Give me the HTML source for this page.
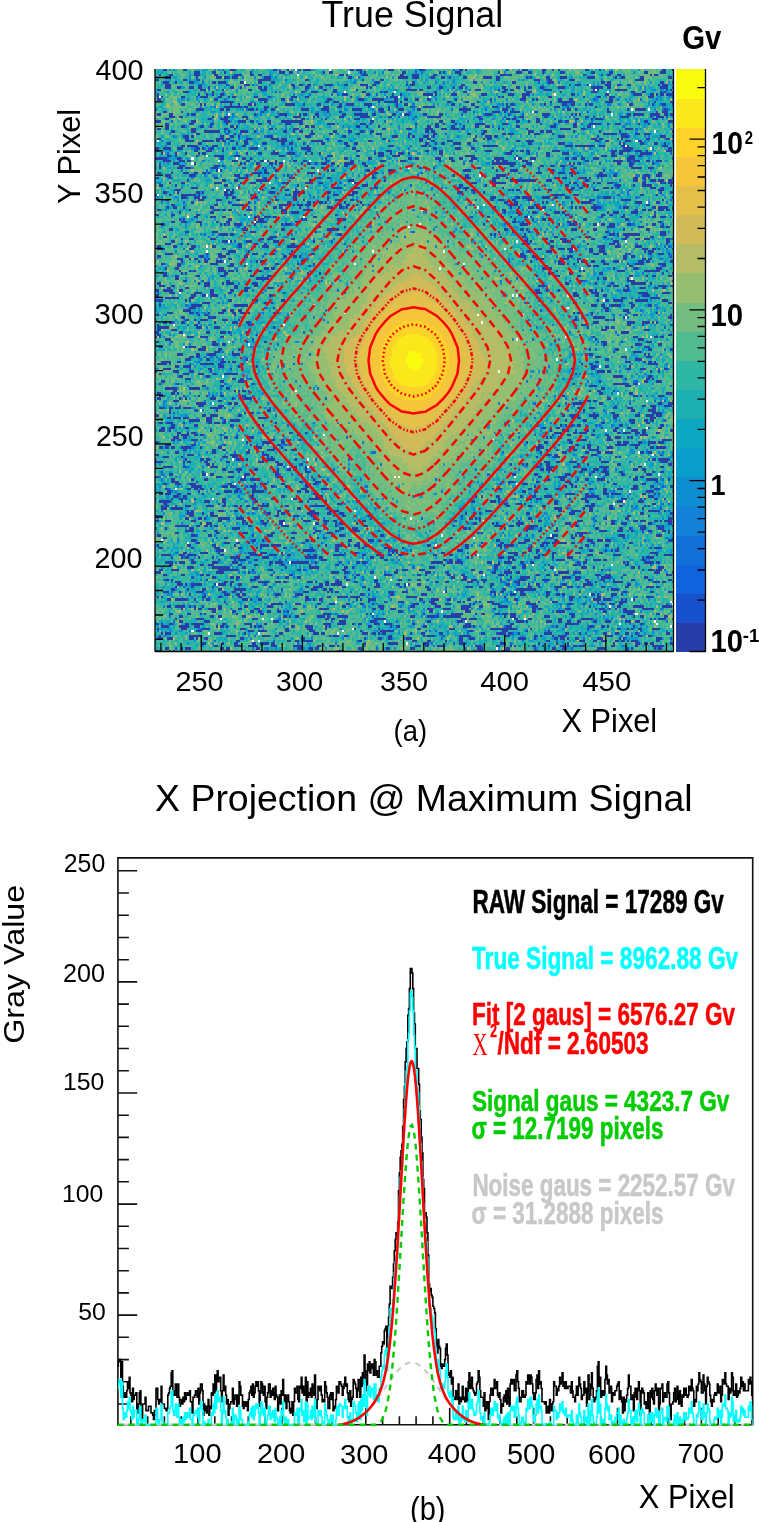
<!DOCTYPE html>
<html><head><meta charset="utf-8"><style>
html,body{margin:0;padding:0;background:#fff}
body{width:759px;height:1522px;position:relative;overflow:hidden;font-family:"Liberation Sans", sans-serif}
#hm{position:absolute;image-rendering:pixelated;left:155.0px;top:69.0px;width:518.5px;height:582.5px}
#fb{position:absolute;left:155.0px;top:69.0px}
svg.main{position:absolute;left:0;top:0}
</style></head><body>
<svg id="fb" width="518.5" height="582.5" viewBox="0 0 256 238" preserveAspectRatio="none" shape-rendering="crispEdges"><rect x="0" y="0" width="9" height="9" fill="#2e90a7"/><rect x="8" y="0" width="9" height="9" fill="#3ca69e"/><rect x="16" y="0" width="9" height="9" fill="#2990ac"/><rect x="24" y="0" width="9" height="9" fill="#3ba0a0"/><rect x="32" y="0" width="9" height="9" fill="#3291a6"/><rect x="40" y="0" width="9" height="9" fill="#4aa199"/><rect x="48" y="0" width="9" height="9" fill="#3796a3"/><rect x="56" y="0" width="9" height="9" fill="#2f9ea9"/><rect x="64" y="0" width="9" height="9" fill="#40a6a4"/><rect x="72" y="0" width="9" height="9" fill="#399ea2"/><rect x="80" y="0" width="9" height="9" fill="#3fa59f"/><rect x="88" y="0" width="9" height="9" fill="#41ab9f"/><rect x="96" y="0" width="9" height="9" fill="#3996a3"/><rect x="104" y="0" width="9" height="9" fill="#3ea29e"/><rect x="112" y="0" width="9" height="9" fill="#44ad9b"/><rect x="120" y="0" width="9" height="9" fill="#3597a3"/><rect x="128" y="0" width="9" height="9" fill="#299bad"/><rect x="136" y="0" width="9" height="9" fill="#309ea6"/><rect x="144" y="0" width="9" height="9" fill="#2b9aab"/><rect x="152" y="0" width="9" height="9" fill="#49aa97"/><rect x="160" y="0" width="9" height="9" fill="#4aaf97"/><rect x="168" y="0" width="9" height="9" fill="#3f9c9d"/><rect x="176" y="0" width="9" height="9" fill="#45a09a"/><rect x="184" y="0" width="9" height="9" fill="#379ca2"/><rect x="192" y="0" width="9" height="9" fill="#3b9da1"/><rect x="200" y="0" width="9" height="9" fill="#389da1"/><rect x="208" y="0" width="9" height="9" fill="#36a0a5"/><rect x="216" y="0" width="9" height="9" fill="#3494a5"/><rect x="224" y="0" width="9" height="9" fill="#409b9e"/><rect x="232" y="0" width="9" height="9" fill="#49ab97"/><rect x="240" y="0" width="9" height="9" fill="#4ea995"/><rect x="248" y="0" width="9" height="9" fill="#328ea4"/><rect x="0" y="8" width="9" height="10" fill="#3fa9a1"/><rect x="8" y="8" width="9" height="10" fill="#4ead95"/><rect x="16" y="8" width="9" height="10" fill="#399fa2"/><rect x="24" y="8" width="9" height="10" fill="#339ea7"/><rect x="32" y="8" width="9" height="10" fill="#2f88a7"/><rect x="40" y="8" width="9" height="10" fill="#3e9e9f"/><rect x="48" y="8" width="9" height="10" fill="#2c94aa"/><rect x="56" y="8" width="9" height="10" fill="#39a9a1"/><rect x="64" y="8" width="9" height="10" fill="#3ba3a1"/><rect x="72" y="8" width="9" height="10" fill="#2d9ba8"/><rect x="80" y="8" width="9" height="10" fill="#3098a7"/><rect x="88" y="8" width="9" height="10" fill="#3499a8"/><rect x="96" y="8" width="9" height="10" fill="#399ba1"/><rect x="104" y="8" width="9" height="10" fill="#3699a6"/><rect x="112" y="8" width="9" height="10" fill="#2c8bad"/><rect x="120" y="8" width="9" height="10" fill="#2e99ab"/><rect x="128" y="8" width="9" height="10" fill="#469b9b"/><rect x="136" y="8" width="9" height="10" fill="#35a8a4"/><rect x="144" y="8" width="9" height="10" fill="#3ca0a1"/><rect x="152" y="8" width="9" height="10" fill="#4d9a96"/><rect x="160" y="8" width="9" height="10" fill="#34a3a7"/><rect x="168" y="8" width="9" height="10" fill="#3291a7"/><rect x="176" y="8" width="9" height="10" fill="#3e9d9d"/><rect x="184" y="8" width="9" height="10" fill="#3faa9f"/><rect x="192" y="8" width="9" height="10" fill="#3c9fa2"/><rect x="200" y="8" width="9" height="10" fill="#2f8fa7"/><rect x="208" y="8" width="9" height="10" fill="#35a9a4"/><rect x="216" y="8" width="9" height="10" fill="#329dac"/><rect x="224" y="8" width="9" height="10" fill="#3e9f9f"/><rect x="232" y="8" width="9" height="10" fill="#429da0"/><rect x="240" y="8" width="9" height="10" fill="#309bab"/><rect x="248" y="8" width="9" height="10" fill="#2488b3"/><rect x="0" y="17" width="9" height="10" fill="#459898"/><rect x="8" y="17" width="9" height="10" fill="#47a598"/><rect x="16" y="17" width="9" height="10" fill="#359ea2"/><rect x="24" y="17" width="9" height="10" fill="#349aa5"/><rect x="32" y="17" width="9" height="10" fill="#2f92ac"/><rect x="40" y="17" width="9" height="10" fill="#339ba4"/><rect x="48" y="17" width="9" height="10" fill="#33a1a9"/><rect x="56" y="17" width="9" height="10" fill="#309da7"/><rect x="64" y="17" width="9" height="10" fill="#3489a5"/><rect x="72" y="17" width="9" height="10" fill="#3e9c9e"/><rect x="80" y="17" width="9" height="10" fill="#2ea2aa"/><rect x="88" y="17" width="9" height="10" fill="#37a2a4"/><rect x="96" y="17" width="9" height="10" fill="#258ead"/><rect x="104" y="17" width="9" height="10" fill="#349da7"/><rect x="112" y="17" width="9" height="10" fill="#3ba6a1"/><rect x="120" y="17" width="9" height="10" fill="#32a4ab"/><rect x="128" y="17" width="9" height="10" fill="#369ea2"/><rect x="136" y="17" width="9" height="10" fill="#43959a"/><rect x="144" y="17" width="9" height="10" fill="#30a0a7"/><rect x="152" y="17" width="9" height="10" fill="#30a2a7"/><rect x="160" y="17" width="9" height="10" fill="#3397a6"/><rect x="168" y="17" width="9" height="10" fill="#2a99ac"/><rect x="176" y="17" width="9" height="10" fill="#3398a6"/><rect x="184" y="17" width="9" height="10" fill="#45a09b"/><rect x="192" y="17" width="9" height="10" fill="#329ca5"/><rect x="200" y="17" width="9" height="10" fill="#3896a2"/><rect x="208" y="17" width="9" height="10" fill="#359ba6"/><rect x="216" y="17" width="9" height="10" fill="#339ea8"/><rect x="224" y="17" width="9" height="10" fill="#33a6a8"/><rect x="232" y="17" width="9" height="10" fill="#2c98ab"/><rect x="240" y="17" width="9" height="10" fill="#349ca7"/><rect x="248" y="17" width="9" height="10" fill="#3797a3"/><rect x="0" y="26" width="9" height="9" fill="#309bab"/><rect x="8" y="26" width="9" height="9" fill="#35a1a4"/><rect x="16" y="26" width="9" height="9" fill="#388da0"/><rect x="24" y="26" width="9" height="9" fill="#3492a3"/><rect x="32" y="26" width="9" height="9" fill="#2f8fa9"/><rect x="40" y="26" width="9" height="9" fill="#2e96ab"/><rect x="48" y="26" width="9" height="9" fill="#31a3ab"/><rect x="56" y="26" width="9" height="9" fill="#2c95a9"/><rect x="64" y="26" width="9" height="9" fill="#2e9fab"/><rect x="72" y="26" width="9" height="9" fill="#3a94a0"/><rect x="80" y="26" width="9" height="9" fill="#3ba5a0"/><rect x="88" y="26" width="9" height="9" fill="#34a3a5"/><rect x="96" y="26" width="9" height="9" fill="#36a3a4"/><rect x="104" y="26" width="9" height="9" fill="#3ea99f"/><rect x="112" y="26" width="9" height="9" fill="#339da4"/><rect x="120" y="26" width="9" height="9" fill="#34aaa6"/><rect x="128" y="26" width="9" height="9" fill="#3192a6"/><rect x="136" y="26" width="9" height="9" fill="#2c99a9"/><rect x="144" y="26" width="9" height="9" fill="#34a0a3"/><rect x="152" y="26" width="9" height="9" fill="#44a29b"/><rect x="160" y="26" width="9" height="9" fill="#3a939f"/><rect x="168" y="26" width="9" height="9" fill="#3fa79c"/><rect x="176" y="26" width="9" height="9" fill="#32a2a6"/><rect x="184" y="26" width="9" height="9" fill="#3da19e"/><rect x="192" y="26" width="9" height="9" fill="#38a7a1"/><rect x="200" y="26" width="9" height="9" fill="#35a1a4"/><rect x="208" y="26" width="9" height="9" fill="#3da29f"/><rect x="216" y="26" width="9" height="9" fill="#3494a4"/><rect x="224" y="26" width="9" height="9" fill="#338ba4"/><rect x="232" y="26" width="9" height="9" fill="#2b88b0"/><rect x="240" y="26" width="9" height="9" fill="#2e9dad"/><rect x="248" y="26" width="9" height="9" fill="#2e92a9"/><rect x="0" y="34" width="9" height="9" fill="#2b91ac"/><rect x="8" y="34" width="9" height="9" fill="#288dac"/><rect x="16" y="34" width="9" height="9" fill="#4fa99b"/><rect x="24" y="34" width="9" height="9" fill="#3ea0a8"/><rect x="32" y="34" width="9" height="9" fill="#339fa6"/><rect x="40" y="34" width="9" height="9" fill="#389ba6"/><rect x="48" y="34" width="9" height="9" fill="#34a0a9"/><rect x="56" y="34" width="9" height="9" fill="#3c97a2"/><rect x="64" y="34" width="9" height="9" fill="#37a3a5"/><rect x="72" y="34" width="9" height="9" fill="#3aa3a2"/><rect x="80" y="34" width="9" height="9" fill="#3997a9"/><rect x="88" y="34" width="9" height="9" fill="#46a29a"/><rect x="96" y="34" width="9" height="9" fill="#3ba39f"/><rect x="104" y="34" width="9" height="9" fill="#339da4"/><rect x="112" y="34" width="9" height="9" fill="#359ba4"/><rect x="120" y="34" width="9" height="9" fill="#43a19f"/><rect x="128" y="34" width="9" height="9" fill="#49af98"/><rect x="136" y="34" width="9" height="9" fill="#3da79f"/><rect x="144" y="34" width="9" height="9" fill="#50ac93"/><rect x="152" y="34" width="9" height="9" fill="#41989c"/><rect x="160" y="34" width="9" height="9" fill="#39a9a0"/><rect x="168" y="34" width="9" height="9" fill="#3487a3"/><rect x="176" y="34" width="9" height="9" fill="#3897a4"/><rect x="184" y="34" width="9" height="9" fill="#43a39f"/><rect x="192" y="34" width="9" height="9" fill="#38a4a2"/><rect x="200" y="34" width="9" height="9" fill="#2992ae"/><rect x="208" y="34" width="9" height="9" fill="#2ca4ab"/><rect x="216" y="34" width="9" height="9" fill="#3ea69e"/><rect x="224" y="34" width="9" height="9" fill="#3b9a9f"/><rect x="232" y="34" width="9" height="9" fill="#2c83a9"/><rect x="240" y="34" width="9" height="9" fill="#2b98ab"/><rect x="248" y="34" width="9" height="9" fill="#3eae9e"/><rect x="0" y="42" width="9" height="10" fill="#349ba5"/><rect x="8" y="42" width="9" height="10" fill="#37a1a3"/><rect x="16" y="42" width="9" height="10" fill="#379ca1"/><rect x="24" y="42" width="9" height="10" fill="#3ca6a4"/><rect x="32" y="42" width="9" height="10" fill="#429f9e"/><rect x="40" y="42" width="9" height="10" fill="#3d9fa2"/><rect x="48" y="42" width="9" height="10" fill="#3694a6"/><rect x="56" y="42" width="9" height="10" fill="#31a3ab"/><rect x="64" y="42" width="9" height="10" fill="#3e9c9e"/><rect x="72" y="42" width="9" height="10" fill="#39a1a3"/><rect x="80" y="42" width="9" height="10" fill="#259db0"/><rect x="88" y="42" width="9" height="10" fill="#2ba4ad"/><rect x="96" y="42" width="9" height="10" fill="#3a9ea3"/><rect x="104" y="42" width="9" height="10" fill="#39a3a2"/><rect x="112" y="42" width="9" height="10" fill="#49b299"/><rect x="120" y="42" width="9" height="10" fill="#52b692"/><rect x="128" y="42" width="9" height="10" fill="#4fb495"/><rect x="136" y="42" width="9" height="10" fill="#47b39a"/><rect x="144" y="42" width="9" height="10" fill="#44a99a"/><rect x="152" y="42" width="9" height="10" fill="#3798a1"/><rect x="160" y="42" width="9" height="10" fill="#41a49f"/><rect x="168" y="42" width="9" height="10" fill="#3b9a9f"/><rect x="176" y="42" width="9" height="10" fill="#3ba19f"/><rect x="184" y="42" width="9" height="10" fill="#45a799"/><rect x="192" y="42" width="9" height="10" fill="#3aa3a1"/><rect x="200" y="42" width="9" height="10" fill="#2b96aa"/><rect x="208" y="42" width="9" height="10" fill="#309ba7"/><rect x="216" y="42" width="9" height="10" fill="#3395a4"/><rect x="224" y="42" width="9" height="10" fill="#309daa"/><rect x="232" y="42" width="9" height="10" fill="#47aa9a"/><rect x="240" y="42" width="9" height="10" fill="#3791a1"/><rect x="248" y="42" width="9" height="10" fill="#398aa1"/><rect x="0" y="51" width="9" height="10" fill="#37a0a7"/><rect x="8" y="51" width="9" height="10" fill="#2e98a9"/><rect x="16" y="51" width="9" height="10" fill="#429b9b"/><rect x="24" y="51" width="9" height="10" fill="#3da19d"/><rect x="32" y="51" width="9" height="10" fill="#389aa1"/><rect x="40" y="51" width="9" height="10" fill="#3e9b9f"/><rect x="48" y="51" width="9" height="10" fill="#3ba8a2"/><rect x="56" y="51" width="9" height="10" fill="#399ea1"/><rect x="64" y="51" width="9" height="10" fill="#2e8aa8"/><rect x="72" y="51" width="9" height="10" fill="#3598a4"/><rect x="80" y="51" width="9" height="10" fill="#43a79b"/><rect x="88" y="51" width="9" height="10" fill="#369aa3"/><rect x="96" y="51" width="9" height="10" fill="#40a69f"/><rect x="104" y="51" width="9" height="10" fill="#3eb09f"/><rect x="112" y="51" width="9" height="10" fill="#5bb98d"/><rect x="120" y="51" width="9" height="10" fill="#69ba86"/><rect x="128" y="51" width="9" height="10" fill="#67b98b"/><rect x="136" y="51" width="9" height="10" fill="#4db795"/><rect x="144" y="51" width="9" height="10" fill="#42b59b"/><rect x="152" y="51" width="9" height="10" fill="#4bb29b"/><rect x="160" y="51" width="9" height="10" fill="#38aaa4"/><rect x="168" y="51" width="9" height="10" fill="#2f9ba8"/><rect x="176" y="51" width="9" height="10" fill="#2992ad"/><rect x="184" y="51" width="9" height="10" fill="#3496a7"/><rect x="192" y="51" width="9" height="10" fill="#3598a6"/><rect x="200" y="51" width="9" height="10" fill="#319ba8"/><rect x="208" y="51" width="9" height="10" fill="#43a59b"/><rect x="216" y="51" width="9" height="10" fill="#2a94ae"/><rect x="224" y="51" width="9" height="10" fill="#279baf"/><rect x="232" y="51" width="9" height="10" fill="#3099a9"/><rect x="240" y="51" width="9" height="10" fill="#3da0a1"/><rect x="248" y="51" width="9" height="10" fill="#3198a7"/><rect x="0" y="60" width="9" height="9" fill="#43b19a"/><rect x="8" y="60" width="9" height="9" fill="#33a0a5"/><rect x="16" y="60" width="9" height="9" fill="#3ea7a1"/><rect x="24" y="60" width="9" height="9" fill="#37a4a3"/><rect x="32" y="60" width="9" height="9" fill="#479799"/><rect x="40" y="60" width="9" height="9" fill="#2da1ad"/><rect x="48" y="60" width="9" height="9" fill="#3c94a2"/><rect x="56" y="60" width="9" height="9" fill="#3aa6a1"/><rect x="64" y="60" width="9" height="9" fill="#31a4a7"/><rect x="72" y="60" width="9" height="9" fill="#4cad99"/><rect x="80" y="60" width="9" height="9" fill="#42a89c"/><rect x="88" y="60" width="9" height="9" fill="#37a2a2"/><rect x="96" y="60" width="9" height="9" fill="#42b69b"/><rect x="104" y="60" width="9" height="9" fill="#59b590"/><rect x="112" y="60" width="9" height="9" fill="#66ba87"/><rect x="120" y="60" width="9" height="9" fill="#75bb84"/><rect x="128" y="60" width="9" height="9" fill="#77bc82"/><rect x="136" y="60" width="9" height="9" fill="#58b88f"/><rect x="144" y="60" width="9" height="9" fill="#4cb695"/><rect x="152" y="60" width="9" height="9" fill="#43b49e"/><rect x="160" y="60" width="9" height="9" fill="#42ae9c"/><rect x="168" y="60" width="9" height="9" fill="#34a6a7"/><rect x="176" y="60" width="9" height="9" fill="#208fb3"/><rect x="184" y="60" width="9" height="9" fill="#39a6a7"/><rect x="192" y="60" width="9" height="9" fill="#33a7a7"/><rect x="200" y="60" width="9" height="9" fill="#369aa3"/><rect x="208" y="60" width="9" height="9" fill="#42af9d"/><rect x="216" y="60" width="9" height="9" fill="#40a2a0"/><rect x="224" y="60" width="9" height="9" fill="#2f96a8"/><rect x="232" y="60" width="9" height="9" fill="#3595a5"/><rect x="240" y="60" width="9" height="9" fill="#4ba996"/><rect x="248" y="60" width="9" height="9" fill="#3894a1"/><rect x="0" y="68" width="9" height="9" fill="#469e97"/><rect x="8" y="68" width="9" height="9" fill="#41a69d"/><rect x="16" y="68" width="9" height="9" fill="#3da89e"/><rect x="24" y="68" width="9" height="9" fill="#47a9a0"/><rect x="32" y="68" width="9" height="9" fill="#369ba6"/><rect x="40" y="68" width="9" height="9" fill="#38a1a3"/><rect x="48" y="68" width="9" height="9" fill="#3099a7"/><rect x="56" y="68" width="9" height="9" fill="#339da5"/><rect x="64" y="68" width="9" height="9" fill="#359ca3"/><rect x="72" y="68" width="9" height="9" fill="#37a3a4"/><rect x="80" y="68" width="9" height="9" fill="#41b29e"/><rect x="88" y="68" width="9" height="9" fill="#40b29e"/><rect x="96" y="68" width="9" height="9" fill="#57b88f"/><rect x="104" y="68" width="9" height="9" fill="#75bd82"/><rect x="112" y="68" width="9" height="9" fill="#7fba7c"/><rect x="120" y="68" width="9" height="9" fill="#95bc72"/><rect x="128" y="68" width="9" height="9" fill="#9ebc6e"/><rect x="136" y="68" width="9" height="9" fill="#87bd7a"/><rect x="144" y="68" width="9" height="9" fill="#60b98a"/><rect x="152" y="68" width="9" height="9" fill="#5fb88c"/><rect x="160" y="68" width="9" height="9" fill="#50b594"/><rect x="168" y="68" width="9" height="9" fill="#50b697"/><rect x="176" y="68" width="9" height="9" fill="#369fa7"/><rect x="184" y="68" width="9" height="9" fill="#3ca6a0"/><rect x="192" y="68" width="9" height="9" fill="#399d9f"/><rect x="200" y="68" width="9" height="9" fill="#3695a5"/><rect x="208" y="68" width="9" height="9" fill="#3b9fa1"/><rect x="216" y="68" width="9" height="9" fill="#3692a3"/><rect x="224" y="68" width="9" height="9" fill="#419e9e"/><rect x="232" y="68" width="9" height="9" fill="#49a39b"/><rect x="240" y="68" width="9" height="9" fill="#3394a5"/><rect x="248" y="68" width="9" height="9" fill="#2b94ad"/><rect x="0" y="76" width="9" height="10" fill="#3da3a0"/><rect x="8" y="76" width="9" height="10" fill="#479b99"/><rect x="16" y="76" width="9" height="10" fill="#43a29b"/><rect x="24" y="76" width="9" height="10" fill="#419e9d"/><rect x="32" y="76" width="9" height="10" fill="#418e9e"/><rect x="40" y="76" width="9" height="10" fill="#3ca7a4"/><rect x="48" y="76" width="9" height="10" fill="#34a1a4"/><rect x="56" y="76" width="9" height="10" fill="#3fa89e"/><rect x="64" y="76" width="9" height="10" fill="#37a7a4"/><rect x="72" y="76" width="9" height="10" fill="#36a5a6"/><rect x="80" y="76" width="9" height="10" fill="#40b59b"/><rect x="88" y="76" width="9" height="10" fill="#57b88f"/><rect x="96" y="76" width="9" height="10" fill="#70bd85"/><rect x="104" y="76" width="9" height="10" fill="#88b979"/><rect x="112" y="76" width="9" height="10" fill="#a0bd6c"/><rect x="120" y="76" width="9" height="10" fill="#aebd67"/><rect x="128" y="76" width="9" height="10" fill="#b3bc65"/><rect x="136" y="76" width="9" height="10" fill="#9ebe70"/><rect x="144" y="76" width="9" height="10" fill="#7bba7e"/><rect x="152" y="76" width="9" height="10" fill="#75bb83"/><rect x="160" y="76" width="9" height="10" fill="#68ba87"/><rect x="168" y="76" width="9" height="10" fill="#4fb694"/><rect x="176" y="76" width="9" height="10" fill="#44af9a"/><rect x="184" y="76" width="9" height="10" fill="#37a3a2"/><rect x="192" y="76" width="9" height="10" fill="#3e9b9e"/><rect x="200" y="76" width="9" height="10" fill="#389ea1"/><rect x="208" y="76" width="9" height="10" fill="#42a09e"/><rect x="216" y="76" width="9" height="10" fill="#2c9ea9"/><rect x="224" y="76" width="9" height="10" fill="#3ba4a0"/><rect x="232" y="76" width="9" height="10" fill="#2e95a9"/><rect x="240" y="76" width="9" height="10" fill="#3493a3"/><rect x="248" y="76" width="9" height="10" fill="#2893ad"/><rect x="0" y="85" width="9" height="10" fill="#3e949e"/><rect x="8" y="85" width="9" height="10" fill="#449c9d"/><rect x="16" y="85" width="9" height="10" fill="#43a19b"/><rect x="24" y="85" width="9" height="10" fill="#399ba3"/><rect x="32" y="85" width="9" height="10" fill="#3c9e9f"/><rect x="40" y="85" width="9" height="10" fill="#38a9a0"/><rect x="48" y="85" width="9" height="10" fill="#379ca3"/><rect x="56" y="85" width="9" height="10" fill="#44ac9b"/><rect x="64" y="85" width="9" height="10" fill="#44b59a"/><rect x="72" y="85" width="9" height="10" fill="#44b49a"/><rect x="80" y="85" width="9" height="10" fill="#56b790"/><rect x="88" y="85" width="9" height="10" fill="#6bb889"/><rect x="96" y="85" width="9" height="10" fill="#88bc77"/><rect x="104" y="85" width="9" height="10" fill="#adbd67"/><rect x="112" y="85" width="9" height="10" fill="#bebc60"/><rect x="120" y="85" width="9" height="10" fill="#d1bc57"/><rect x="128" y="85" width="9" height="10" fill="#d1bc57"/><rect x="136" y="85" width="9" height="10" fill="#bdbc61"/><rect x="144" y="85" width="9" height="10" fill="#a3bd6b"/><rect x="152" y="85" width="9" height="10" fill="#8abd76"/><rect x="160" y="85" width="9" height="10" fill="#79bb7f"/><rect x="168" y="85" width="9" height="10" fill="#6ab887"/><rect x="176" y="85" width="9" height="10" fill="#6dbb8a"/><rect x="184" y="85" width="9" height="10" fill="#38a2a2"/><rect x="192" y="85" width="9" height="10" fill="#46af9a"/><rect x="200" y="85" width="9" height="10" fill="#3faaa0"/><rect x="208" y="85" width="9" height="10" fill="#3ea8a0"/><rect x="216" y="85" width="9" height="10" fill="#2d99a9"/><rect x="224" y="85" width="9" height="10" fill="#34a3a6"/><rect x="232" y="85" width="9" height="10" fill="#2f92ab"/><rect x="240" y="85" width="9" height="10" fill="#2d92a9"/><rect x="248" y="85" width="9" height="10" fill="#459f9a"/><rect x="0" y="94" width="9" height="9" fill="#2c9eab"/><rect x="8" y="94" width="9" height="9" fill="#43ab9a"/><rect x="16" y="94" width="9" height="9" fill="#288fae"/><rect x="24" y="94" width="9" height="9" fill="#3b9ea0"/><rect x="32" y="94" width="9" height="9" fill="#439f9b"/><rect x="40" y="94" width="9" height="9" fill="#459d9b"/><rect x="48" y="94" width="9" height="9" fill="#34a7a5"/><rect x="56" y="94" width="9" height="9" fill="#34a4a5"/><rect x="64" y="94" width="9" height="9" fill="#4ab697"/><rect x="72" y="94" width="9" height="9" fill="#56b993"/><rect x="80" y="94" width="9" height="9" fill="#67b987"/><rect x="88" y="94" width="9" height="9" fill="#92be75"/><rect x="96" y="94" width="9" height="9" fill="#a0bd6c"/><rect x="104" y="94" width="9" height="9" fill="#c5bc5d"/><rect x="112" y="94" width="9" height="9" fill="#e1bf4b"/><rect x="120" y="94" width="9" height="9" fill="#edc341"/><rect x="128" y="94" width="9" height="9" fill="#ebc242"/><rect x="136" y="94" width="9" height="9" fill="#ddbe4e"/><rect x="144" y="94" width="9" height="9" fill="#c1bc5f"/><rect x="152" y="94" width="9" height="9" fill="#aabe6b"/><rect x="160" y="94" width="9" height="9" fill="#94bc72"/><rect x="168" y="94" width="9" height="9" fill="#7abd7d"/><rect x="176" y="94" width="9" height="9" fill="#67ba8a"/><rect x="184" y="94" width="9" height="9" fill="#45b39a"/><rect x="192" y="94" width="9" height="9" fill="#43b69a"/><rect x="200" y="94" width="9" height="9" fill="#44af9d"/><rect x="208" y="94" width="9" height="9" fill="#44a79c"/><rect x="216" y="94" width="9" height="9" fill="#3792a5"/><rect x="224" y="94" width="9" height="9" fill="#3799a4"/><rect x="232" y="94" width="9" height="9" fill="#3998a4"/><rect x="240" y="94" width="9" height="9" fill="#27a1af"/><rect x="248" y="94" width="9" height="9" fill="#36a3a3"/><rect x="0" y="102" width="9" height="9" fill="#3991a1"/><rect x="8" y="102" width="9" height="9" fill="#44a3a3"/><rect x="16" y="102" width="9" height="9" fill="#3997a1"/><rect x="24" y="102" width="9" height="9" fill="#38a1a1"/><rect x="32" y="102" width="9" height="9" fill="#399da2"/><rect x="40" y="102" width="9" height="9" fill="#2ea2aa"/><rect x="48" y="102" width="9" height="9" fill="#30b0a8"/><rect x="56" y="102" width="9" height="9" fill="#38b2a5"/><rect x="64" y="102" width="9" height="9" fill="#50b992"/><rect x="72" y="102" width="9" height="9" fill="#5db88d"/><rect x="80" y="102" width="9" height="9" fill="#82bb7a"/><rect x="88" y="102" width="9" height="9" fill="#a0bd6c"/><rect x="96" y="102" width="9" height="9" fill="#bdbc60"/><rect x="104" y="102" width="9" height="9" fill="#e2c04a"/><rect x="112" y="102" width="9" height="9" fill="#f6c935"/><rect x="120" y="102" width="9" height="9" fill="#fbd42a"/><rect x="128" y="102" width="9" height="9" fill="#fbd22b"/><rect x="136" y="102" width="9" height="9" fill="#f6c936"/><rect x="144" y="102" width="9" height="9" fill="#e0bf4c"/><rect x="152" y="102" width="9" height="9" fill="#c1bc5f"/><rect x="160" y="102" width="9" height="9" fill="#b0be69"/><rect x="168" y="102" width="9" height="9" fill="#93bd72"/><rect x="176" y="102" width="9" height="9" fill="#6abb85"/><rect x="184" y="102" width="9" height="9" fill="#4cb695"/><rect x="192" y="102" width="9" height="9" fill="#51b892"/><rect x="200" y="102" width="9" height="9" fill="#4ab19b"/><rect x="208" y="102" width="9" height="9" fill="#45ab9a"/><rect x="216" y="102" width="9" height="9" fill="#45a398"/><rect x="224" y="102" width="9" height="9" fill="#54ac93"/><rect x="232" y="102" width="9" height="9" fill="#44a499"/><rect x="240" y="102" width="9" height="9" fill="#3b9da4"/><rect x="248" y="102" width="9" height="9" fill="#35a6a4"/><rect x="0" y="110" width="9" height="10" fill="#40a99d"/><rect x="8" y="110" width="9" height="10" fill="#51af94"/><rect x="16" y="110" width="9" height="10" fill="#3d9b9e"/><rect x="24" y="110" width="9" height="10" fill="#3792a4"/><rect x="32" y="110" width="9" height="10" fill="#41a8a3"/><rect x="40" y="110" width="9" height="10" fill="#32a7aa"/><rect x="48" y="110" width="9" height="10" fill="#35afa4"/><rect x="56" y="110" width="9" height="10" fill="#58b790"/><rect x="64" y="110" width="9" height="10" fill="#70ba83"/><rect x="72" y="110" width="9" height="10" fill="#7cba7d"/><rect x="80" y="110" width="9" height="10" fill="#a2bd6c"/><rect x="88" y="110" width="9" height="10" fill="#bcbc61"/><rect x="96" y="110" width="9" height="10" fill="#d7bc53"/><rect x="104" y="110" width="9" height="10" fill="#f0c53d"/><rect x="112" y="110" width="9" height="10" fill="#fcd826"/><rect x="120" y="110" width="9" height="10" fill="#faeb19"/><rect x="128" y="110" width="9" height="10" fill="#faea1a"/><rect x="136" y="110" width="9" height="10" fill="#fcd727"/><rect x="144" y="110" width="9" height="10" fill="#efc43e"/><rect x="152" y="110" width="9" height="10" fill="#d5bc54"/><rect x="160" y="110" width="9" height="10" fill="#b7bc63"/><rect x="168" y="110" width="9" height="10" fill="#abbd68"/><rect x="176" y="110" width="9" height="10" fill="#87bd7a"/><rect x="184" y="110" width="9" height="10" fill="#6dbb84"/><rect x="192" y="110" width="9" height="10" fill="#4cb699"/><rect x="200" y="110" width="9" height="10" fill="#4cb596"/><rect x="208" y="110" width="9" height="10" fill="#47ad9b"/><rect x="216" y="110" width="9" height="10" fill="#3fa09e"/><rect x="224" y="110" width="9" height="10" fill="#4bac97"/><rect x="232" y="110" width="9" height="10" fill="#379ca5"/><rect x="240" y="110" width="9" height="10" fill="#319ba5"/><rect x="248" y="110" width="9" height="10" fill="#3cada0"/><rect x="0" y="119" width="9" height="10" fill="#449799"/><rect x="8" y="119" width="9" height="10" fill="#439e9b"/><rect x="16" y="119" width="9" height="10" fill="#349ca5"/><rect x="24" y="119" width="9" height="10" fill="#2f9aa8"/><rect x="32" y="119" width="9" height="10" fill="#3492a7"/><rect x="40" y="119" width="9" height="10" fill="#329fa8"/><rect x="48" y="119" width="9" height="10" fill="#3cb29f"/><rect x="56" y="119" width="9" height="10" fill="#5fb68d"/><rect x="64" y="119" width="9" height="10" fill="#6eba84"/><rect x="72" y="119" width="9" height="10" fill="#7dbc7c"/><rect x="80" y="119" width="9" height="10" fill="#99bd6f"/><rect x="88" y="119" width="9" height="10" fill="#b8bc63"/><rect x="96" y="119" width="9" height="10" fill="#d5bc54"/><rect x="104" y="119" width="9" height="10" fill="#f1c53c"/><rect x="112" y="119" width="9" height="10" fill="#fcd925"/><rect x="120" y="119" width="9" height="10" fill="#faeb19"/><rect x="128" y="119" width="9" height="10" fill="#faeb19"/><rect x="136" y="119" width="9" height="10" fill="#fcd727"/><rect x="144" y="119" width="9" height="10" fill="#f0c43d"/><rect x="152" y="119" width="9" height="10" fill="#d6bc53"/><rect x="160" y="119" width="9" height="10" fill="#bcbc61"/><rect x="168" y="119" width="9" height="10" fill="#adbe6a"/><rect x="176" y="119" width="9" height="10" fill="#8cbc76"/><rect x="184" y="119" width="9" height="10" fill="#66b889"/><rect x="192" y="119" width="9" height="10" fill="#56b890"/><rect x="200" y="119" width="9" height="10" fill="#33aca7"/><rect x="208" y="119" width="9" height="10" fill="#34a7a6"/><rect x="216" y="119" width="9" height="10" fill="#329ca9"/><rect x="224" y="119" width="9" height="10" fill="#40ab9d"/><rect x="232" y="119" width="9" height="10" fill="#36a2a5"/><rect x="240" y="119" width="9" height="10" fill="#328fa6"/><rect x="248" y="119" width="9" height="10" fill="#3ca9a1"/><rect x="0" y="128" width="9" height="9" fill="#399ea1"/><rect x="8" y="128" width="9" height="9" fill="#46989a"/><rect x="16" y="128" width="9" height="9" fill="#4aa897"/><rect x="24" y="128" width="9" height="9" fill="#33a3a5"/><rect x="32" y="128" width="9" height="9" fill="#319da8"/><rect x="40" y="128" width="9" height="9" fill="#399da4"/><rect x="48" y="128" width="9" height="9" fill="#35aea5"/><rect x="56" y="128" width="9" height="9" fill="#51b892"/><rect x="64" y="128" width="9" height="9" fill="#6aba89"/><rect x="72" y="128" width="9" height="9" fill="#66ba87"/><rect x="80" y="128" width="9" height="9" fill="#81ba7b"/><rect x="88" y="128" width="9" height="9" fill="#a7bd69"/><rect x="96" y="128" width="9" height="9" fill="#c0bc5f"/><rect x="104" y="128" width="9" height="9" fill="#e1bf4a"/><rect x="112" y="128" width="9" height="9" fill="#f7ca34"/><rect x="120" y="128" width="9" height="9" fill="#fbd42a"/><rect x="128" y="128" width="9" height="9" fill="#fbd42a"/><rect x="136" y="128" width="9" height="9" fill="#f6c936"/><rect x="144" y="128" width="9" height="9" fill="#e1bf4b"/><rect x="152" y="128" width="9" height="9" fill="#c1bc5f"/><rect x="160" y="128" width="9" height="9" fill="#aabd68"/><rect x="168" y="128" width="9" height="9" fill="#97bd70"/><rect x="176" y="128" width="9" height="9" fill="#7abc7d"/><rect x="184" y="128" width="9" height="9" fill="#66b988"/><rect x="192" y="128" width="9" height="9" fill="#53b792"/><rect x="200" y="128" width="9" height="9" fill="#44b19b"/><rect x="208" y="128" width="9" height="9" fill="#49ab99"/><rect x="216" y="128" width="9" height="9" fill="#389fa2"/><rect x="224" y="128" width="9" height="9" fill="#38a4a5"/><rect x="232" y="128" width="9" height="9" fill="#409fa0"/><rect x="240" y="128" width="9" height="9" fill="#38b2a6"/><rect x="248" y="128" width="9" height="9" fill="#3ba5a2"/><rect x="0" y="136" width="9" height="9" fill="#3a9fa3"/><rect x="8" y="136" width="9" height="9" fill="#3098a8"/><rect x="16" y="136" width="9" height="9" fill="#4094a0"/><rect x="24" y="136" width="9" height="9" fill="#3f939f"/><rect x="32" y="136" width="9" height="9" fill="#439c9d"/><rect x="40" y="136" width="9" height="9" fill="#3ba69f"/><rect x="48" y="136" width="9" height="9" fill="#3fa89d"/><rect x="56" y="136" width="9" height="9" fill="#46b19a"/><rect x="64" y="136" width="9" height="9" fill="#62ba89"/><rect x="72" y="136" width="9" height="9" fill="#60ba8a"/><rect x="80" y="136" width="9" height="9" fill="#7ebd7b"/><rect x="88" y="136" width="9" height="9" fill="#96bd70"/><rect x="96" y="136" width="9" height="9" fill="#a9bd69"/><rect x="104" y="136" width="9" height="9" fill="#c3bc5e"/><rect x="112" y="136" width="9" height="9" fill="#e1bf4a"/><rect x="120" y="136" width="9" height="9" fill="#ecc342"/><rect x="128" y="136" width="9" height="9" fill="#ebc242"/><rect x="136" y="136" width="9" height="9" fill="#dfbf4c"/><rect x="144" y="136" width="9" height="9" fill="#c2bc5e"/><rect x="152" y="136" width="9" height="9" fill="#adbd67"/><rect x="160" y="136" width="9" height="9" fill="#92bd72"/><rect x="168" y="136" width="9" height="9" fill="#72ba82"/><rect x="176" y="136" width="9" height="9" fill="#54b990"/><rect x="184" y="136" width="9" height="9" fill="#52b697"/><rect x="192" y="136" width="9" height="9" fill="#46b399"/><rect x="200" y="136" width="9" height="9" fill="#3c9ea1"/><rect x="208" y="136" width="9" height="9" fill="#2e97a6"/><rect x="216" y="136" width="9" height="9" fill="#34a0a5"/><rect x="224" y="136" width="9" height="9" fill="#319ea7"/><rect x="232" y="136" width="9" height="9" fill="#359fa3"/><rect x="240" y="136" width="9" height="9" fill="#3584a2"/><rect x="248" y="136" width="9" height="9" fill="#3496a7"/><rect x="0" y="144" width="9" height="10" fill="#3a9ea0"/><rect x="8" y="144" width="9" height="10" fill="#308ca8"/><rect x="16" y="144" width="9" height="10" fill="#3399a5"/><rect x="24" y="144" width="9" height="10" fill="#4dac96"/><rect x="32" y="144" width="9" height="10" fill="#46a89b"/><rect x="40" y="144" width="9" height="10" fill="#3aaca3"/><rect x="48" y="144" width="9" height="10" fill="#3ba7a1"/><rect x="56" y="144" width="9" height="10" fill="#41a89d"/><rect x="64" y="144" width="9" height="10" fill="#3fab9e"/><rect x="72" y="144" width="9" height="10" fill="#38afa3"/><rect x="80" y="144" width="9" height="10" fill="#62bb8b"/><rect x="88" y="144" width="9" height="10" fill="#75b981"/><rect x="96" y="144" width="9" height="10" fill="#89bc77"/><rect x="104" y="144" width="9" height="10" fill="#9ebd6d"/><rect x="112" y="144" width="9" height="10" fill="#bebc60"/><rect x="120" y="144" width="9" height="10" fill="#d4bc56"/><rect x="128" y="144" width="9" height="10" fill="#d2bb57"/><rect x="136" y="144" width="9" height="10" fill="#bfbc60"/><rect x="144" y="144" width="9" height="10" fill="#a5bd6a"/><rect x="152" y="144" width="9" height="10" fill="#8bbc76"/><rect x="160" y="144" width="9" height="10" fill="#79bb82"/><rect x="168" y="144" width="9" height="10" fill="#58b690"/><rect x="176" y="144" width="9" height="10" fill="#54b591"/><rect x="184" y="144" width="9" height="10" fill="#36aca5"/><rect x="192" y="144" width="9" height="10" fill="#3a9da1"/><rect x="200" y="144" width="9" height="10" fill="#3593a4"/><rect x="208" y="144" width="9" height="10" fill="#2f9ba7"/><rect x="216" y="144" width="9" height="10" fill="#2ea0ac"/><rect x="224" y="144" width="9" height="10" fill="#3595a6"/><rect x="232" y="144" width="9" height="10" fill="#3392a5"/><rect x="240" y="144" width="9" height="10" fill="#3d9ba2"/><rect x="248" y="144" width="9" height="10" fill="#4a9e96"/><rect x="0" y="153" width="9" height="10" fill="#3699a2"/><rect x="8" y="153" width="9" height="10" fill="#339da5"/><rect x="16" y="153" width="9" height="10" fill="#2b9bab"/><rect x="24" y="153" width="9" height="10" fill="#3da19e"/><rect x="32" y="153" width="9" height="10" fill="#3c9aa4"/><rect x="40" y="153" width="9" height="10" fill="#2fa0a7"/><rect x="48" y="153" width="9" height="10" fill="#40999e"/><rect x="56" y="153" width="9" height="10" fill="#3697a2"/><rect x="64" y="153" width="9" height="10" fill="#3aa8a1"/><rect x="72" y="153" width="9" height="10" fill="#49b49b"/><rect x="80" y="153" width="9" height="10" fill="#5cb98d"/><rect x="88" y="153" width="9" height="10" fill="#6bba85"/><rect x="96" y="153" width="9" height="10" fill="#5ebb8a"/><rect x="104" y="153" width="9" height="10" fill="#77b980"/><rect x="112" y="153" width="9" height="10" fill="#a1bd6c"/><rect x="120" y="153" width="9" height="10" fill="#b5bc64"/><rect x="128" y="153" width="9" height="10" fill="#b7bc63"/><rect x="136" y="153" width="9" height="10" fill="#9ebd6d"/><rect x="144" y="153" width="9" height="10" fill="#85bc79"/><rect x="152" y="153" width="9" height="10" fill="#75bc7f"/><rect x="160" y="153" width="9" height="10" fill="#68ba86"/><rect x="168" y="153" width="9" height="10" fill="#48b299"/><rect x="176" y="153" width="9" height="10" fill="#44b09b"/><rect x="184" y="153" width="9" height="10" fill="#3ba1a0"/><rect x="192" y="153" width="9" height="10" fill="#3395a5"/><rect x="200" y="153" width="9" height="10" fill="#399ea2"/><rect x="208" y="153" width="9" height="10" fill="#3298a6"/><rect x="216" y="153" width="9" height="10" fill="#3398a4"/><rect x="224" y="153" width="9" height="10" fill="#409f9d"/><rect x="232" y="153" width="9" height="10" fill="#38a5a6"/><rect x="240" y="153" width="9" height="10" fill="#35a2ab"/><rect x="248" y="153" width="9" height="10" fill="#3691a5"/><rect x="0" y="162" width="9" height="9" fill="#2d99ac"/><rect x="8" y="162" width="9" height="9" fill="#3a9ba1"/><rect x="16" y="162" width="9" height="9" fill="#32a3a6"/><rect x="24" y="162" width="9" height="9" fill="#40a39e"/><rect x="32" y="162" width="9" height="9" fill="#3a9fa4"/><rect x="40" y="162" width="9" height="9" fill="#2f9bab"/><rect x="48" y="162" width="9" height="9" fill="#2f9fa7"/><rect x="56" y="162" width="9" height="9" fill="#3c9fa0"/><rect x="64" y="162" width="9" height="9" fill="#38a3a6"/><rect x="72" y="162" width="9" height="9" fill="#3894a8"/><rect x="80" y="162" width="9" height="9" fill="#42ad9d"/><rect x="88" y="162" width="9" height="9" fill="#51b693"/><rect x="96" y="162" width="9" height="9" fill="#48b797"/><rect x="104" y="162" width="9" height="9" fill="#6fbc82"/><rect x="112" y="162" width="9" height="9" fill="#8bbe78"/><rect x="120" y="162" width="9" height="9" fill="#98be73"/><rect x="128" y="162" width="9" height="9" fill="#95bd71"/><rect x="136" y="162" width="9" height="9" fill="#78bb7f"/><rect x="144" y="162" width="9" height="9" fill="#67ba87"/><rect x="152" y="162" width="9" height="9" fill="#4cb597"/><rect x="160" y="162" width="9" height="9" fill="#4cb696"/><rect x="168" y="162" width="9" height="9" fill="#38a8a4"/><rect x="176" y="162" width="9" height="9" fill="#45aaa1"/><rect x="184" y="162" width="9" height="9" fill="#379ea3"/><rect x="192" y="162" width="9" height="9" fill="#359da4"/><rect x="200" y="162" width="9" height="9" fill="#3095a6"/><rect x="208" y="162" width="9" height="9" fill="#2c99ac"/><rect x="216" y="162" width="9" height="9" fill="#2f87ac"/><rect x="224" y="162" width="9" height="9" fill="#38a8a1"/><rect x="232" y="162" width="9" height="9" fill="#3aa59f"/><rect x="240" y="162" width="9" height="9" fill="#2c92a8"/><rect x="248" y="162" width="9" height="9" fill="#33a4aa"/><rect x="0" y="170" width="9" height="9" fill="#2d8faa"/><rect x="8" y="170" width="9" height="9" fill="#2e97ad"/><rect x="16" y="170" width="9" height="9" fill="#2c93a9"/><rect x="24" y="170" width="9" height="9" fill="#32a7a8"/><rect x="32" y="170" width="9" height="9" fill="#3596a2"/><rect x="40" y="170" width="9" height="9" fill="#299eb0"/><rect x="48" y="170" width="9" height="9" fill="#2e8ca9"/><rect x="56" y="170" width="9" height="9" fill="#40aa9d"/><rect x="64" y="170" width="9" height="9" fill="#45aa9c"/><rect x="72" y="170" width="9" height="9" fill="#3696a2"/><rect x="80" y="170" width="9" height="9" fill="#39a0a1"/><rect x="88" y="170" width="9" height="9" fill="#41ac9d"/><rect x="96" y="170" width="9" height="9" fill="#3cb2a3"/><rect x="104" y="170" width="9" height="9" fill="#54b692"/><rect x="112" y="170" width="9" height="9" fill="#66b988"/><rect x="120" y="170" width="9" height="9" fill="#7ebb7c"/><rect x="128" y="170" width="9" height="9" fill="#71bb82"/><rect x="136" y="170" width="9" height="9" fill="#67b988"/><rect x="144" y="170" width="9" height="9" fill="#56b98f"/><rect x="152" y="170" width="9" height="9" fill="#38ada1"/><rect x="160" y="170" width="9" height="9" fill="#48ab99"/><rect x="168" y="170" width="9" height="9" fill="#3da2a0"/><rect x="176" y="170" width="9" height="9" fill="#34a0a6"/><rect x="184" y="170" width="9" height="9" fill="#2896ad"/><rect x="192" y="170" width="9" height="9" fill="#2e9ba8"/><rect x="200" y="170" width="9" height="9" fill="#3ba0a1"/><rect x="208" y="170" width="9" height="9" fill="#3897a2"/><rect x="216" y="170" width="9" height="9" fill="#3098a7"/><rect x="224" y="170" width="9" height="9" fill="#3696ad"/><rect x="232" y="170" width="9" height="9" fill="#36a1a7"/><rect x="240" y="170" width="9" height="9" fill="#2e8ca8"/><rect x="248" y="170" width="9" height="9" fill="#35a2a7"/><rect x="0" y="178" width="9" height="10" fill="#3d9aa0"/><rect x="8" y="178" width="9" height="10" fill="#3499a4"/><rect x="16" y="178" width="9" height="10" fill="#3c959f"/><rect x="24" y="178" width="9" height="10" fill="#388ea1"/><rect x="32" y="178" width="9" height="10" fill="#3d9ea0"/><rect x="40" y="178" width="9" height="10" fill="#2f95a8"/><rect x="48" y="178" width="9" height="10" fill="#2f9aa8"/><rect x="56" y="178" width="9" height="10" fill="#429e9d"/><rect x="64" y="178" width="9" height="10" fill="#42a19c"/><rect x="72" y="178" width="9" height="10" fill="#3a92a3"/><rect x="80" y="178" width="9" height="10" fill="#3298a5"/><rect x="88" y="178" width="9" height="10" fill="#2f9ba7"/><rect x="96" y="178" width="9" height="10" fill="#32aba9"/><rect x="104" y="178" width="9" height="10" fill="#32aca5"/><rect x="112" y="178" width="9" height="10" fill="#4db895"/><rect x="120" y="178" width="9" height="10" fill="#68bc89"/><rect x="128" y="178" width="9" height="10" fill="#62b98a"/><rect x="136" y="178" width="9" height="10" fill="#61ba8a"/><rect x="144" y="178" width="9" height="10" fill="#2fa9a9"/><rect x="152" y="178" width="9" height="10" fill="#2da0ab"/><rect x="160" y="178" width="9" height="10" fill="#40a89f"/><rect x="168" y="178" width="9" height="10" fill="#3fa89e"/><rect x="176" y="178" width="9" height="10" fill="#3fa69e"/><rect x="184" y="178" width="9" height="10" fill="#369ea5"/><rect x="192" y="178" width="9" height="10" fill="#36a5a4"/><rect x="200" y="178" width="9" height="10" fill="#3e9e9e"/><rect x="208" y="178" width="9" height="10" fill="#3d9c9d"/><rect x="216" y="178" width="9" height="10" fill="#3faaa1"/><rect x="224" y="178" width="9" height="10" fill="#42a09c"/><rect x="232" y="178" width="9" height="10" fill="#339fa7"/><rect x="240" y="178" width="9" height="10" fill="#3494a3"/><rect x="248" y="178" width="9" height="10" fill="#218eb2"/><rect x="0" y="187" width="9" height="10" fill="#46a89c"/><rect x="8" y="187" width="9" height="10" fill="#3aaea1"/><rect x="16" y="187" width="9" height="10" fill="#379ca6"/><rect x="24" y="187" width="9" height="10" fill="#3a9fa0"/><rect x="32" y="187" width="9" height="10" fill="#3ca79f"/><rect x="40" y="187" width="9" height="10" fill="#2ba1ad"/><rect x="48" y="187" width="9" height="10" fill="#2e9ea9"/><rect x="56" y="187" width="9" height="10" fill="#3fa69c"/><rect x="64" y="187" width="9" height="10" fill="#3fab9d"/><rect x="72" y="187" width="9" height="10" fill="#3da4a0"/><rect x="80" y="187" width="9" height="10" fill="#30a0a8"/><rect x="88" y="187" width="9" height="10" fill="#399aa1"/><rect x="96" y="187" width="9" height="10" fill="#429a9b"/><rect x="104" y="187" width="9" height="10" fill="#33a5a7"/><rect x="112" y="187" width="9" height="10" fill="#3ba9a1"/><rect x="120" y="187" width="9" height="10" fill="#49b398"/><rect x="128" y="187" width="9" height="10" fill="#3eaf9e"/><rect x="136" y="187" width="9" height="10" fill="#4eb79a"/><rect x="144" y="187" width="9" height="10" fill="#45b498"/><rect x="152" y="187" width="9" height="10" fill="#4ea998"/><rect x="160" y="187" width="9" height="10" fill="#46b19a"/><rect x="168" y="187" width="9" height="10" fill="#329ba6"/><rect x="176" y="187" width="9" height="10" fill="#2ea0a8"/><rect x="184" y="187" width="9" height="10" fill="#319ba7"/><rect x="192" y="187" width="9" height="10" fill="#3593a6"/><rect x="200" y="187" width="9" height="10" fill="#49a996"/><rect x="208" y="187" width="9" height="10" fill="#399aa1"/><rect x="216" y="187" width="9" height="10" fill="#369da2"/><rect x="224" y="187" width="9" height="10" fill="#2c9ea9"/><rect x="232" y="187" width="9" height="10" fill="#2da4aa"/><rect x="240" y="187" width="9" height="10" fill="#38a2a3"/><rect x="248" y="187" width="9" height="10" fill="#2f97a8"/><rect x="0" y="196" width="9" height="9" fill="#2ba1a9"/><rect x="8" y="196" width="9" height="9" fill="#3b98a2"/><rect x="16" y="196" width="9" height="9" fill="#3194a6"/><rect x="24" y="196" width="9" height="9" fill="#3392a5"/><rect x="32" y="196" width="9" height="9" fill="#3798a5"/><rect x="40" y="196" width="9" height="9" fill="#258db0"/><rect x="48" y="196" width="9" height="9" fill="#2a91aa"/><rect x="56" y="196" width="9" height="9" fill="#2891ae"/><rect x="64" y="196" width="9" height="9" fill="#239cb5"/><rect x="72" y="196" width="9" height="9" fill="#257eaf"/><rect x="80" y="196" width="9" height="9" fill="#3aa8a1"/><rect x="88" y="196" width="9" height="9" fill="#2e99a9"/><rect x="96" y="196" width="9" height="9" fill="#2c9dab"/><rect x="104" y="196" width="9" height="9" fill="#33a5a5"/><rect x="112" y="196" width="9" height="9" fill="#3498a6"/><rect x="120" y="196" width="9" height="9" fill="#3daaa2"/><rect x="128" y="196" width="9" height="9" fill="#43b59a"/><rect x="136" y="196" width="9" height="9" fill="#3a999f"/><rect x="144" y="196" width="9" height="9" fill="#3494a4"/><rect x="152" y="196" width="9" height="9" fill="#48b29d"/><rect x="160" y="196" width="9" height="9" fill="#43ae9b"/><rect x="168" y="196" width="9" height="9" fill="#2f93a7"/><rect x="176" y="196" width="9" height="9" fill="#3292a3"/><rect x="184" y="196" width="9" height="9" fill="#319ca9"/><rect x="192" y="196" width="9" height="9" fill="#309ca6"/><rect x="200" y="196" width="9" height="9" fill="#45a49b"/><rect x="208" y="196" width="9" height="9" fill="#3594a5"/><rect x="216" y="196" width="9" height="9" fill="#3ca29f"/><rect x="224" y="196" width="9" height="9" fill="#39a7a2"/><rect x="232" y="196" width="9" height="9" fill="#34a6a5"/><rect x="240" y="196" width="9" height="9" fill="#2d8fa8"/><rect x="248" y="196" width="9" height="9" fill="#32a2a5"/><rect x="0" y="204" width="9" height="9" fill="#37a2a2"/><rect x="8" y="204" width="9" height="9" fill="#3597a2"/><rect x="16" y="204" width="9" height="9" fill="#2b9eac"/><rect x="24" y="204" width="9" height="9" fill="#359fa7"/><rect x="32" y="204" width="9" height="9" fill="#318da5"/><rect x="40" y="204" width="9" height="9" fill="#38a1a4"/><rect x="48" y="204" width="9" height="9" fill="#3c96a1"/><rect x="56" y="204" width="9" height="9" fill="#3ba1a1"/><rect x="64" y="204" width="9" height="9" fill="#36a0a4"/><rect x="72" y="204" width="9" height="9" fill="#37a3a3"/><rect x="80" y="204" width="9" height="9" fill="#3aa09f"/><rect x="88" y="204" width="9" height="9" fill="#398ea4"/><rect x="96" y="204" width="9" height="9" fill="#31a1a9"/><rect x="104" y="204" width="9" height="9" fill="#3aa1a2"/><rect x="112" y="204" width="9" height="9" fill="#40a6a0"/><rect x="120" y="204" width="9" height="9" fill="#44a19e"/><rect x="128" y="204" width="9" height="9" fill="#449999"/><rect x="136" y="204" width="9" height="9" fill="#41ac9d"/><rect x="144" y="204" width="9" height="9" fill="#3ca4a0"/><rect x="152" y="204" width="9" height="9" fill="#3391a5"/><rect x="160" y="204" width="9" height="9" fill="#349aa6"/><rect x="168" y="204" width="9" height="9" fill="#288fb0"/><rect x="176" y="204" width="9" height="9" fill="#2a95ab"/><rect x="184" y="204" width="9" height="9" fill="#369ea4"/><rect x="192" y="204" width="9" height="9" fill="#3c9da4"/><rect x="200" y="204" width="9" height="9" fill="#378ea4"/><rect x="208" y="204" width="9" height="9" fill="#3595a4"/><rect x="216" y="204" width="9" height="9" fill="#2a90ac"/><rect x="224" y="204" width="9" height="9" fill="#339fa5"/><rect x="232" y="204" width="9" height="9" fill="#3fa89e"/><rect x="240" y="204" width="9" height="9" fill="#3792a1"/><rect x="248" y="204" width="9" height="9" fill="#3f9c9d"/><rect x="0" y="212" width="9" height="10" fill="#30a2a7"/><rect x="8" y="212" width="9" height="10" fill="#3897a4"/><rect x="16" y="212" width="9" height="10" fill="#2e96a9"/><rect x="24" y="212" width="9" height="10" fill="#379ca4"/><rect x="32" y="212" width="9" height="10" fill="#379ba3"/><rect x="40" y="212" width="9" height="10" fill="#3090a6"/><rect x="48" y="212" width="9" height="10" fill="#2fa5a9"/><rect x="56" y="212" width="9" height="10" fill="#3c9da1"/><rect x="64" y="212" width="9" height="10" fill="#39a1a3"/><rect x="72" y="212" width="9" height="10" fill="#3a9da1"/><rect x="80" y="212" width="9" height="10" fill="#3894a1"/><rect x="88" y="212" width="9" height="10" fill="#41a29e"/><rect x="96" y="212" width="9" height="10" fill="#389fa3"/><rect x="104" y="212" width="9" height="10" fill="#2a9aac"/><rect x="112" y="212" width="9" height="10" fill="#41a19d"/><rect x="120" y="212" width="9" height="10" fill="#409c9e"/><rect x="128" y="212" width="9" height="10" fill="#3c9d9e"/><rect x="136" y="212" width="9" height="10" fill="#43999e"/><rect x="144" y="212" width="9" height="10" fill="#3fa39e"/><rect x="152" y="212" width="9" height="10" fill="#3c9ba0"/><rect x="160" y="212" width="9" height="10" fill="#3e9c9f"/><rect x="168" y="212" width="9" height="10" fill="#2a97ad"/><rect x="176" y="212" width="9" height="10" fill="#41999f"/><rect x="184" y="212" width="9" height="10" fill="#3596a3"/><rect x="192" y="212" width="9" height="10" fill="#309ea7"/><rect x="200" y="212" width="9" height="10" fill="#309ca8"/><rect x="208" y="212" width="9" height="10" fill="#2ea5ae"/><rect x="216" y="212" width="9" height="10" fill="#2e8cac"/><rect x="224" y="212" width="9" height="10" fill="#3288a8"/><rect x="232" y="212" width="9" height="10" fill="#41a69f"/><rect x="240" y="212" width="9" height="10" fill="#359ea3"/><rect x="248" y="212" width="9" height="10" fill="#46a7a0"/><rect x="0" y="221" width="9" height="10" fill="#339da8"/><rect x="8" y="221" width="9" height="10" fill="#3999a2"/><rect x="16" y="221" width="9" height="10" fill="#328ea7"/><rect x="24" y="221" width="9" height="10" fill="#45a299"/><rect x="32" y="221" width="9" height="10" fill="#40a7a0"/><rect x="40" y="221" width="9" height="10" fill="#48a097"/><rect x="48" y="221" width="9" height="10" fill="#3d96a2"/><rect x="56" y="221" width="9" height="10" fill="#3da6a2"/><rect x="64" y="221" width="9" height="10" fill="#3ba0a1"/><rect x="72" y="221" width="9" height="10" fill="#42a39a"/><rect x="80" y="221" width="9" height="10" fill="#3c949f"/><rect x="88" y="221" width="9" height="10" fill="#439f9e"/><rect x="96" y="221" width="9" height="10" fill="#40ad9f"/><rect x="104" y="221" width="9" height="10" fill="#2a93af"/><rect x="112" y="221" width="9" height="10" fill="#319aaa"/><rect x="120" y="221" width="9" height="10" fill="#3ba9a0"/><rect x="128" y="221" width="9" height="10" fill="#3ea0a0"/><rect x="136" y="221" width="9" height="10" fill="#2fa4ac"/><rect x="144" y="221" width="9" height="10" fill="#3a92a1"/><rect x="152" y="221" width="9" height="10" fill="#42939f"/><rect x="160" y="221" width="9" height="10" fill="#45ac9a"/><rect x="168" y="221" width="9" height="10" fill="#338aa4"/><rect x="176" y="221" width="9" height="10" fill="#3e9ba4"/><rect x="184" y="221" width="9" height="10" fill="#45af98"/><rect x="192" y="221" width="9" height="10" fill="#2e9ba8"/><rect x="200" y="221" width="9" height="10" fill="#2c93a9"/><rect x="208" y="221" width="9" height="10" fill="#2c9caa"/><rect x="216" y="221" width="9" height="10" fill="#2a9dad"/><rect x="224" y="221" width="9" height="10" fill="#37a7a7"/><rect x="232" y="221" width="9" height="10" fill="#328caa"/><rect x="240" y="221" width="9" height="10" fill="#3da8a4"/><rect x="248" y="221" width="9" height="10" fill="#44a59e"/><rect x="0" y="230" width="9" height="9" fill="#3294a5"/><rect x="8" y="230" width="9" height="9" fill="#3aaca0"/><rect x="16" y="230" width="9" height="9" fill="#329ca5"/><rect x="24" y="230" width="9" height="9" fill="#40a5a1"/><rect x="32" y="230" width="9" height="9" fill="#3397a3"/><rect x="40" y="230" width="9" height="9" fill="#3a9ba1"/><rect x="48" y="230" width="9" height="9" fill="#459ca8"/><rect x="56" y="230" width="9" height="9" fill="#35a1a3"/><rect x="64" y="230" width="9" height="9" fill="#3da29d"/><rect x="72" y="230" width="9" height="9" fill="#3393a7"/><rect x="80" y="230" width="9" height="9" fill="#47a598"/><rect x="88" y="230" width="9" height="9" fill="#4aa39a"/><rect x="96" y="230" width="9" height="9" fill="#43a49b"/><rect x="104" y="230" width="9" height="9" fill="#4ca997"/><rect x="112" y="230" width="9" height="9" fill="#319aa5"/><rect x="120" y="230" width="9" height="9" fill="#4aaa9a"/><rect x="128" y="230" width="9" height="9" fill="#3b979f"/><rect x="136" y="230" width="9" height="9" fill="#349ea5"/><rect x="144" y="230" width="9" height="9" fill="#3fa49f"/><rect x="152" y="230" width="9" height="9" fill="#3197a7"/><rect x="160" y="230" width="9" height="9" fill="#30a1a6"/><rect x="168" y="230" width="9" height="9" fill="#3488a7"/><rect x="176" y="230" width="9" height="9" fill="#37a4a5"/><rect x="184" y="230" width="9" height="9" fill="#2e9ca9"/><rect x="192" y="230" width="9" height="9" fill="#2690ad"/><rect x="200" y="230" width="9" height="9" fill="#2b90ab"/><rect x="208" y="230" width="9" height="9" fill="#2f9eaa"/><rect x="216" y="230" width="9" height="9" fill="#3a95a0"/><rect x="224" y="230" width="9" height="9" fill="#3498a5"/><rect x="232" y="230" width="9" height="9" fill="#2a8eaa"/><rect x="240" y="230" width="9" height="9" fill="#339ba5"/><rect x="248" y="230" width="9" height="9" fill="#349ba4"/></svg><canvas id="hm" width="256" height="238"></canvas>
<svg class="main" width="759" height="1522" viewBox="0 0 759 1522" font-family="Liberation Sans, sans-serif">
<rect x="676.0" y="622.38" width="29.5" height="29.62" fill="#273da8" shape-rendering="crispEdges"/>
<rect x="676.0" y="593.25" width="29.5" height="29.62" fill="#1751cb" shape-rendering="crispEdges"/>
<rect x="676.0" y="564.12" width="29.5" height="29.62" fill="#1063dc" shape-rendering="crispEdges"/>
<rect x="676.0" y="535.00" width="29.5" height="29.62" fill="#1271d9" shape-rendering="crispEdges"/>
<rect x="676.0" y="505.88" width="29.5" height="29.62" fill="#1480d6" shape-rendering="crispEdges"/>
<rect x="676.0" y="476.75" width="29.5" height="29.62" fill="#0e8ed1" shape-rendering="crispEdges"/>
<rect x="676.0" y="447.62" width="29.5" height="29.62" fill="#099dcc" shape-rendering="crispEdges"/>
<rect x="676.0" y="418.50" width="29.5" height="29.62" fill="#0da7c3" shape-rendering="crispEdges"/>
<rect x="676.0" y="389.38" width="29.5" height="29.62" fill="#1eafb3" shape-rendering="crispEdges"/>
<rect x="676.0" y="360.25" width="29.5" height="29.62" fill="#2eb7a4" shape-rendering="crispEdges"/>
<rect x="676.0" y="331.12" width="29.5" height="29.62" fill="#52ba91" shape-rendering="crispEdges"/>
<rect x="676.0" y="302.00" width="29.5" height="29.62" fill="#74bd80" shape-rendering="crispEdges"/>
<rect x="676.0" y="272.88" width="29.5" height="29.62" fill="#96be71" shape-rendering="crispEdges"/>
<rect x="676.0" y="243.75" width="29.5" height="29.62" fill="#b4bd65" shape-rendering="crispEdges"/>
<rect x="676.0" y="214.62" width="29.5" height="29.62" fill="#d1bb59" shape-rendering="crispEdges"/>
<rect x="676.0" y="185.50" width="29.5" height="29.62" fill="#e3c04a" shape-rendering="crispEdges"/>
<rect x="676.0" y="156.38" width="29.5" height="29.62" fill="#f5c63a" shape-rendering="crispEdges"/>
<rect x="676.0" y="127.25" width="29.5" height="29.62" fill="#fdd32a" shape-rendering="crispEdges"/>
<rect x="676.0" y="98.12" width="29.5" height="29.62" fill="#fbe81c" shape-rendering="crispEdges"/>
<rect x="676.0" y="69.00" width="29.5" height="29.62" fill="#f9fb0e" shape-rendering="crispEdges"/>
<g fill="none" stroke="#ff0000" stroke-width="2.5" stroke-linejoin="round"><path d="M435.0 386.6 436.8 384.5 442.7 373.5 444.9 360.5 442.8 347.5 436.8 336.3 435.2 334.4 425.1 326.8 413.5 324.3 401.9 327.1 392.4 334.4 390.2 337.2 384.8 347.5 382.7 360.5 384.8 373.5 390.2 383.6 392.6 386.6 401.9 393.7 413.5 396.5 425.1 394.0 435.0 386.6" stroke-dasharray="1.7 2.6"/><path d="M419.3 412.6 425.1 411.8 436.8 405.0 442.4 399.6 448.4 392.5 452.0 386.6 457.5 373.5 459.1 360.5 457.6 347.5 452.1 334.4 448.4 328.2 442.6 321.4 436.8 315.8 425.1 309.0 420.6 308.4 413.5 307.3 407.1 308.4 401.9 309.2 390.2 316.3 385.2 321.4 378.6 329.3 375.5 334.4 370.1 347.5 368.5 360.5 370.1 373.5 375.6 386.6 378.6 391.5 385.4 399.6 390.2 404.5 401.9 411.6 408.3 412.6 413.5 413.5 419.3 412.6" /><path d="M429.5 425.7 436.8 421.1 444.1 412.6 448.4 408.4 455.7 399.6 460.0 392.8 464.8 386.6 470.5 373.5 471.7 365.7 472.6 360.5 471.7 355.1 470.6 347.5 464.9 334.4 460.0 328.0 455.8 321.4 448.4 312.5 444.3 308.4 436.8 299.8 429.8 295.3 425.1 291.4 413.5 288.5 401.9 291.7 397.7 295.3 390.2 300.3 383.3 308.4 378.6 313.1 371.7 321.4 367.0 328.9 362.8 334.4 356.9 347.5 355.3 358.8 355.0 360.5 355.3 362.1 357.0 373.5 362.9 386.6 367.0 391.9 371.9 399.6 378.6 407.7 383.5 412.6 390.2 420.5 398.0 425.7 401.9 429.0 413.5 432.3 425.1 429.4 429.5 425.7" stroke-dasharray="1.5 2 1.5 2 4 2"/><path d="M422.2 451.7 425.1 450.8 436.8 440.3 438.1 438.7 448.4 426.5 449.1 425.7 459.6 412.6 460.0 412.1 470.2 399.6 471.7 397.6 480.2 386.6 483.3 380.6 487.5 373.5 490.2 360.5 487.6 347.5 483.3 340.2 480.3 334.4 471.7 323.2 470.4 321.4 460.0 308.7 459.8 308.4 449.3 295.3 448.4 294.3 438.3 282.3 436.8 280.5 425.1 270.0 422.8 269.3 413.5 266.2 405.1 269.3 401.9 270.4 390.2 281.2 389.3 282.3 378.6 295.1 378.4 295.3 367.8 308.4 367.0 309.4 357.2 321.4 355.3 324.0 347.3 334.4 343.7 341.2 340.0 347.5 337.4 360.5 340.1 373.5 343.7 379.6 347.4 386.6 355.3 396.8 357.3 399.6 367.0 411.4 367.9 412.6 378.6 425.7 378.6 425.7 389.5 438.7 390.2 439.6 401.9 450.4 405.7 451.7 413.5 454.6 422.2 451.7" stroke-dasharray="8 4 2 4"/><path d="M434.3 464.8 436.8 462.6 446.4 451.7 448.4 449.4 457.4 438.7 460.0 435.5 468.3 425.7 471.7 421.6 479.2 412.6 483.3 407.6 490.0 399.6 494.9 393.3 500.1 386.6 506.6 376.1 508.1 373.5 511.0 360.5 508.2 347.5 506.6 344.7 500.3 334.4 494.9 327.5 490.1 321.4 483.3 313.2 479.3 308.4 471.7 299.2 468.5 295.3 460.0 285.3 457.6 282.3 448.4 271.4 446.6 269.3 436.8 258.2 434.6 256.2 425.1 248.1 413.5 244.2 401.9 248.5 393.1 256.2 390.2 258.9 381.0 269.3 378.6 272.1 370.0 282.3 367.0 286.0 359.2 295.3 355.3 299.9 348.3 308.4 343.7 313.9 337.5 321.4 332.1 328.3 327.3 334.4 320.4 345.7 319.4 347.5 316.6 360.5 319.5 373.5 320.4 375.2 327.4 386.6 332.1 392.5 337.6 399.6 343.7 406.9 348.5 412.6 355.3 420.9 359.3 425.7 367.0 434.8 370.2 438.7 378.6 448.7 381.2 451.7 390.2 461.9 393.3 464.8 401.9 472.3 413.5 476.6 425.1 472.7 434.3 464.8" stroke-dasharray="8 5"/><path d="M427.6 490.8 436.8 483.1 441.7 477.8 448.4 470.3 453.2 464.8 460.0 456.7 464.3 451.7 471.7 443.0 475.3 438.7 483.3 429.2 486.3 425.7 494.9 415.5 497.4 412.6 506.6 401.6 508.3 399.6 518.2 386.9 518.5 386.6 526.3 373.5 529.3 360.5 526.4 347.5 518.6 334.4 518.2 333.9 508.5 321.4 506.6 319.1 497.5 308.4 494.9 305.3 486.5 295.3 483.3 291.6 475.5 282.3 471.7 277.8 464.4 269.3 460.0 264.1 453.3 256.2 448.4 250.5 441.8 243.2 436.8 237.7 427.8 230.2 425.1 228.0 413.5 224.3 401.9 228.4 399.7 230.2 390.2 238.4 385.8 243.2 378.6 251.2 374.3 256.2 367.0 264.8 363.2 269.3 355.3 278.6 352.1 282.3 343.7 292.3 341.1 295.3 332.1 306.0 330.1 308.4 320.4 319.9 319.2 321.4 309.0 334.4 308.8 334.7 301.2 347.5 298.3 360.5 301.3 373.5 308.8 386.0 309.1 386.6 319.3 399.6 320.4 400.9 330.2 412.6 332.1 414.8 341.3 425.7 343.7 428.5 352.3 438.7 355.3 442.2 363.4 451.7 367.0 456.0 374.4 464.8 378.6 469.6 385.9 477.8 390.2 482.4 399.9 490.8 401.9 492.4 413.5 496.5 425.1 492.8 427.6 490.8" stroke-dasharray="11 4 2 4"/><path d="M435.5 503.9 436.8 502.8 448.4 490.9 448.5 490.8 459.9 477.8 460.0 477.7 471.1 464.8 471.7 464.1 482.3 451.7 483.3 450.6 493.5 438.7 494.9 437.0 504.7 425.7 506.6 423.5 515.8 412.6 518.2 409.8 526.7 399.6 529.8 395.6 536.5 386.6 541.5 378.0 543.8 373.5 546.4 360.5 543.9 347.5 541.5 342.9 536.6 334.4 529.8 325.2 526.9 321.4 518.2 311.0 516.0 308.4 506.6 297.3 504.9 295.3 494.9 283.8 493.7 282.3 483.3 270.2 482.5 269.3 471.7 256.6 471.3 256.2 460.1 243.2 460.0 243.1 448.6 230.2 448.4 229.9 436.8 218.0 435.7 217.1 425.1 209.6 413.5 206.2 401.9 209.9 392.0 217.1 390.2 218.6 379.0 230.2 378.6 230.6 367.5 243.2 367.0 243.9 356.3 256.2 355.3 257.4 345.2 269.3 343.7 271.0 334.0 282.3 332.1 284.5 322.8 295.3 320.4 298.1 311.6 308.4 308.8 311.7 300.8 321.4 297.2 326.0 291.0 334.4 285.5 343.9 283.7 347.5 281.2 360.5 283.8 373.5 285.5 376.9 291.1 386.6 297.2 394.7 300.9 399.6 308.8 409.1 311.8 412.6 320.4 422.7 323.0 425.7 332.1 436.3 334.2 438.7 343.7 449.8 345.3 451.7 355.3 463.4 356.5 464.8 367.0 476.9 367.7 477.8 378.6 490.2 379.2 490.8 390.2 502.2 392.3 503.9 401.9 510.9 413.5 514.6 425.1 511.2 435.5 503.9" stroke-dasharray="8 5"/><path d="M438.6 516.9 448.4 507.4 451.7 503.9 460.0 494.7 463.5 490.8 471.7 481.4 474.9 477.8 483.3 468.1 486.2 464.8 494.9 454.8 497.6 451.7 506.6 441.4 509.0 438.7 518.2 428.1 520.3 425.7 529.8 414.7 531.6 412.6 541.5 400.8 542.4 399.6 552.0 386.6 553.1 384.5 558.8 373.5 561.2 360.5 558.8 347.5 553.1 336.3 552.1 334.4 542.6 321.4 541.5 320.0 531.8 308.4 529.8 306.1 520.5 295.3 518.2 292.7 509.1 282.3 506.6 279.4 497.8 269.3 494.9 266.0 486.4 256.2 483.3 252.7 475.0 243.2 471.7 239.3 463.6 230.2 460.0 226.1 451.9 217.1 448.4 213.3 438.8 204.1 436.8 202.2 425.1 194.2 413.5 191.5 401.9 194.5 390.2 202.7 388.7 204.1 378.6 214.0 375.7 217.1 367.0 226.8 364.0 230.2 355.3 240.1 352.6 243.2 343.7 253.4 341.2 256.2 332.1 266.7 329.8 269.3 320.4 280.1 318.5 282.3 308.8 293.4 307.1 295.3 297.2 306.8 295.8 308.4 285.5 320.8 285.0 321.4 275.5 334.4 273.9 337.4 268.8 347.5 266.4 360.5 268.8 373.5 273.9 383.4 275.6 386.6 285.2 399.6 285.5 400.0 296.0 412.6 297.2 414.0 307.3 425.7 308.8 427.4 318.7 438.7 320.4 440.7 330.0 451.7 332.1 454.1 341.4 464.8 343.7 467.4 352.8 477.8 355.3 480.7 364.2 490.8 367.0 494.0 375.9 503.9 378.6 506.8 389.0 516.9 390.2 518.1 401.9 526.3 413.5 529.3 425.1 526.6 436.8 518.6 438.6 516.9" stroke-dasharray="8 3 2 3 2 3"/><path d="M418.1 543.0 425.1 541.3 436.8 534.2 441.8 529.9 448.4 523.7 455.0 516.9 460.0 511.5 466.9 503.9 471.7 498.5 478.4 490.8 483.3 485.3 489.9 477.8 494.9 472.1 501.4 464.8 506.6 458.9 512.9 451.7 518.2 445.6 524.3 438.7 529.8 432.4 535.8 425.7 541.5 419.1 547.0 412.6 553.1 405.2 557.6 399.6 564.7 389.3 566.6 386.6 572.6 373.5 574.9 360.5 572.7 347.5 566.7 334.4 564.7 331.5 557.7 321.4 553.1 315.6 547.2 308.4 541.5 301.8 535.9 295.3 529.8 288.4 524.5 282.3 518.2 275.2 513.0 269.3 506.6 262.0 501.6 256.2 494.9 248.7 490.1 243.2 483.3 235.5 478.6 230.2 471.7 222.3 467.1 217.1 460.0 209.3 455.2 204.1 448.4 197.1 442.0 191.1 436.8 186.6 425.1 179.5 419.0 178.0 413.5 177.0 408.5 178.0 401.9 179.8 390.2 187.1 385.6 191.1 378.6 197.6 372.4 204.1 367.0 210.0 360.5 217.1 355.3 223.0 348.9 230.2 343.7 236.1 337.5 243.2 332.1 249.4 326.0 256.2 320.4 262.6 314.5 269.3 308.8 275.8 303.1 282.3 297.2 289.1 291.6 295.3 285.5 302.4 280.4 308.4 273.9 316.3 269.8 321.4 262.3 332.4 260.9 334.4 254.9 347.5 252.7 360.5 255.0 373.5 261.1 386.6 262.3 388.4 270.0 399.6 273.9 404.5 280.6 412.6 285.5 418.4 291.8 425.7 297.2 431.8 303.2 438.7 308.8 445.0 314.7 451.7 320.4 458.2 326.2 464.8 332.1 471.4 337.6 477.8 343.7 484.7 349.1 490.8 355.3 497.9 360.7 503.9 367.0 510.9 372.6 516.9 378.6 523.2 385.8 529.9 390.2 533.7 401.9 541.0 409.3 543.0 413.5 543.8 418.1 543.0" /><path d="M444.2 543.0 448.4 539.5 459.3 529.9 460.0 529.2 471.7 517.1 471.9 516.9 483.3 504.4 483.7 503.9 494.9 491.3 495.4 490.8 506.6 478.2 506.9 477.8 518.2 465.1 518.5 464.8 529.8 452.0 530.1 451.7 541.5 438.8 541.6 438.7 552.9 425.7 553.1 425.4 563.4 412.6 564.7 411.0 572.6 399.6 576.4 393.8 580.0 386.6 584.8 373.5 586.8 360.5 584.9 347.5 580.0 334.4 576.4 327.0 572.8 321.4 564.7 309.8 563.6 308.4 553.1 295.4 553.1 295.3 541.8 282.3 541.5 282.0 530.3 269.3 529.8 268.8 518.7 256.2 518.2 255.7 507.1 243.2 506.6 242.6 495.5 230.2 494.9 229.5 483.9 217.1 483.3 216.4 472.1 204.1 471.7 203.7 460.0 191.6 459.5 191.1 448.4 181.3 444.5 178.0 436.8 173.2 425.1 167.5 413.5 165.4 401.9 167.8 390.2 173.5 383.1 178.0 378.6 181.8 368.1 191.1 367.0 192.3 355.5 204.1 355.3 204.3 343.7 217.1 343.7 217.1 332.1 230.2 332.1 230.2 320.5 243.2 320.4 243.3 308.9 256.2 308.8 256.4 297.4 269.3 297.2 269.5 285.9 282.3 285.5 282.7 274.6 295.3 273.9 296.2 264.1 308.4 262.3 310.6 254.9 321.4 250.6 328.1 247.5 334.4 242.8 347.5 240.9 360.5 242.9 373.5 247.6 386.6 250.6 392.7 255.0 399.6 262.3 410.2 264.2 412.6 273.9 424.6 274.8 425.7 285.5 438.1 286.0 438.7 297.2 451.3 297.5 451.7 308.8 464.4 309.1 464.8 320.4 477.5 320.7 477.8 332.1 490.6 332.2 490.8 343.7 503.7 343.9 503.9 355.3 516.5 355.7 516.9 367.0 528.5 368.4 529.9 378.6 538.9 383.4 543.0 390.2 547.3 401.9 553.0 413.5 555.4 425.1 553.2 436.8 547.6 444.2 543.0" stroke-dasharray="8 4 2 4"/><path d="M383.6 165.0 378.6 167.7 367.0 176.3 364.9 178.0 355.3 186.4 350.5 191.1 343.7 197.9 337.8 204.1 332.1 210.4 325.9 217.1 320.4 223.2 314.2 230.2 308.8 236.2 302.5 243.2 297.2 249.2 290.9 256.2 285.5 262.3 279.4 269.3 273.9 275.6 268.3 282.3 262.3 289.7 258.0 295.3 250.6 305.8 248.9 308.4 241.4 321.4 239.0 326.8M588.0 325.4 586.2 321.4 578.7 308.4 576.4 304.8 569.6 295.3 564.7 289.0 559.3 282.3 553.1 274.9 548.2 269.3 541.5 261.6 536.7 256.2 529.8 248.5 525.1 243.2 518.2 235.5 513.4 230.2 506.6 222.5 501.7 217.1 494.9 209.7 489.8 204.1 483.3 197.3 477.2 191.1 471.7 185.8 462.8 178.0 460.0 175.8 448.4 167.4 444.0 165.0M239.0 394.0 241.5 399.6 249.1 412.6 250.6 415.0 258.1 425.7 262.3 431.1 268.5 438.7 273.9 445.2 279.6 451.7 285.5 458.5 291.1 464.8 297.2 471.6 302.7 477.8 308.8 484.6 314.4 490.8 320.4 497.6 326.1 503.9 332.1 510.4 338.0 516.9 343.7 522.9 350.7 529.9 355.3 534.4 365.1 543.0 367.0 544.5 378.6 553.1 383.9 556.0M443.7 556.0 448.4 553.4 460.0 545.0 462.5 543.0 471.7 535.0 477.0 529.9 483.3 523.5 489.6 516.9 494.9 511.1 501.5 503.9 506.6 498.3 513.2 490.8 518.2 485.3 524.9 477.8 529.8 472.3 536.5 464.8 541.5 459.2 548.0 451.7 553.1 445.9 559.1 438.7 564.7 431.8 569.5 425.7 576.4 415.9 578.6 412.6 586.1 399.6 588.0 395.4" /><path d="M356.3 165.0 355.3 165.7 343.7 175.6 341.0 178.0 332.1 186.7 327.7 191.1 320.4 198.7 315.4 204.1 308.8 211.4 303.6 217.1 297.2 224.4 292.0 230.2 285.5 237.4 280.4 243.2 273.9 250.5 269.0 256.2 262.3 264.2 258.2 269.3 250.6 279.0 248.2 282.3 239.4 295.3 239.0 296.0M588.0 295.1 579.4 282.3 576.4 278.2 569.4 269.3 564.7 263.5 558.6 256.2 553.1 249.9 547.2 243.2 541.5 236.7 535.6 230.2 529.8 223.7 524.0 217.1 518.2 210.8 512.1 204.1 506.6 198.1 499.9 191.1 494.9 186.1 486.6 178.0 483.3 175.0 471.7 165.2 471.4 165.0M239.0 424.8 239.6 425.7 248.4 438.7 250.6 441.8 258.4 451.7 262.3 456.6 269.2 464.8 273.9 470.3 280.5 477.8 285.5 483.4 292.1 490.8 297.2 496.4 303.8 503.9 308.8 509.4 315.6 516.9 320.4 522.1 327.9 529.9 332.1 534.1 341.2 543.0 343.7 545.2 355.3 555.1 356.5 556.0M471.1 556.0 471.7 555.6 483.3 545.8 486.4 543.0 494.9 534.7 499.7 529.9 506.6 522.7 512.0 516.9 518.2 510.0 523.8 503.9 529.8 497.1 535.4 490.8 541.5 484.1 547.1 477.8 553.1 470.9 558.4 464.8 564.7 457.3 569.2 451.7 576.4 442.6 579.2 438.7 588.0 425.7" stroke-dasharray="8 5"/><path d="M329.5 165.0 320.4 173.4 315.6 178.0 308.8 185.0 302.9 191.1 297.2 197.3 291.0 204.1 285.5 210.2 279.3 217.1 273.9 223.2 267.8 230.2 262.3 236.5 256.7 243.2 250.6 250.6 246.3 256.2 239.0 266.1M588.0 265.3 581.2 256.2 576.4 249.9 570.9 243.2 564.7 235.8 559.8 230.2 553.1 222.5 548.3 217.1 541.5 209.5 536.6 204.1 529.8 196.7 524.7 191.1 518.2 184.4 512.0 178.0 506.6 172.8 498.1 165.0M239.0 454.7 246.5 464.8 250.6 470.2 256.9 477.8 262.3 484.3 268.0 490.8 273.9 497.6 279.5 503.9 285.5 510.6 291.2 516.9 297.2 523.5 303.1 529.9 308.8 535.8 315.8 543.0 320.4 547.4 329.7 556.0M497.9 556.0 506.6 548.0 511.8 543.0 518.2 536.4 524.5 529.9 529.8 524.1 536.4 516.9 541.5 511.3 548.1 503.9 553.1 498.3 559.6 490.8 564.7 485.0 570.7 477.8 576.4 470.9 581.1 464.8 588.0 455.5" stroke-dasharray="8 4 2 4"/><path d="M305.4 165.0 297.2 173.1 292.4 178.0 285.5 185.3 280.2 191.1 273.9 198.1 268.5 204.1 262.3 211.2 257.1 217.1 250.6 224.7 246.1 230.2 239.0 239.2M588.0 238.4 581.4 230.2 576.4 224.0 570.5 217.1 564.7 210.5 559.1 204.1 553.1 197.4 547.4 191.1 541.5 184.7 535.2 178.0 529.8 172.5 522.2 165.0M239.0 481.6 246.3 490.8 250.6 496.1 257.2 503.9 262.3 509.6 268.7 516.9 273.9 522.7 280.4 529.9 285.5 535.5 292.6 543.0 297.2 547.7 305.6 556.0M522.0 556.0 529.8 548.3 535.0 543.0 541.5 536.1 547.2 529.9 553.1 523.4 558.9 516.9 564.7 510.3 570.4 503.9 576.4 496.8 581.3 490.8 588.0 482.4" stroke-dasharray="1.7 2.6"/><path d="M282.6 165.0 273.9 174.1 270.3 178.0 262.3 186.9 258.5 191.1 250.6 200.0 247.1 204.1 239.0 213.7M588.0 213.0 580.5 204.1 576.4 199.3 569.1 191.1 564.7 186.2 557.3 178.0 553.1 173.5 545.0 165.0M239.0 507.1 247.3 516.9 250.6 520.8 258.7 529.9 262.3 533.9 270.5 543.0 273.9 546.7 282.8 556.0M544.8 556.0 553.1 547.3 557.1 543.0 564.7 534.6 568.9 529.9 576.4 521.5 580.3 516.9 588.0 507.8" stroke-dasharray="8 5"/><path d="M260.2 165.0 250.6 175.5 248.4 178.0 239.0 188.7M588.0 188.0 579.2 178.0 576.4 174.9 567.4 165.0M239.0 532.1 248.6 543.0 250.6 545.3 260.4 556.0M567.2 556.0 576.4 545.9 579.0 543.0 588.0 532.8" stroke-dasharray="8 4 2 4"/><path d="M239.9 165.0 239.0 166.0M588.0 165.3 587.7 165.0M239.0 554.7 240.1 556.0M587.5 556.0 588.0 555.5" stroke-dasharray="8 5"/></g>
<path d="M155.0 69.0V651.5M155.0 651.5H673.5M673.5 69.0V651.5M155.0 639.4h8.0M155.0 615.0h8.0M155.0 590.5h8.0M155.0 566.1h16.0M155.0 541.7h8.0M155.0 517.2h8.0M155.0 492.8h8.0M155.0 468.4h8.0M155.0 443.9h16.0M155.0 419.5h8.0M155.0 395.1h8.0M155.0 370.7h8.0M155.0 346.2h8.0M155.0 321.8h16.0M155.0 297.4h8.0M155.0 272.9h8.0M155.0 248.5h8.0M155.0 224.1h8.0M155.0 199.7h16.0M155.0 175.2h8.0M155.0 150.8h8.0M155.0 126.4h8.0M155.0 101.9h8.0M155.0 77.5h16.0M160.9 651.5v-8.5M181.1 651.5v-8.5M201.3 651.5v-16.5M221.5 651.5v-8.5M241.8 651.5v-8.5M262.0 651.5v-8.5M282.2 651.5v-8.5M302.4 651.5v-16.5M322.6 651.5v-8.5M342.9 651.5v-8.5M363.1 651.5v-8.5M383.3 651.5v-8.5M403.6 651.5v-16.5M423.8 651.5v-8.5M444.0 651.5v-8.5M464.2 651.5v-8.5M484.4 651.5v-8.5M504.7 651.5v-16.5M524.9 651.5v-8.5M545.1 651.5v-8.5M565.4 651.5v-8.5M585.6 651.5v-8.5M605.8 651.5v-16.5M626.0 651.5v-8.5M646.2 651.5v-8.5M666.5 651.5v-8.5M705.5 69.0V651.5M705.5 651.5h-16.0M705.5 600.1h-8.0M705.5 570.0h-8.0M705.5 548.7h-8.0M705.5 532.1h-8.0M705.5 518.6h-8.0M705.5 507.2h-8.0M705.5 497.3h-8.0M705.5 488.5h-8.0M705.5 480.7h-16.0M705.5 429.3h-8.0M705.5 399.2h-8.0M705.5 377.9h-8.0M705.5 361.3h-8.0M705.5 347.8h-8.0M705.5 336.4h-8.0M705.5 326.5h-8.0M705.5 317.7h-8.0M705.5 309.9h-16.0M705.5 258.5h-8.0M705.5 228.4h-8.0M705.5 207.1h-8.0M705.5 190.5h-8.0M705.5 177.0h-8.0M705.5 165.6h-8.0M705.5 155.7h-8.0M705.5 146.9h-8.0M705.5 139.1h-16.0M705.5 87.7h-8.0" stroke="#000" stroke-width="1.3" fill="none"/>
<text x="321.6" y="26.9" font-size="36.63" fill="#000" textLength="181.6" lengthAdjust="spacingAndGlyphs">True Signal</text>
<text x="682.2" y="49.2" font-size="33.87" font-weight="bold" fill="#000" textLength="39.2" lengthAdjust="spacingAndGlyphs">Gv</text>
<text x="95.6" y="80.4" font-size="28.80" fill="#000" textLength="48.0" lengthAdjust="spacingAndGlyphs">400</text>
<text x="94.6" y="202.6" font-size="28.80" fill="#000" textLength="49.0" lengthAdjust="spacingAndGlyphs">350</text>
<text x="94.6" y="324.2" font-size="28.80" fill="#000" textLength="49.0" lengthAdjust="spacingAndGlyphs">300</text>
<text x="96.0" y="446.2" font-size="28.80" fill="#000" textLength="47.6" lengthAdjust="spacingAndGlyphs">250</text>
<text x="94.6" y="568.4" font-size="29.53" fill="#000" textLength="47.8" lengthAdjust="spacingAndGlyphs">200</text>
<text x="175.4" y="690.9" font-size="27.80" fill="#000" textLength="48.2" lengthAdjust="spacingAndGlyphs">250</text>
<text x="276.0" y="690.9" font-size="27.80" fill="#000" textLength="47.2" lengthAdjust="spacingAndGlyphs">300</text>
<text x="380.0" y="690.9" font-size="27.80" fill="#000" textLength="48.2" lengthAdjust="spacingAndGlyphs">350</text>
<text x="480.2" y="690.9" font-size="27.80" fill="#000" textLength="48.8" lengthAdjust="spacingAndGlyphs">400</text>
<text x="582.2" y="690.7" font-size="28.06" fill="#000" textLength="49.2" lengthAdjust="spacingAndGlyphs">450</text>
<text transform="translate(80.1,156.4) rotate(-90)" text-anchor="middle" font-size="30.67" fill="#000" textLength="95.2" lengthAdjust="spacingAndGlyphs">Y Pixel</text>
<text x="561.6" y="731.7" font-size="32.68" fill="#000" textLength="95.6" lengthAdjust="spacingAndGlyphs">X Pixel</text>
<text x="393.6" y="740.5" font-size="29.95" fill="#000" textLength="33.5" lengthAdjust="spacingAndGlyphs">(a)</text>
<text x="711.6" y="153.7" font-size="30.55" font-weight="bold" fill="#000" textLength="31.5" lengthAdjust="spacingAndGlyphs">10</text>
<text x="744.8" y="143.8" font-size="18.23" font-weight="bold" fill="#000" textLength="8.3" lengthAdjust="spacingAndGlyphs">2</text>
<text x="710.4" y="325.7" font-size="30.55" font-weight="bold" fill="#000" textLength="32.7" lengthAdjust="spacingAndGlyphs">10</text>
<text x="710.4" y="495.0" font-size="29.80" font-weight="bold" fill="#000" textLength="15.0" lengthAdjust="spacingAndGlyphs">1</text>
<text x="710.4" y="652.3" font-size="30.55" font-weight="bold" fill="#000" textLength="32.5" lengthAdjust="spacingAndGlyphs">10</text>
<text x="155.0" y="811.3" font-size="36.50" fill="#000" textLength="537.7" lengthAdjust="spacingAndGlyphs">X Projection @ Maximum Signal</text>
<text x="63.8" y="871.8" font-size="25.97" fill="#000" textLength="41.4" lengthAdjust="spacingAndGlyphs">250</text>
<text x="63.0" y="982.0" font-size="25.29" fill="#000" textLength="42.0" lengthAdjust="spacingAndGlyphs">200</text>
<text x="63.0" y="1089.5" font-size="24.40" fill="#000" textLength="41.4" lengthAdjust="spacingAndGlyphs">150</text>
<text x="62.0" y="1202.1" font-size="24.40" fill="#000" textLength="41.2" lengthAdjust="spacingAndGlyphs">100</text>
<text x="78.2" y="1319.6" font-size="23.39" fill="#000" textLength="27.6" lengthAdjust="spacingAndGlyphs">50</text>
<text x="173.0" y="1462.9" font-size="28.06" fill="#000" textLength="48.6" lengthAdjust="spacingAndGlyphs">100</text>
<text x="257.0" y="1462.9" font-size="28.06" fill="#000" textLength="48.2" lengthAdjust="spacingAndGlyphs">200</text>
<text x="340.0" y="1463.7" font-size="28.29" fill="#000" textLength="48.4" lengthAdjust="spacingAndGlyphs">300</text>
<text x="427.8" y="1463.2" font-size="28.52" fill="#000" textLength="48.8" lengthAdjust="spacingAndGlyphs">400</text>
<text x="507.0" y="1464.2" font-size="29.53" fill="#000" textLength="48.2" lengthAdjust="spacingAndGlyphs">500</text>
<text x="588.0" y="1463.7" font-size="28.29" fill="#000" textLength="47.8" lengthAdjust="spacingAndGlyphs">600</text>
<text x="677.4" y="1463.3" font-size="28.06" fill="#000" textLength="46.8" lengthAdjust="spacingAndGlyphs">700</text>
<text transform="translate(24.0,964.3) rotate(-90)" text-anchor="middle" font-size="29.68" fill="#000" textLength="158.9" lengthAdjust="spacingAndGlyphs">Gray Value</text>
<text x="638.8" y="1507.7" font-size="32.68" fill="#000" textLength="95.8" lengthAdjust="spacingAndGlyphs">X Pixel</text>
<text x="410.0" y="1519.8" font-size="34.02" fill="#000" textLength="35.4" lengthAdjust="spacingAndGlyphs">(b)</text>
<text x="472.4" y="913.0" font-size="33.63" font-weight="bold" stroke="#000" stroke-width="0.55" fill="#000" textLength="251.5" lengthAdjust="spacingAndGlyphs">RAW Signal = 17289 Gv</text>
<text x="472.0" y="969.4" font-size="30.45" font-weight="bold" stroke="#00ffff" stroke-width="0.55" fill="#00ffff" textLength="266.2" lengthAdjust="spacingAndGlyphs">True Signal = 8962.88 Gv</text>
<text x="472.0" y="1025.1" font-size="31.54" font-weight="bold" stroke="#ff0000" stroke-width="0.55" fill="#ff0000" textLength="262.9" lengthAdjust="spacingAndGlyphs">Fit [2 gaus] = 6576.27 Gv</text>
<text x="472.4" y="1054.5" font-size="31.45" font-family="Liberation Serif" fill="#ff0000" textLength="15.1" lengthAdjust="spacingAndGlyphs">X</text>
<text x="490.2" y="1037.4" font-size="18.23" font-weight="bold" stroke="#ff0000" stroke-width="0.55" fill="#ff0000" textLength="6.6" lengthAdjust="spacingAndGlyphs">2</text>
<text x="497.6" y="1053.6" font-size="30.77" font-weight="bold" stroke="#ff0000" stroke-width="0.55" fill="#ff0000" textLength="150.9" lengthAdjust="spacingAndGlyphs">/Ndf = 2.60503</text>
<text x="472.0" y="1110.6" font-size="30.28" font-weight="bold" stroke="#00cc00" stroke-width="0.55" fill="#00cc00" textLength="257.3" lengthAdjust="spacingAndGlyphs">Signal gaus = 4323.7 Gv</text>
<text x="471.4" y="1138.6" font-size="31.64" font-weight="bold" stroke="#00cc00" stroke-width="0.55" fill="#00cc00" textLength="192.1" lengthAdjust="spacingAndGlyphs">σ = 12.7199 pixels</text>
<text x="472.4" y="1195.9" font-size="31.32" font-weight="bold" stroke="#c8c8c8" stroke-width="0.55" fill="#c8c8c8" textLength="262.5" lengthAdjust="spacingAndGlyphs">Noise gaus = 2252.57 Gv</text>
<text x="471.4" y="1224.1" font-size="30.79" font-weight="bold" stroke="#c8c8c8" stroke-width="0.55" fill="#c8c8c8" textLength="192.1" lengthAdjust="spacingAndGlyphs">σ = 31.2888 pixels</text>
<text x="742.8" y="642.2" font-size="18.5" font-weight="bold">-1</text>
<path d="M117.9 857.9H752.7V1424.7H117.9ZM117.9 1404.0h11.0M117.9 1381.8h11.0M117.9 1359.6h11.0M117.9 1337.3h11.0M117.9 1315.1h19.3M117.9 1292.9h11.0M117.9 1270.7h11.0M117.9 1248.5h11.0M117.9 1226.3h11.0M117.9 1204.1h19.3M117.9 1181.8h11.0M117.9 1159.6h11.0M117.9 1137.4h11.0M117.9 1115.2h11.0M117.9 1093.0h19.3M117.9 1070.8h11.0M117.9 1048.5h11.0M117.9 1026.3h11.0M117.9 1004.1h11.0M117.9 981.9h19.3M117.9 959.7h11.0M117.9 937.5h11.0M117.9 915.3h11.0M117.9 893.0h11.0M117.9 870.8h19.3M130.9 1424.7v-8.5M147.7 1424.7v-8.5M164.4 1424.7v-8.5M181.2 1424.7v-8.5M198.0 1424.7v-17.0M214.8 1424.7v-8.5M231.6 1424.7v-8.5M248.3 1424.7v-8.5M265.1 1424.7v-8.5M281.9 1424.7v-17.0M298.7 1424.7v-8.5M315.5 1424.7v-8.5M332.2 1424.7v-8.5M349.0 1424.7v-8.5M365.8 1424.7v-17.0M382.6 1424.7v-8.5M399.4 1424.7v-8.5M416.1 1424.7v-8.5M432.9 1424.7v-8.5M449.7 1424.7v-17.0M466.5 1424.7v-8.5M483.3 1424.7v-8.5M500.0 1424.7v-8.5M516.8 1424.7v-8.5M533.6 1424.7v-17.0M550.4 1424.7v-8.5M567.2 1424.7v-8.5M583.9 1424.7v-8.5M600.7 1424.7v-8.5M617.5 1424.7v-17.0M634.3 1424.7v-8.5M651.1 1424.7v-8.5M667.8 1424.7v-8.5M684.6 1424.7v-8.5M701.4 1424.7v-17.0M718.2 1424.7v-8.5M735.0 1424.7v-8.5M751.7 1424.7v-8.5" stroke="#111" stroke-width="1.6" fill="none"/>
<svg x="117.9" y="857.9" width="634.8" height="568.3" viewBox="117.9 857.9 634.8 568.3" overflow="hidden">
<path d="M117.5 1424.7 118.7 1424.7 120.0 1424.7 121.3 1424.7 122.6 1424.7 123.8 1424.7 125.1 1424.7 126.4 1424.7 127.7 1424.7 128.9 1424.7 130.2 1424.7 131.5 1424.7 132.7 1424.7 134.0 1424.7 135.3 1424.7 136.6 1424.7 137.8 1424.7 139.1 1424.7 140.4 1424.7 141.7 1424.7 142.9 1424.7 144.2 1424.7 145.5 1424.7 146.8 1424.7 148.0 1424.7 149.3 1424.7 150.6 1424.7 151.9 1424.7 153.1 1424.7 154.4 1424.7 155.7 1424.7 157.0 1424.7 158.2 1424.7 159.5 1424.7 160.8 1424.7 162.1 1424.7 163.3 1424.7 164.6 1424.7 165.9 1424.7 167.2 1424.7 168.4 1424.7 169.7 1424.7 171.0 1424.7 172.3 1424.7 173.5 1424.7 174.8 1424.7 176.1 1424.7 177.4 1424.7 178.6 1424.7 179.9 1424.7 181.2 1424.7 182.5 1424.7 183.7 1424.7 185.0 1424.7 186.3 1424.7 187.6 1424.7 188.8 1424.7 190.1 1424.7 191.4 1424.7 192.6 1424.7 193.9 1424.7 195.2 1424.7 196.5 1424.7 197.7 1424.7 199.0 1424.7 200.3 1424.7 201.6 1424.7 202.8 1424.7 204.1 1424.7 205.4 1424.7 206.7 1424.7 207.9 1424.7 209.2 1424.7 210.5 1424.7 211.8 1424.7 213.0 1424.7 214.3 1424.7 215.6 1424.7 216.9 1424.7 218.1 1424.7 219.4 1424.7 220.7 1424.7 222.0 1424.7 223.2 1424.7 224.5 1424.7 225.8 1424.7 227.1 1424.7 228.3 1424.7 229.6 1424.7 230.9 1424.7 232.2 1424.7 233.4 1424.7 234.7 1424.7 236.0 1424.7 237.3 1424.7 238.5 1424.7 239.8 1424.7 241.1 1424.7 242.4 1424.7 243.6 1424.7 244.9 1424.7 246.2 1424.7 247.5 1424.7 248.7 1424.7 250.0 1424.7 251.3 1424.7 252.6 1424.7 253.8 1424.7 255.1 1424.7 256.4 1424.7 257.6 1424.7 258.9 1424.7 260.2 1424.7 261.5 1424.7 262.7 1424.7 264.0 1424.7 265.3 1424.7 266.6 1424.7 267.8 1424.7 269.1 1424.7 270.4 1424.7 271.7 1424.7 272.9 1424.7 274.2 1424.7 275.5 1424.7 276.8 1424.7 278.0 1424.7 279.3 1424.7 280.6 1424.7 281.9 1424.7 283.1 1424.7 284.4 1424.7 285.7 1424.7 287.0 1424.7 288.2 1424.7 289.5 1424.7 290.8 1424.7 292.1 1424.7 293.3 1424.7 294.6 1424.7 295.9 1424.7 297.2 1424.7 298.4 1424.7 299.7 1424.7 301.0 1424.7 302.3 1424.7 303.5 1424.7 304.8 1424.7 306.1 1424.7 307.4 1424.7 308.6 1424.7 309.9 1424.7 311.2 1424.7 312.5 1424.7 313.7 1424.7 315.0 1424.7 316.3 1424.7 317.5 1424.7 318.8 1424.7 320.1 1424.7 321.4 1424.7 322.6 1424.7 323.9 1424.7 325.2 1424.7 326.5 1424.7 327.7 1424.7 329.0 1424.7 330.3 1424.7 331.6 1424.7 332.8 1424.7 334.1 1424.7 335.4 1424.7 336.7 1424.7 337.9 1424.7 339.2 1424.7 340.5 1424.6 341.8 1424.3 343.0 1424.1 344.3 1423.8 345.6 1423.5 346.9 1423.2 348.1 1422.8 349.4 1422.3 350.7 1421.9 352.0 1421.4 353.2 1420.8 354.5 1420.2 355.8 1419.6 357.1 1418.8 358.3 1418.1 359.6 1417.2 360.9 1416.3 362.2 1415.4 363.4 1414.4 364.7 1413.3 366.0 1412.1 367.3 1410.9 368.5 1409.6 369.8 1408.3 371.1 1406.8 372.4 1405.4 373.6 1403.8 374.9 1402.2 376.2 1400.6 377.4 1398.9 378.7 1397.1 380.0 1395.3 381.3 1393.5 382.5 1391.7 383.8 1389.8 385.1 1387.9 386.4 1386.0 387.6 1384.2 388.9 1382.3 390.2 1380.5 391.5 1378.7 392.7 1377.0 394.0 1375.3 395.3 1373.6 396.6 1372.1 397.8 1370.6 399.1 1369.3 400.4 1368.0 401.7 1366.9 402.9 1365.8 404.2 1364.9 405.5 1364.2 406.8 1363.5 408.0 1363.0 409.3 1362.7 410.6 1362.5 411.9 1362.4 413.1 1362.6 414.4 1362.8 415.7 1363.2 417.0 1363.8 418.2 1364.4 419.5 1365.3 420.8 1366.2 422.1 1367.3 423.3 1368.5 424.6 1369.8 425.9 1371.2 427.2 1372.7 428.4 1374.3 429.7 1375.9 431.0 1377.6 432.3 1379.4 433.5 1381.2 434.8 1383.0 436.1 1384.9 437.3 1386.8 438.6 1388.7 439.9 1390.5 441.2 1392.4 442.4 1394.2 443.7 1396.0 445.0 1397.8 446.3 1399.5 447.5 1401.2 448.8 1402.9 450.1 1404.4 451.4 1405.9 452.6 1407.4 453.9 1408.8 455.2 1410.1 456.5 1411.4 457.7 1412.6 459.0 1413.7 460.3 1414.8 461.6 1415.8 462.8 1416.7 464.1 1417.6 465.4 1418.4 466.7 1419.1 467.9 1419.8 469.2 1420.5 470.5 1421.0 471.8 1421.6 473.0 1422.1 474.3 1422.5 475.6 1422.9 476.9 1423.3 478.1 1423.6 479.4 1423.9 480.7 1424.2 482.0 1424.4 483.2 1424.7 484.5 1424.7 485.8 1424.7 487.1 1424.7 488.3 1424.7 489.6 1424.7 490.9 1424.7 492.2 1424.7 493.4 1424.7 494.7 1424.7 496.0 1424.7 497.2 1424.7 498.5 1424.7 499.8 1424.7 501.1 1424.7 502.3 1424.7 503.6 1424.7 504.9 1424.7 506.2 1424.7 507.4 1424.7 508.7 1424.7 510.0 1424.7 511.3 1424.7 512.5 1424.7 513.8 1424.7 515.1 1424.7 516.4 1424.7 517.6 1424.7 518.9 1424.7 520.2 1424.7 521.5 1424.7 522.7 1424.7 524.0 1424.7 525.3 1424.7 526.6 1424.7 527.8 1424.7 529.1 1424.7 530.4 1424.7 531.7 1424.7 532.9 1424.7 534.2 1424.7 535.5 1424.7 536.8 1424.7 538.0 1424.7 539.3 1424.7 540.6 1424.7 541.9 1424.7 543.1 1424.7 544.4 1424.7 545.7 1424.7 547.0 1424.7 548.2 1424.7 549.5 1424.7 550.8 1424.7 552.1 1424.7 553.3 1424.7 554.6 1424.7 555.9 1424.7 557.1 1424.7 558.4 1424.7 559.7 1424.7 561.0 1424.7 562.2 1424.7 563.5 1424.7 564.8 1424.7 566.1 1424.7 567.3 1424.7 568.6 1424.7 569.9 1424.7 571.2 1424.7 572.4 1424.7 573.7 1424.7 575.0 1424.7 576.3 1424.7 577.5 1424.7 578.8 1424.7 580.1 1424.7 581.4 1424.7 582.6 1424.7 583.9 1424.7 585.2 1424.7 586.5 1424.7 587.7 1424.7 589.0 1424.7 590.3 1424.7 591.6 1424.7 592.8 1424.7 594.1 1424.7 595.4 1424.7 596.7 1424.7 597.9 1424.7 599.2 1424.7 600.5 1424.7 601.8 1424.7 603.0 1424.7 604.3 1424.7 605.6 1424.7 606.9 1424.7 608.1 1424.7 609.4 1424.7 610.7 1424.7 612.0 1424.7 613.2 1424.7 614.5 1424.7 615.8 1424.7 617.0 1424.7 618.3 1424.7 619.6 1424.7 620.9 1424.7 622.1 1424.7 623.4 1424.7 624.7 1424.7 626.0 1424.7 627.2 1424.7 628.5 1424.7 629.8 1424.7 631.1 1424.7 632.3 1424.7 633.6 1424.7 634.9 1424.7 636.2 1424.7 637.4 1424.7 638.7 1424.7 640.0 1424.7 641.3 1424.7 642.5 1424.7 643.8 1424.7 645.1 1424.7 646.4 1424.7 647.6 1424.7 648.9 1424.7 650.2 1424.7 651.5 1424.7 652.7 1424.7 654.0 1424.7 655.3 1424.7 656.6 1424.7 657.8 1424.7 659.1 1424.7 660.4 1424.7 661.7 1424.7 662.9 1424.7 664.2 1424.7 665.5 1424.7 666.8 1424.7 668.0 1424.7 669.3 1424.7 670.6 1424.7 671.9 1424.7 673.1 1424.7 674.4 1424.7 675.7 1424.7 676.9 1424.7 678.2 1424.7 679.5 1424.7 680.8 1424.7 682.0 1424.7 683.3 1424.7 684.6 1424.7 685.9 1424.7 687.1 1424.7 688.4 1424.7 689.7 1424.7 691.0 1424.7 692.2 1424.7 693.5 1424.7 694.8 1424.7 696.1 1424.7 697.3 1424.7 698.6 1424.7 699.9 1424.7 701.2 1424.7 702.4 1424.7 703.7 1424.7 705.0 1424.7 706.3 1424.7 707.5 1424.7 708.8 1424.7 710.1 1424.7 711.4 1424.7 712.6 1424.7 713.9 1424.7 715.2 1424.7 716.5 1424.7 717.7 1424.7 719.0 1424.7 720.3 1424.7 721.6 1424.7 722.8 1424.7 724.1 1424.7 725.4 1424.7 726.7 1424.7 727.9 1424.7 729.2 1424.7 730.5 1424.7 731.8 1424.7 733.0 1424.7 734.3 1424.7 735.6 1424.7 736.8 1424.7 738.1 1424.7 739.4 1424.7 740.7 1424.7 741.9 1424.7 743.2 1424.7 744.5 1424.7 745.8 1424.7 747.0 1424.7 748.3 1424.7 749.6 1424.7 750.9 1424.7 752.1 1424.7 753.4 1424.7" stroke="#cccccc" stroke-width="2.2" fill="none" stroke-dasharray="6 5" stroke-dashoffset="5.5"/>
<path d="M117.5 1366.2 118.3 1366.2 118.3 1361.8 119.1 1361.8 119.1 1359.6 120.0 1359.6 120.0 1359.6 120.8 1359.6 120.8 1377.3 121.7 1377.3 121.7 1361.8 122.5 1361.8 122.5 1386.2 123.3 1386.2 123.3 1397.3 124.2 1397.3 124.2 1392.9 125.0 1392.9 125.0 1395.1 125.8 1395.1 125.8 1397.3 126.7 1397.3 126.7 1390.7 127.5 1390.7 127.5 1381.8 128.4 1381.8 128.4 1388.4 129.2 1388.4 129.2 1377.3 130.0 1377.3 130.0 1392.9 130.9 1392.9 130.9 1395.1 131.7 1395.1 131.7 1401.8 132.6 1401.8 132.6 1388.4 133.4 1388.4 133.4 1399.5 134.2 1399.5 134.2 1395.1 135.1 1395.1 135.1 1395.1 135.9 1395.1 135.9 1392.9 136.8 1392.9 136.8 1408.4 137.6 1408.4 137.6 1412.9 138.4 1412.9 138.4 1404.0 139.3 1404.0 139.3 1392.9 140.1 1392.9 140.1 1390.7 140.9 1390.7 140.9 1408.4 141.8 1408.4 141.8 1419.5 142.6 1419.5 142.6 1404.0 143.5 1404.0 143.5 1404.0 144.3 1404.0 144.3 1404.0 145.1 1404.0 145.1 1397.3 146.0 1397.3 146.0 1410.6 146.8 1410.6 146.8 1410.6 147.7 1410.6 147.7 1410.6 148.5 1410.6 148.5 1406.2 149.3 1406.2 149.3 1406.2 150.2 1406.2 150.2 1406.2 151.0 1406.2 151.0 1412.9 151.9 1412.9 151.9 1412.9 152.7 1412.9 152.7 1415.1 153.5 1415.1 153.5 1419.5 154.4 1419.5 154.4 1410.6 155.2 1410.6 155.2 1415.1 156.0 1415.1 156.0 1388.4 156.9 1388.4 156.9 1388.4 157.7 1388.4 157.7 1399.5 158.6 1399.5 158.6 1404.0 159.4 1404.0 159.4 1399.5 160.2 1399.5 160.2 1401.8 161.1 1401.8 161.1 1386.2 161.9 1386.2 161.9 1404.0 162.8 1404.0 162.8 1404.0 163.6 1404.0 163.6 1404.0 164.4 1404.0 164.4 1408.4 165.3 1408.4 165.3 1408.4 166.1 1408.4 166.1 1410.6 167.0 1410.6 167.0 1408.4 167.8 1408.4 167.8 1395.1 168.6 1395.1 168.6 1392.9 169.5 1392.9 169.5 1388.4 170.3 1388.4 170.3 1386.2 171.2 1386.2 171.2 1372.9 172.0 1372.9 172.0 1370.7 172.8 1370.7 172.8 1390.7 173.7 1390.7 173.7 1395.1 174.5 1395.1 174.5 1390.7 175.3 1390.7 175.3 1384.0 176.2 1384.0 176.2 1395.1 177.0 1395.1 177.0 1397.3 177.9 1397.3 177.9 1384.0 178.7 1384.0 178.7 1397.3 179.5 1397.3 179.5 1406.2 180.4 1406.2 180.4 1404.0 181.2 1404.0 181.2 1399.5 182.1 1399.5 182.1 1404.0 182.9 1404.0 182.9 1397.3 183.7 1397.3 183.7 1401.8 184.6 1401.8 184.6 1392.9 185.4 1392.9 185.4 1399.5 186.3 1399.5 186.3 1395.1 187.1 1395.1 187.1 1392.9 187.9 1392.9 187.9 1395.1 188.8 1395.1 188.8 1395.1 189.6 1395.1 189.6 1390.7 190.4 1390.7 190.4 1401.8 191.3 1401.8 191.3 1401.8 192.1 1401.8 192.1 1412.9 193.0 1412.9 193.0 1397.3 193.8 1397.3 193.8 1397.3 194.6 1397.3 194.6 1395.1 195.5 1395.1 195.5 1390.7 196.3 1390.7 196.3 1390.7 197.2 1390.7 197.2 1397.3 198.0 1397.3 198.0 1388.4 198.8 1388.4 198.8 1404.0 199.7 1404.0 199.7 1392.9 200.5 1392.9 200.5 1384.0 201.4 1384.0 201.4 1384.0 202.2 1384.0 202.2 1390.7 203.0 1390.7 203.0 1415.1 203.9 1415.1 203.9 1404.0 204.7 1404.0 204.7 1410.6 205.6 1410.6 205.6 1406.2 206.4 1406.2 206.4 1412.9 207.2 1412.9 207.2 1406.2 208.1 1406.2 208.1 1399.5 208.9 1399.5 208.9 1415.1 209.7 1415.1 209.7 1406.2 210.6 1406.2 210.6 1408.4 211.4 1408.4 211.4 1392.9 212.3 1392.9 212.3 1395.1 213.1 1395.1 213.1 1384.0 213.9 1384.0 213.9 1392.9 214.8 1392.9 214.8 1375.1 215.6 1375.1 215.6 1390.7 216.5 1390.7 216.5 1375.1 217.3 1375.1 217.3 1370.7 218.1 1370.7 218.1 1381.8 219.0 1381.8 219.0 1377.3 219.8 1377.3 219.8 1377.3 220.7 1377.3 220.7 1390.7 221.5 1390.7 221.5 1401.8 222.3 1401.8 222.3 1390.7 223.2 1390.7 223.2 1375.1 224.0 1375.1 224.0 1390.7 224.8 1390.7 224.8 1386.2 225.7 1386.2 225.7 1395.1 226.5 1395.1 226.5 1404.0 227.4 1404.0 227.4 1399.5 228.2 1399.5 228.2 1415.1 229.0 1415.1 229.0 1408.4 229.9 1408.4 229.9 1404.0 230.7 1404.0 230.7 1401.8 231.6 1401.8 231.6 1401.8 232.4 1401.8 232.4 1388.4 233.2 1388.4 233.2 1404.0 234.1 1404.0 234.1 1399.5 234.9 1399.5 234.9 1395.1 235.8 1395.1 235.8 1395.1 236.6 1395.1 236.6 1406.2 237.4 1406.2 237.4 1395.1 238.3 1395.1 238.3 1404.0 239.1 1404.0 239.1 1381.8 239.9 1381.8 239.9 1386.2 240.8 1386.2 240.8 1395.1 241.6 1395.1 241.6 1395.1 242.5 1395.1 242.5 1406.2 243.3 1406.2 243.3 1408.4 244.1 1408.4 244.1 1401.8 245.0 1401.8 245.0 1404.0 245.8 1404.0 245.8 1406.2 246.7 1406.2 246.7 1401.8 247.5 1401.8 247.5 1410.6 248.3 1410.6 248.3 1399.5 249.2 1399.5 249.2 1392.9 250.0 1392.9 250.0 1390.7 250.9 1390.7 250.9 1386.2 251.7 1386.2 251.7 1395.1 252.5 1395.1 252.5 1384.0 253.4 1384.0 253.4 1397.3 254.2 1397.3 254.2 1392.9 255.1 1392.9 255.1 1386.2 255.9 1386.2 255.9 1381.8 256.7 1381.8 256.7 1386.2 257.6 1386.2 257.6 1381.8 258.4 1381.8 258.4 1390.7 259.2 1390.7 259.2 1406.2 260.1 1406.2 260.1 1392.9 260.9 1392.9 260.9 1381.8 261.8 1381.8 261.8 1384.0 262.6 1384.0 262.6 1392.9 263.4 1392.9 263.4 1395.1 264.3 1395.1 264.3 1386.2 265.1 1386.2 265.1 1401.8 266.0 1401.8 266.0 1408.4 266.8 1408.4 266.8 1397.3 267.6 1397.3 267.6 1392.9 268.5 1392.9 268.5 1384.0 269.3 1384.0 269.3 1384.0 270.2 1384.0 270.2 1397.3 271.0 1397.3 271.0 1390.7 271.8 1390.7 271.8 1395.1 272.7 1395.1 272.7 1388.4 273.5 1388.4 273.5 1392.9 274.3 1392.9 274.3 1399.5 275.2 1399.5 275.2 1386.2 276.0 1386.2 276.0 1395.1 276.9 1395.1 276.9 1397.3 277.7 1397.3 277.7 1410.6 278.5 1410.6 278.5 1401.8 279.4 1401.8 279.4 1395.1 280.2 1395.1 280.2 1404.0 281.1 1404.0 281.1 1390.7 281.9 1390.7 281.9 1395.1 282.7 1395.1 282.7 1379.5 283.6 1379.5 283.6 1395.1 284.4 1395.1 284.4 1401.8 285.3 1401.8 285.3 1395.1 286.1 1395.1 286.1 1408.4 286.9 1408.4 286.9 1397.3 287.8 1397.3 287.8 1395.1 288.6 1395.1 288.6 1401.8 289.5 1401.8 289.5 1410.6 290.3 1410.6 290.3 1412.9 291.1 1412.9 291.1 1408.4 292.0 1408.4 292.0 1401.8 292.8 1401.8 292.8 1415.1 293.6 1415.1 293.6 1401.8 294.5 1401.8 294.5 1388.4 295.3 1388.4 295.3 1392.9 296.2 1392.9 296.2 1392.9 297.0 1392.9 297.0 1386.2 297.8 1386.2 297.8 1399.5 298.7 1399.5 298.7 1401.8 299.5 1401.8 299.5 1386.2 300.4 1386.2 300.4 1388.4 301.2 1388.4 301.2 1377.3 302.0 1377.3 302.0 1392.9 302.9 1392.9 302.9 1386.2 303.7 1386.2 303.7 1395.1 304.6 1395.1 304.6 1390.7 305.4 1390.7 305.4 1377.3 306.2 1377.3 306.2 1401.8 307.1 1401.8 307.1 1381.8 307.9 1381.8 307.9 1397.3 308.7 1397.3 308.7 1392.9 309.6 1392.9 309.6 1395.1 310.4 1395.1 310.4 1388.4 311.3 1388.4 311.3 1397.3 312.1 1397.3 312.1 1384.0 312.9 1384.0 312.9 1395.1 313.8 1395.1 313.8 1392.9 314.6 1392.9 314.6 1375.1 315.5 1375.1 315.5 1399.5 316.3 1399.5 316.3 1408.4 317.1 1408.4 317.1 1399.5 318.0 1399.5 318.0 1386.2 318.8 1386.2 318.8 1388.4 319.7 1388.4 319.7 1390.7 320.5 1390.7 320.5 1386.2 321.3 1386.2 321.3 1395.1 322.2 1395.1 322.2 1401.8 323.0 1401.8 323.0 1399.5 323.9 1399.5 323.9 1401.8 324.7 1401.8 324.7 1381.8 325.5 1381.8 325.5 1386.2 326.4 1386.2 326.4 1392.9 327.2 1392.9 327.2 1397.3 328.0 1397.3 328.0 1408.4 328.9 1408.4 328.9 1408.4 329.7 1408.4 329.7 1395.1 330.6 1395.1 330.6 1392.9 331.4 1392.9 331.4 1399.5 332.2 1399.5 332.2 1392.9 333.1 1392.9 333.1 1410.6 333.9 1410.6 333.9 1406.2 334.8 1406.2 334.8 1408.4 335.6 1408.4 335.6 1399.5 336.4 1399.5 336.4 1386.2 337.3 1386.2 337.3 1386.2 338.1 1386.2 338.1 1392.9 339.0 1392.9 339.0 1381.8 339.8 1381.8 339.8 1381.8 340.6 1381.8 340.6 1384.0 341.5 1384.0 341.5 1386.2 342.3 1386.2 342.3 1395.1 343.1 1395.1 343.1 1388.4 344.0 1388.4 344.0 1384.0 344.8 1384.0 344.8 1377.3 345.7 1377.3 345.7 1386.2 346.5 1386.2 346.5 1384.0 347.3 1384.0 347.3 1392.9 348.2 1392.9 348.2 1399.5 349.0 1399.5 349.0 1401.8 349.9 1401.8 349.9 1390.7 350.7 1390.7 350.7 1406.2 351.5 1406.2 351.5 1399.5 352.4 1399.5 352.4 1397.3 353.2 1397.3 353.2 1379.5 354.1 1379.5 354.1 1381.8 354.9 1381.8 354.9 1384.0 355.7 1384.0 355.7 1388.4 356.6 1388.4 356.6 1397.3 357.4 1397.3 357.4 1390.7 358.2 1390.7 358.2 1379.5 359.1 1379.5 359.1 1379.5 359.9 1379.5 359.9 1397.3 360.8 1397.3 360.8 1377.3 361.6 1377.3 361.6 1386.2 362.4 1386.2 362.4 1372.9 363.3 1372.9 363.3 1384.0 364.1 1384.0 364.1 1355.1 365.0 1355.1 365.0 1370.7 365.8 1370.7 365.8 1381.8 366.6 1381.8 366.6 1390.7 367.5 1390.7 367.5 1364.0 368.3 1364.0 368.3 1370.7 369.2 1370.7 369.2 1361.8 370.0 1361.8 370.0 1372.9 370.8 1372.9 370.8 1366.2 371.7 1366.2 371.7 1364.0 372.5 1364.0 372.5 1368.4 373.4 1368.4 373.4 1375.1 374.2 1375.1 374.2 1359.6 375.0 1359.6 375.0 1361.8 375.9 1361.8 375.9 1375.1 376.7 1375.1 376.7 1370.7 377.5 1370.7 377.5 1377.3 378.4 1377.3 378.4 1377.3 379.2 1377.3 379.2 1366.2 380.1 1366.2 380.1 1366.2 380.9 1366.2 380.9 1352.9 381.7 1352.9 381.7 1346.2 382.6 1346.2 382.6 1341.8 383.4 1341.8 383.4 1344.0 384.3 1344.0 384.3 1330.7 385.1 1330.7 385.1 1328.5 385.9 1328.5 385.9 1326.2 386.8 1326.2 386.8 1348.4 387.6 1348.4 387.6 1326.2 388.5 1326.2 388.5 1317.3 389.3 1317.3 389.3 1304.0 390.1 1304.0 390.1 1286.2 391.0 1286.2 391.0 1286.2 391.8 1286.2 391.8 1288.5 392.6 1288.5 392.6 1277.4 393.5 1277.4 393.5 1264.0 394.3 1264.0 394.3 1250.7 395.2 1250.7 395.2 1239.6 396.0 1239.6 396.0 1232.9 396.8 1232.9 396.8 1235.2 397.7 1235.2 397.7 1221.8 398.5 1221.8 398.5 1190.7 399.4 1190.7 399.4 1172.9 400.2 1172.9 400.2 1157.4 401.0 1157.4 401.0 1150.7 401.9 1150.7 401.9 1144.1 402.7 1144.1 402.7 1126.3 403.6 1126.3 403.6 1099.6 404.4 1099.6 404.4 1086.3 405.2 1086.3 405.2 1061.9 406.1 1061.9 406.1 1048.5 406.9 1048.5 406.9 1041.9 407.8 1041.9 407.8 1015.2 408.6 1015.2 408.6 1008.6 409.4 1008.6 409.4 988.6 410.3 988.6 410.3 968.6 411.1 968.6 411.1 968.6 411.9 968.6 411.9 973.0 412.8 973.0 412.8 988.6 413.6 988.6 413.6 1013.0 414.5 1013.0 414.5 1024.1 415.3 1024.1 415.3 1048.5 416.1 1048.5 416.1 1048.5 417.0 1048.5 417.0 1068.5 417.8 1068.5 417.8 1068.5 418.7 1068.5 418.7 1084.1 419.5 1084.1 419.5 1110.7 420.3 1110.7 420.3 1119.6 421.2 1119.6 421.2 1137.4 422.0 1137.4 422.0 1153.0 422.9 1153.0 422.9 1179.6 423.7 1179.6 423.7 1188.5 424.5 1188.5 424.5 1215.2 425.4 1215.2 425.4 1212.9 426.2 1212.9 426.2 1217.4 427.0 1217.4 427.0 1232.9 427.9 1232.9 427.9 1255.1 428.7 1255.1 428.7 1284.0 429.6 1284.0 429.6 1290.7 430.4 1290.7 430.4 1288.5 431.2 1288.5 431.2 1295.1 432.1 1295.1 432.1 1297.4 432.9 1297.4 432.9 1306.2 433.8 1306.2 433.8 1308.5 434.6 1308.5 434.6 1312.9 435.4 1312.9 435.4 1328.5 436.3 1328.5 436.3 1344.0 437.1 1344.0 437.1 1352.9 438.0 1352.9 438.0 1339.6 438.8 1339.6 438.8 1346.2 439.6 1346.2 439.6 1348.4 440.5 1348.4 440.5 1366.2 441.3 1366.2 441.3 1368.4 442.1 1368.4 442.1 1364.0 443.0 1364.0 443.0 1366.2 443.8 1366.2 443.8 1366.2 444.7 1366.2 444.7 1359.6 445.5 1359.6 445.5 1348.4 446.3 1348.4 446.3 1344.0 447.2 1344.0 447.2 1355.1 448.0 1355.1 448.0 1372.9 448.9 1372.9 448.9 1375.1 449.7 1375.1 449.7 1377.3 450.5 1377.3 450.5 1370.7 451.4 1370.7 451.4 1384.0 452.2 1384.0 452.2 1377.3 453.1 1377.3 453.1 1397.3 453.9 1397.3 453.9 1399.5 454.7 1399.5 454.7 1399.5 455.6 1399.5 455.6 1390.7 456.4 1390.7 456.4 1397.3 457.3 1397.3 457.3 1399.5 458.1 1399.5 458.1 1384.0 458.9 1384.0 458.9 1404.0 459.8 1404.0 459.8 1397.3 460.6 1397.3 460.6 1401.8 461.4 1401.8 461.4 1399.5 462.3 1399.5 462.3 1386.2 463.1 1386.2 463.1 1399.5 464.0 1399.5 464.0 1397.3 464.8 1397.3 464.8 1401.8 465.6 1401.8 465.6 1388.4 466.5 1388.4 466.5 1399.5 467.3 1399.5 467.3 1401.8 468.2 1401.8 468.2 1381.8 469.0 1381.8 469.0 1372.9 469.8 1372.9 469.8 1388.4 470.7 1388.4 470.7 1386.2 471.5 1386.2 471.5 1377.3 472.4 1377.3 472.4 1388.4 473.2 1388.4 473.2 1390.7 474.0 1390.7 474.0 1392.9 474.9 1392.9 474.9 1395.1 475.7 1395.1 475.7 1392.9 476.5 1392.9 476.5 1384.0 477.4 1384.0 477.4 1381.8 478.2 1381.8 478.2 1370.7 479.1 1370.7 479.1 1377.3 479.9 1377.3 479.9 1390.7 480.7 1390.7 480.7 1397.3 481.6 1397.3 481.6 1397.3 482.4 1397.3 482.4 1397.3 483.3 1397.3 483.3 1406.2 484.1 1406.2 484.1 1392.9 484.9 1392.9 484.9 1410.6 485.8 1410.6 485.8 1408.4 486.6 1408.4 486.6 1401.8 487.5 1401.8 487.5 1406.2 488.3 1406.2 488.3 1419.5 489.1 1419.5 489.1 1401.8 490.0 1401.8 490.0 1395.1 490.8 1395.1 490.8 1388.4 491.6 1388.4 491.6 1388.4 492.5 1388.4 492.5 1395.1 493.3 1395.1 493.3 1388.4 494.2 1388.4 494.2 1379.5 495.0 1379.5 495.0 1388.4 495.8 1388.4 495.8 1388.4 496.7 1388.4 496.7 1381.8 497.5 1381.8 497.5 1395.1 498.4 1395.1 498.4 1397.3 499.2 1397.3 499.2 1392.9 500.0 1392.9 500.0 1399.5 500.9 1399.5 500.9 1412.9 501.7 1412.9 501.7 1404.0 502.6 1404.0 502.6 1406.2 503.4 1406.2 503.4 1397.3 504.2 1397.3 504.2 1395.1 505.1 1395.1 505.1 1401.8 505.9 1401.8 505.9 1390.7 506.8 1390.7 506.8 1404.0 507.6 1404.0 507.6 1388.4 508.4 1388.4 508.4 1397.3 509.3 1397.3 509.3 1406.2 510.1 1406.2 510.1 1384.0 510.9 1384.0 510.9 1379.5 511.8 1379.5 511.8 1384.0 512.6 1384.0 512.6 1379.5 513.5 1379.5 513.5 1379.5 514.3 1379.5 514.3 1390.7 515.1 1390.7 515.1 1390.7 516.0 1390.7 516.0 1375.1 516.8 1375.1 516.8 1370.7 517.7 1370.7 517.7 1381.8 518.5 1381.8 518.5 1388.4 519.3 1388.4 519.3 1401.8 520.2 1401.8 520.2 1401.8 521.0 1401.8 521.0 1397.3 521.9 1397.3 521.9 1390.7 522.7 1390.7 522.7 1390.7 523.5 1390.7 523.5 1397.3 524.4 1397.3 524.4 1397.3 525.2 1397.3 525.2 1395.1 526.0 1395.1 526.0 1381.8 526.9 1381.8 526.9 1384.0 527.7 1384.0 527.7 1375.1 528.6 1375.1 528.6 1379.5 529.4 1379.5 529.4 1384.0 530.2 1384.0 530.2 1375.1 531.1 1375.1 531.1 1377.3 531.9 1377.3 531.9 1384.0 532.8 1384.0 532.8 1392.9 533.6 1392.9 533.6 1399.5 534.4 1399.5 534.4 1399.5 535.3 1399.5 535.3 1392.9 536.1 1392.9 536.1 1379.5 537.0 1379.5 537.0 1375.1 537.8 1375.1 537.8 1388.4 538.6 1388.4 538.6 1370.7 539.5 1370.7 539.5 1384.0 540.3 1384.0 540.3 1381.8 541.2 1381.8 541.2 1388.4 542.0 1388.4 542.0 1401.8 542.8 1401.8 542.8 1401.8 543.7 1401.8 543.7 1401.8 544.5 1401.8 544.5 1404.0 545.3 1404.0 545.3 1401.8 546.2 1401.8 546.2 1412.9 547.0 1412.9 547.0 1410.6 547.9 1410.6 547.9 1406.2 548.7 1406.2 548.7 1412.9 549.5 1412.9 549.5 1399.5 550.4 1399.5 550.4 1404.0 551.2 1404.0 551.2 1410.6 552.1 1410.6 552.1 1404.0 552.9 1404.0 552.9 1401.8 553.7 1401.8 553.7 1381.8 554.6 1381.8 554.6 1386.2 555.4 1386.2 555.4 1386.2 556.3 1386.2 556.3 1395.1 557.1 1395.1 557.1 1388.4 557.9 1388.4 557.9 1390.7 558.8 1390.7 558.8 1386.2 559.6 1386.2 559.6 1377.3 560.4 1377.3 560.4 1384.0 561.3 1384.0 561.3 1381.8 562.1 1381.8 562.1 1372.9 563.0 1372.9 563.0 1386.2 563.8 1386.2 563.8 1381.8 564.6 1381.8 564.6 1388.4 565.5 1388.4 565.5 1381.8 566.3 1381.8 566.3 1388.4 567.2 1388.4 567.2 1388.4 568.0 1388.4 568.0 1386.2 568.8 1386.2 568.8 1386.2 569.7 1386.2 569.7 1386.2 570.5 1386.2 570.5 1392.9 571.4 1392.9 571.4 1381.8 572.2 1381.8 572.2 1390.7 573.0 1390.7 573.0 1397.3 573.9 1397.3 573.9 1397.3 574.7 1397.3 574.7 1401.8 575.5 1401.8 575.5 1395.1 576.4 1395.1 576.4 1386.2 577.2 1386.2 577.2 1395.1 578.1 1395.1 578.1 1386.2 578.9 1386.2 578.9 1377.3 579.7 1377.3 579.7 1384.0 580.6 1384.0 580.6 1388.4 581.4 1388.4 581.4 1399.5 582.3 1399.5 582.3 1395.1 583.1 1395.1 583.1 1395.1 583.9 1395.1 583.9 1381.8 584.8 1381.8 584.8 1392.9 585.6 1392.9 585.6 1388.4 586.5 1388.4 586.5 1406.2 587.3 1406.2 587.3 1390.7 588.1 1390.7 588.1 1375.1 589.0 1375.1 589.0 1399.5 589.8 1399.5 589.8 1395.1 590.7 1395.1 590.7 1384.0 591.5 1384.0 591.5 1372.9 592.3 1372.9 592.3 1388.4 593.2 1388.4 593.2 1397.3 594.0 1397.3 594.0 1401.8 594.8 1401.8 594.8 1399.5 595.7 1399.5 595.7 1397.3 596.5 1397.3 596.5 1390.7 597.4 1390.7 597.4 1366.2 598.2 1366.2 598.2 1361.8 599.0 1361.8 599.0 1386.2 599.9 1386.2 599.9 1377.3 600.7 1377.3 600.7 1397.3 601.6 1397.3 601.6 1390.7 602.4 1390.7 602.4 1395.1 603.2 1395.1 603.2 1390.7 604.1 1390.7 604.1 1395.1 604.9 1395.1 604.9 1379.5 605.8 1379.5 605.8 1366.2 606.6 1366.2 606.6 1375.1 607.4 1375.1 607.4 1384.0 608.3 1384.0 608.3 1379.5 609.1 1379.5 609.1 1392.9 609.9 1392.9 609.9 1388.4 610.8 1388.4 610.8 1386.2 611.6 1386.2 611.6 1401.8 612.5 1401.8 612.5 1392.9 613.3 1392.9 613.3 1395.1 614.1 1395.1 614.1 1395.1 615.0 1395.1 615.0 1390.7 615.8 1390.7 615.8 1390.7 616.7 1390.7 616.7 1386.2 617.5 1386.2 617.5 1384.0 618.3 1384.0 618.3 1381.8 619.2 1381.8 619.2 1399.5 620.0 1399.5 620.0 1390.7 620.9 1390.7 620.9 1397.3 621.7 1397.3 621.7 1401.8 622.5 1401.8 622.5 1412.9 623.4 1412.9 623.4 1397.3 624.2 1397.3 624.2 1410.6 625.1 1410.6 625.1 1399.5 625.9 1399.5 625.9 1401.8 626.7 1401.8 626.7 1395.1 627.6 1395.1 627.6 1388.4 628.4 1388.4 628.4 1375.1 629.2 1375.1 629.2 1386.2 630.1 1386.2 630.1 1386.2 630.9 1386.2 630.9 1399.5 631.8 1399.5 631.8 1399.5 632.6 1399.5 632.6 1395.1 633.4 1395.1 633.4 1410.6 634.3 1410.6 634.3 1392.9 635.1 1392.9 635.1 1388.4 636.0 1388.4 636.0 1397.3 636.8 1397.3 636.8 1399.5 637.6 1399.5 637.6 1388.4 638.5 1388.4 638.5 1381.8 639.3 1381.8 639.3 1390.7 640.2 1390.7 640.2 1415.1 641.0 1415.1 641.0 1392.9 641.8 1392.9 641.8 1388.4 642.7 1388.4 642.7 1390.7 643.5 1390.7 643.5 1392.9 644.3 1392.9 644.3 1404.0 645.2 1404.0 645.2 1401.8 646.0 1401.8 646.0 1408.4 646.9 1408.4 646.9 1401.8 647.7 1401.8 647.7 1392.9 648.5 1392.9 648.5 1408.4 649.4 1408.4 649.4 1417.3 650.2 1417.3 650.2 1390.7 651.1 1390.7 651.1 1397.3 651.9 1397.3 651.9 1388.4 652.7 1388.4 652.7 1399.5 653.6 1399.5 653.6 1404.0 654.4 1404.0 654.4 1390.7 655.3 1390.7 655.3 1384.0 656.1 1384.0 656.1 1388.4 656.9 1388.4 656.9 1395.1 657.8 1395.1 657.8 1388.4 658.6 1388.4 658.6 1410.6 659.5 1410.6 659.5 1404.0 660.3 1404.0 660.3 1388.4 661.1 1388.4 661.1 1388.4 662.0 1388.4 662.0 1384.0 662.8 1384.0 662.8 1401.8 663.6 1401.8 663.6 1397.3 664.5 1397.3 664.5 1392.9 665.3 1392.9 665.3 1397.3 666.2 1397.3 666.2 1397.3 667.0 1397.3 667.0 1384.0 667.8 1384.0 667.8 1381.8 668.7 1381.8 668.7 1392.9 669.5 1392.9 669.5 1406.2 670.4 1406.2 670.4 1419.5 671.2 1419.5 671.2 1404.0 672.0 1404.0 672.0 1404.0 672.9 1404.0 672.9 1401.8 673.7 1401.8 673.7 1392.9 674.6 1392.9 674.6 1388.4 675.4 1388.4 675.4 1401.8 676.2 1401.8 676.2 1399.5 677.1 1399.5 677.1 1386.2 677.9 1386.2 677.9 1395.1 678.7 1395.1 678.7 1404.0 679.6 1404.0 679.6 1390.7 680.4 1390.7 680.4 1401.8 681.3 1401.8 681.3 1406.2 682.1 1406.2 682.1 1395.1 682.9 1395.1 682.9 1397.3 683.8 1397.3 683.8 1388.4 684.6 1388.4 684.6 1395.1 685.5 1395.1 685.5 1388.4 686.3 1388.4 686.3 1395.1 687.1 1395.1 687.1 1397.3 688.0 1397.3 688.0 1395.1 688.8 1395.1 688.8 1386.2 689.7 1386.2 689.7 1390.7 690.5 1390.7 690.5 1390.7 691.3 1390.7 691.3 1379.5 692.2 1379.5 692.2 1388.4 693.0 1388.4 693.0 1390.7 693.8 1390.7 693.8 1406.2 694.7 1406.2 694.7 1399.5 695.5 1399.5 695.5 1401.8 696.4 1401.8 696.4 1386.2 697.2 1386.2 697.2 1390.7 698.0 1390.7 698.0 1384.0 698.9 1384.0 698.9 1372.9 699.7 1372.9 699.7 1379.5 700.6 1379.5 700.6 1381.8 701.4 1381.8 701.4 1392.9 702.2 1392.9 702.2 1392.9 703.1 1392.9 703.1 1375.1 703.9 1375.1 703.9 1384.0 704.8 1384.0 704.8 1390.7 705.6 1390.7 705.6 1404.0 706.4 1404.0 706.4 1386.2 707.3 1386.2 707.3 1377.3 708.1 1377.3 708.1 1381.8 709.0 1381.8 709.0 1384.0 709.8 1384.0 709.8 1395.1 710.6 1395.1 710.6 1401.8 711.5 1401.8 711.5 1406.2 712.3 1406.2 712.3 1399.5 713.1 1399.5 713.1 1401.8 714.0 1401.8 714.0 1395.1 714.8 1395.1 714.8 1392.9 715.7 1392.9 715.7 1395.1 716.5 1395.1 716.5 1392.9 717.3 1392.9 717.3 1384.0 718.2 1384.0 718.2 1392.9 719.0 1392.9 719.0 1392.9 719.9 1392.9 719.9 1386.2 720.7 1386.2 720.7 1401.8 721.5 1401.8 721.5 1395.1 722.4 1395.1 722.4 1379.5 723.2 1379.5 723.2 1379.5 724.1 1379.5 724.1 1384.0 724.9 1384.0 724.9 1372.9 725.7 1372.9 725.7 1384.0 726.6 1384.0 726.6 1386.2 727.4 1386.2 727.4 1386.2 728.2 1386.2 728.2 1399.5 729.1 1399.5 729.1 1388.4 729.9 1388.4 729.9 1392.9 730.8 1392.9 730.8 1390.7 731.6 1390.7 731.6 1372.9 732.4 1372.9 732.4 1377.3 733.3 1377.3 733.3 1395.1 734.1 1395.1 734.1 1395.1 735.0 1395.1 735.0 1390.7 735.8 1390.7 735.8 1384.0 736.6 1384.0 736.6 1397.3 737.5 1397.3 737.5 1395.1 738.3 1395.1 738.3 1390.7 739.2 1390.7 739.2 1392.9 740.0 1392.9 740.0 1388.4 740.8 1388.4 740.8 1377.3 741.7 1377.3 741.7 1386.2 742.5 1386.2 742.5 1381.8 743.4 1381.8 743.4 1390.7 744.2 1390.7 744.2 1384.0 745.0 1384.0 745.0 1390.7 745.9 1390.7 745.9 1390.7 746.7 1390.7 746.7 1390.7 747.5 1390.7 747.5 1390.7 748.4 1390.7 748.4 1379.5 749.2 1379.5 749.2 1384.0 750.1 1384.0 750.1 1377.3 750.9 1377.3 750.9 1381.8 751.7 1381.8 751.7 1395.1 752.6 1395.1 752.6 1399.5 753.4 1399.5" stroke="#000" stroke-width="1.6" fill="none"/>
<path d="M117.5 1388.4 118.3 1388.4 118.3 1384.0 119.1 1384.0 119.1 1379.5 120.0 1379.5 120.0 1379.5 120.8 1379.5 120.8 1397.3 121.7 1397.3 121.7 1381.8 122.5 1381.8 122.5 1408.4 123.3 1408.4 123.3 1419.5 124.2 1419.5 124.2 1412.9 125.0 1412.9 125.0 1415.1 125.8 1415.1 125.8 1417.3 126.7 1417.3 126.7 1410.6 127.5 1410.6 127.5 1401.8 128.4 1401.8 128.4 1408.4 129.2 1408.4 129.2 1397.3 130.0 1397.3 130.0 1410.6 130.9 1410.6 130.9 1412.9 131.7 1412.9 131.7 1419.5 132.6 1419.5 132.6 1406.2 133.4 1406.2 133.4 1417.3 134.2 1417.3 134.2 1410.6 135.1 1410.6 135.1 1410.6 135.9 1410.6 135.9 1410.6 136.8 1410.6 136.8 1424.0 137.6 1424.0 137.6 1424.7 138.4 1424.7 138.4 1419.5 139.3 1419.5 139.3 1408.4 140.1 1408.4 140.1 1406.2 140.9 1406.2 140.9 1424.0 141.8 1424.0 141.8 1424.7 142.6 1424.7 142.6 1419.5 143.5 1419.5 143.5 1421.8 144.3 1421.8 144.3 1421.8 145.1 1421.8 145.1 1415.1 146.0 1415.1 146.0 1424.7 146.8 1424.7 146.8 1424.7 147.7 1424.7 147.7 1424.7 148.5 1424.7 148.5 1424.7 149.3 1424.7 149.3 1424.7 150.2 1424.7 150.2 1424.7 151.0 1424.7 151.0 1424.7 151.9 1424.7 151.9 1424.7 152.7 1424.7 152.7 1424.7 153.5 1424.7 153.5 1424.7 154.4 1424.7 154.4 1424.7 155.2 1424.7 155.2 1424.7 156.0 1424.7 156.0 1408.4 156.9 1408.4 156.9 1408.4 157.7 1408.4 157.7 1421.8 158.6 1421.8 158.6 1424.0 159.4 1424.0 159.4 1419.5 160.2 1419.5 160.2 1419.5 161.1 1419.5 161.1 1404.0 161.9 1404.0 161.9 1421.8 162.8 1421.8 162.8 1421.8 163.6 1421.8 163.6 1424.0 164.4 1424.0 164.4 1424.7 165.3 1424.7 165.3 1424.7 166.1 1424.7 166.1 1424.7 167.0 1424.7 167.0 1424.7 167.8 1424.7 167.8 1412.9 168.6 1412.9 168.6 1412.9 169.5 1412.9 169.5 1408.4 170.3 1408.4 170.3 1406.2 171.2 1406.2 171.2 1392.9 172.0 1392.9 172.0 1390.7 172.8 1390.7 172.8 1410.6 173.7 1410.6 173.7 1415.1 174.5 1415.1 174.5 1410.6 175.3 1410.6 175.3 1404.0 176.2 1404.0 176.2 1415.1 177.0 1415.1 177.0 1417.3 177.9 1417.3 177.9 1404.0 178.7 1404.0 178.7 1417.3 179.5 1417.3 179.5 1424.0 180.4 1424.0 180.4 1424.0 181.2 1424.0 181.2 1419.5 182.1 1419.5 182.1 1424.0 182.9 1424.0 182.9 1417.3 183.7 1417.3 183.7 1421.8 184.6 1421.8 184.6 1412.9 185.4 1412.9 185.4 1419.5 186.3 1419.5 186.3 1415.1 187.1 1415.1 187.1 1412.9 187.9 1412.9 187.9 1417.3 188.8 1417.3 188.8 1415.1 189.6 1415.1 189.6 1408.4 190.4 1408.4 190.4 1419.5 191.3 1419.5 191.3 1419.5 192.1 1419.5 192.1 1424.7 193.0 1424.7 193.0 1415.1 193.8 1415.1 193.8 1415.1 194.6 1415.1 194.6 1412.9 195.5 1412.9 195.5 1410.6 196.3 1410.6 196.3 1410.6 197.2 1410.6 197.2 1417.3 198.0 1417.3 198.0 1408.4 198.8 1408.4 198.8 1421.8 199.7 1421.8 199.7 1408.4 200.5 1408.4 200.5 1401.8 201.4 1401.8 201.4 1401.8 202.2 1401.8 202.2 1410.6 203.0 1410.6 203.0 1424.7 203.9 1424.7 203.9 1421.8 204.7 1421.8 204.7 1424.7 205.6 1424.7 205.6 1424.0 206.4 1424.0 206.4 1424.7 207.2 1424.7 207.2 1424.0 208.1 1424.0 208.1 1419.5 208.9 1419.5 208.9 1424.7 209.7 1424.7 209.7 1424.7 210.6 1424.7 210.6 1424.7 211.4 1424.7 211.4 1412.9 212.3 1412.9 212.3 1415.1 213.1 1415.1 213.1 1404.0 213.9 1404.0 213.9 1412.9 214.8 1412.9 214.8 1395.1 215.6 1395.1 215.6 1408.4 216.5 1408.4 216.5 1395.1 217.3 1395.1 217.3 1390.7 218.1 1390.7 218.1 1401.8 219.0 1401.8 219.0 1397.3 219.8 1397.3 219.8 1397.3 220.7 1397.3 220.7 1410.6 221.5 1410.6 221.5 1424.0 222.3 1424.0 222.3 1412.9 223.2 1412.9 223.2 1397.3 224.0 1397.3 224.0 1412.9 224.8 1412.9 224.8 1410.6 225.7 1410.6 225.7 1417.3 226.5 1417.3 226.5 1424.7 227.4 1424.7 227.4 1419.5 228.2 1419.5 228.2 1424.7 229.0 1424.7 229.0 1424.7 229.9 1424.7 229.9 1424.7 230.7 1424.7 230.7 1424.0 231.6 1424.0 231.6 1421.8 232.4 1421.8 232.4 1408.4 233.2 1408.4 233.2 1424.0 234.1 1424.0 234.1 1419.5 234.9 1419.5 234.9 1415.1 235.8 1415.1 235.8 1417.3 236.6 1417.3 236.6 1424.7 237.4 1424.7 237.4 1419.5 238.3 1419.5 238.3 1424.7 239.1 1424.7 239.1 1406.2 239.9 1406.2 239.9 1410.6 240.8 1410.6 240.8 1419.5 241.6 1419.5 241.6 1419.5 242.5 1419.5 242.5 1424.7 243.3 1424.7 243.3 1424.7 244.1 1424.7 244.1 1424.7 245.0 1424.7 245.0 1424.7 245.8 1424.7 245.8 1424.7 246.7 1424.7 246.7 1424.0 247.5 1424.0 247.5 1424.7 248.3 1424.7 248.3 1421.8 249.2 1421.8 249.2 1415.1 250.0 1415.1 250.0 1412.9 250.9 1412.9 250.9 1408.4 251.7 1408.4 251.7 1417.3 252.5 1417.3 252.5 1406.2 253.4 1406.2 253.4 1419.5 254.2 1419.5 254.2 1415.1 255.1 1415.1 255.1 1406.2 255.9 1406.2 255.9 1404.0 256.7 1404.0 256.7 1408.4 257.6 1408.4 257.6 1404.0 258.4 1404.0 258.4 1412.9 259.2 1412.9 259.2 1424.7 260.1 1424.7 260.1 1415.1 260.9 1415.1 260.9 1401.8 261.8 1401.8 261.8 1404.0 262.6 1404.0 262.6 1412.9 263.4 1412.9 263.4 1415.1 264.3 1415.1 264.3 1408.4 265.1 1408.4 265.1 1424.0 266.0 1424.0 266.0 1424.7 266.8 1424.7 266.8 1419.5 267.6 1419.5 267.6 1415.1 268.5 1415.1 268.5 1406.2 269.3 1406.2 269.3 1406.2 270.2 1406.2 270.2 1419.5 271.0 1419.5 271.0 1412.9 271.8 1412.9 271.8 1417.3 272.7 1417.3 272.7 1410.6 273.5 1410.6 273.5 1415.1 274.3 1415.1 274.3 1421.8 275.2 1421.8 275.2 1408.4 276.0 1408.4 276.0 1417.3 276.9 1417.3 276.9 1419.5 277.7 1419.5 277.7 1424.7 278.5 1424.7 278.5 1424.0 279.4 1424.0 279.4 1417.3 280.2 1417.3 280.2 1424.7 281.1 1424.7 281.1 1410.6 281.9 1410.6 281.9 1415.1 282.7 1415.1 282.7 1401.8 283.6 1401.8 283.6 1419.5 284.4 1419.5 284.4 1424.0 285.3 1424.0 285.3 1417.3 286.1 1417.3 286.1 1424.7 286.9 1424.7 286.9 1419.5 287.8 1419.5 287.8 1419.5 288.6 1419.5 288.6 1424.7 289.5 1424.7 289.5 1424.7 290.3 1424.7 290.3 1424.7 291.1 1424.7 291.1 1424.7 292.0 1424.7 292.0 1424.7 292.8 1424.7 292.8 1424.7 293.6 1424.7 293.6 1424.0 294.5 1424.0 294.5 1412.9 295.3 1412.9 295.3 1415.1 296.2 1415.1 296.2 1415.1 297.0 1415.1 297.0 1408.4 297.8 1408.4 297.8 1421.8 298.7 1421.8 298.7 1424.0 299.5 1424.0 299.5 1408.4 300.4 1408.4 300.4 1410.6 301.2 1410.6 301.2 1399.5 302.0 1399.5 302.0 1415.1 302.9 1415.1 302.9 1410.6 303.7 1410.6 303.7 1421.8 304.6 1421.8 304.6 1415.1 305.4 1415.1 305.4 1401.8 306.2 1401.8 306.2 1424.7 307.1 1424.7 307.1 1404.0 307.9 1404.0 307.9 1419.5 308.7 1419.5 308.7 1417.3 309.6 1417.3 309.6 1417.3 310.4 1417.3 310.4 1410.6 311.3 1410.6 311.3 1419.5 312.1 1419.5 312.1 1406.2 312.9 1406.2 312.9 1417.3 313.8 1417.3 313.8 1417.3 314.6 1417.3 314.6 1399.5 315.5 1399.5 315.5 1421.8 316.3 1421.8 316.3 1424.7 317.1 1424.7 317.1 1424.0 318.0 1424.0 318.0 1410.6 318.8 1410.6 318.8 1412.9 319.7 1412.9 319.7 1415.1 320.5 1415.1 320.5 1410.6 321.3 1410.6 321.3 1417.3 322.2 1417.3 322.2 1424.0 323.0 1424.0 323.0 1421.8 323.9 1421.8 323.9 1424.0 324.7 1424.0 324.7 1404.0 325.5 1404.0 325.5 1410.6 326.4 1410.6 326.4 1415.1 327.2 1415.1 327.2 1419.5 328.0 1419.5 328.0 1424.7 328.9 1424.7 328.9 1424.7 329.7 1424.7 329.7 1419.5 330.6 1419.5 330.6 1415.1 331.4 1415.1 331.4 1421.8 332.2 1421.8 332.2 1415.1 333.1 1415.1 333.1 1424.7 333.9 1424.7 333.9 1424.7 334.8 1424.7 334.8 1424.7 335.6 1424.7 335.6 1419.5 336.4 1419.5 336.4 1408.4 337.3 1408.4 337.3 1406.2 338.1 1406.2 338.1 1415.1 339.0 1415.1 339.0 1404.0 339.8 1404.0 339.8 1404.0 340.6 1404.0 340.6 1406.2 341.5 1406.2 341.5 1406.2 342.3 1406.2 342.3 1417.3 343.1 1417.3 343.1 1408.4 344.0 1408.4 344.0 1406.2 344.8 1406.2 344.8 1399.5 345.7 1399.5 345.7 1408.4 346.5 1408.4 346.5 1406.2 347.3 1406.2 347.3 1417.3 348.2 1417.3 348.2 1421.8 349.0 1421.8 349.0 1424.0 349.9 1424.0 349.9 1412.9 350.7 1412.9 350.7 1424.7 351.5 1424.7 351.5 1421.8 352.4 1421.8 352.4 1419.5 353.2 1419.5 353.2 1401.8 354.1 1401.8 354.1 1404.0 354.9 1404.0 354.9 1406.2 355.7 1406.2 355.7 1412.9 356.6 1412.9 356.6 1421.8 357.4 1421.8 357.4 1415.1 358.2 1415.1 358.2 1404.0 359.1 1404.0 359.1 1401.8 359.9 1401.8 359.9 1419.5 360.8 1419.5 360.8 1399.5 361.6 1399.5 361.6 1410.6 362.4 1410.6 362.4 1395.1 363.3 1395.1 363.3 1406.2 364.1 1406.2 364.1 1379.5 365.0 1379.5 365.0 1395.1 365.8 1395.1 365.8 1406.2 366.6 1406.2 366.6 1415.1 367.5 1415.1 367.5 1386.2 368.3 1386.2 368.3 1395.1 369.2 1395.1 369.2 1386.2 370.0 1386.2 370.0 1397.3 370.8 1397.3 370.8 1390.7 371.7 1390.7 371.7 1388.4 372.5 1388.4 372.5 1392.9 373.4 1392.9 373.4 1399.5 374.2 1399.5 374.2 1384.0 375.0 1384.0 375.0 1384.0 375.9 1384.0 375.9 1399.5 376.7 1399.5 376.7 1395.1 377.5 1395.1 377.5 1401.8 378.4 1401.8 378.4 1401.8 379.2 1401.8 379.2 1388.4 380.1 1388.4 380.1 1388.4 380.9 1388.4 380.9 1377.3 381.7 1377.3 381.7 1370.7 382.6 1370.7 382.6 1366.2 383.4 1366.2 383.4 1368.4 384.3 1368.4 384.3 1355.1 385.1 1355.1 385.1 1350.7 385.9 1350.7 385.9 1348.4 386.8 1348.4 386.8 1370.7 387.6 1370.7 387.6 1348.4 388.5 1348.4 388.5 1339.6 389.3 1339.6 389.3 1326.2 390.1 1326.2 390.1 1308.5 391.0 1308.5 391.0 1308.5 391.8 1308.5 391.8 1310.7 392.6 1310.7 392.6 1299.6 393.5 1299.6 393.5 1286.2 394.3 1286.2 394.3 1272.9 395.2 1272.9 395.2 1261.8 396.0 1261.8 396.0 1257.4 396.8 1257.4 396.8 1257.4 397.7 1257.4 397.7 1244.0 398.5 1244.0 398.5 1212.9 399.4 1212.9 399.4 1195.2 400.2 1195.2 400.2 1177.4 401.0 1177.4 401.0 1170.7 401.9 1170.7 401.9 1166.3 402.7 1166.3 402.7 1146.3 403.6 1146.3 403.6 1119.6 404.4 1119.6 404.4 1108.5 405.2 1108.5 405.2 1084.1 406.1 1084.1 406.1 1070.8 406.9 1070.8 406.9 1066.3 407.8 1066.3 407.8 1039.7 408.6 1039.7 408.6 1033.0 409.4 1033.0 409.4 1010.8 410.3 1010.8 410.3 993.0 411.1 993.0 411.1 990.8 411.9 990.8 411.9 997.5 412.8 997.5 412.8 1010.8 413.6 1010.8 413.6 1035.2 414.5 1035.2 414.5 1046.3 415.3 1046.3 415.3 1070.8 416.1 1070.8 416.1 1070.8 417.0 1070.8 417.0 1090.8 417.8 1090.8 417.8 1093.0 418.7 1093.0 418.7 1106.3 419.5 1106.3 419.5 1135.2 420.3 1135.2 420.3 1144.1 421.2 1144.1 421.2 1161.8 422.0 1161.8 422.0 1177.4 422.9 1177.4 422.9 1204.1 423.7 1204.1 423.7 1212.9 424.5 1212.9 424.5 1239.6 425.4 1239.6 425.4 1237.4 426.2 1237.4 426.2 1241.8 427.0 1241.8 427.0 1257.4 427.9 1257.4 427.9 1279.6 428.7 1279.6 428.7 1306.2 429.6 1306.2 429.6 1312.9 430.4 1312.9 430.4 1308.5 431.2 1308.5 431.2 1315.1 432.1 1315.1 432.1 1317.3 432.9 1317.3 432.9 1324.0 433.8 1324.0 433.8 1328.5 434.6 1328.5 434.6 1332.9 435.4 1332.9 435.4 1348.4 436.3 1348.4 436.3 1366.2 437.1 1366.2 437.1 1372.9 438.0 1372.9 438.0 1359.6 438.8 1359.6 438.8 1368.4 439.6 1368.4 439.6 1370.7 440.5 1370.7 440.5 1388.4 441.3 1388.4 441.3 1388.4 442.1 1388.4 442.1 1384.0 443.0 1384.0 443.0 1386.2 443.8 1386.2 443.8 1388.4 444.7 1388.4 444.7 1381.8 445.5 1381.8 445.5 1370.7 446.3 1370.7 446.3 1364.0 447.2 1364.0 447.2 1377.3 448.0 1377.3 448.0 1392.9 448.9 1392.9 448.9 1395.1 449.7 1395.1 449.7 1397.3 450.5 1397.3 450.5 1390.7 451.4 1390.7 451.4 1401.8 452.2 1401.8 452.2 1397.3 453.1 1397.3 453.1 1417.3 453.9 1417.3 453.9 1419.5 454.7 1419.5 454.7 1419.5 455.6 1419.5 455.6 1410.6 456.4 1410.6 456.4 1417.3 457.3 1417.3 457.3 1419.5 458.1 1419.5 458.1 1406.2 458.9 1406.2 458.9 1424.7 459.8 1424.7 459.8 1417.3 460.6 1417.3 460.6 1421.8 461.4 1421.8 461.4 1419.5 462.3 1419.5 462.3 1406.2 463.1 1406.2 463.1 1419.5 464.0 1419.5 464.0 1417.3 464.8 1417.3 464.8 1421.8 465.6 1421.8 465.6 1410.6 466.5 1410.6 466.5 1419.5 467.3 1419.5 467.3 1421.8 468.2 1421.8 468.2 1401.8 469.0 1401.8 469.0 1392.9 469.8 1392.9 469.8 1408.4 470.7 1408.4 470.7 1406.2 471.5 1406.2 471.5 1399.5 472.4 1399.5 472.4 1408.4 473.2 1408.4 473.2 1410.6 474.0 1410.6 474.0 1415.1 474.9 1415.1 474.9 1415.1 475.7 1415.1 475.7 1412.9 476.5 1412.9 476.5 1404.0 477.4 1404.0 477.4 1401.8 478.2 1401.8 478.2 1390.7 479.1 1390.7 479.1 1399.5 479.9 1399.5 479.9 1412.9 480.7 1412.9 480.7 1419.5 481.6 1419.5 481.6 1417.3 482.4 1417.3 482.4 1419.5 483.3 1419.5 483.3 1424.7 484.1 1424.7 484.1 1412.9 484.9 1412.9 484.9 1424.7 485.8 1424.7 485.8 1424.7 486.6 1424.7 486.6 1424.0 487.5 1424.0 487.5 1424.7 488.3 1424.7 488.3 1424.7 489.1 1424.7 489.1 1421.8 490.0 1421.8 490.0 1415.1 490.8 1415.1 490.8 1408.4 491.6 1408.4 491.6 1408.4 492.5 1408.4 492.5 1415.1 493.3 1415.1 493.3 1410.6 494.2 1410.6 494.2 1401.8 495.0 1401.8 495.0 1410.6 495.8 1410.6 495.8 1410.6 496.7 1410.6 496.7 1404.0 497.5 1404.0 497.5 1417.3 498.4 1417.3 498.4 1419.5 499.2 1419.5 499.2 1415.1 500.0 1415.1 500.0 1421.8 500.9 1421.8 500.9 1424.7 501.7 1424.7 501.7 1424.0 502.6 1424.0 502.6 1424.7 503.4 1424.7 503.4 1419.5 504.2 1419.5 504.2 1417.3 505.1 1417.3 505.1 1424.0 505.9 1424.0 505.9 1415.1 506.8 1415.1 506.8 1424.7 507.6 1424.7 507.6 1412.9 508.4 1412.9 508.4 1421.8 509.3 1421.8 509.3 1424.7 510.1 1424.7 510.1 1410.6 510.9 1410.6 510.9 1406.2 511.8 1406.2 511.8 1410.6 512.6 1410.6 512.6 1406.2 513.5 1406.2 513.5 1406.2 514.3 1406.2 514.3 1417.3 515.1 1417.3 515.1 1417.3 516.0 1417.3 516.0 1401.8 516.8 1401.8 516.8 1397.3 517.7 1397.3 517.7 1408.4 518.5 1408.4 518.5 1415.1 519.3 1415.1 519.3 1424.7 520.2 1424.7 520.2 1424.7 521.0 1424.7 521.0 1421.8 521.9 1421.8 521.9 1417.3 522.7 1417.3 522.7 1417.3 523.5 1417.3 523.5 1424.0 524.4 1424.0 524.4 1424.0 525.2 1424.0 525.2 1421.8 526.0 1421.8 526.0 1408.4 526.9 1408.4 526.9 1410.6 527.7 1410.6 527.7 1399.5 528.6 1399.5 528.6 1404.0 529.4 1404.0 529.4 1408.4 530.2 1408.4 530.2 1397.3 531.1 1397.3 531.1 1401.8 531.9 1401.8 531.9 1406.2 532.8 1406.2 532.8 1415.1 533.6 1415.1 533.6 1421.8 534.4 1421.8 534.4 1421.8 535.3 1421.8 535.3 1415.1 536.1 1415.1 536.1 1404.0 537.0 1404.0 537.0 1399.5 537.8 1399.5 537.8 1412.9 538.6 1412.9 538.6 1395.1 539.5 1395.1 539.5 1408.4 540.3 1408.4 540.3 1406.2 541.2 1406.2 541.2 1410.6 542.0 1410.6 542.0 1424.0 542.8 1424.0 542.8 1424.0 543.7 1424.0 543.7 1424.7 544.5 1424.7 544.5 1424.7 545.3 1424.7 545.3 1424.0 546.2 1424.0 546.2 1424.7 547.0 1424.7 547.0 1424.7 547.9 1424.7 547.9 1424.7 548.7 1424.7 548.7 1424.7 549.5 1424.7 549.5 1421.8 550.4 1421.8 550.4 1424.7 551.2 1424.7 551.2 1424.7 552.1 1424.7 552.1 1424.7 552.9 1424.7 552.9 1424.7 553.7 1424.7 553.7 1406.2 554.6 1406.2 554.6 1410.6 555.4 1410.6 555.4 1410.6 556.3 1410.6 556.3 1419.5 557.1 1419.5 557.1 1412.9 557.9 1412.9 557.9 1417.3 558.8 1417.3 558.8 1412.9 559.6 1412.9 559.6 1404.0 560.4 1404.0 560.4 1410.6 561.3 1410.6 561.3 1408.4 562.1 1408.4 562.1 1401.8 563.0 1401.8 563.0 1412.9 563.8 1412.9 563.8 1410.6 564.6 1410.6 564.6 1415.1 565.5 1415.1 565.5 1408.4 566.3 1408.4 566.3 1417.3 567.2 1417.3 567.2 1417.3 568.0 1417.3 568.0 1415.1 568.8 1415.1 568.8 1415.1 569.7 1415.1 569.7 1415.1 570.5 1415.1 570.5 1421.8 571.4 1421.8 571.4 1410.6 572.2 1410.6 572.2 1419.5 573.0 1419.5 573.0 1424.7 573.9 1424.7 573.9 1424.0 574.7 1424.0 574.7 1424.7 575.5 1424.7 575.5 1424.0 576.4 1424.0 576.4 1415.1 577.2 1415.1 577.2 1424.0 578.1 1424.0 578.1 1415.1 578.9 1415.1 578.9 1404.0 579.7 1404.0 579.7 1412.9 580.6 1412.9 580.6 1417.3 581.4 1417.3 581.4 1424.7 582.3 1424.7 582.3 1424.0 583.1 1424.0 583.1 1424.0 583.9 1424.0 583.9 1410.6 584.8 1410.6 584.8 1421.8 585.6 1421.8 585.6 1417.3 586.5 1417.3 586.5 1424.7 587.3 1424.7 587.3 1417.3 588.1 1417.3 588.1 1404.0 589.0 1404.0 589.0 1424.7 589.8 1424.7 589.8 1421.8 590.7 1421.8 590.7 1410.6 591.5 1410.6 591.5 1399.5 592.3 1399.5 592.3 1415.1 593.2 1415.1 593.2 1421.8 594.0 1421.8 594.0 1424.7 594.8 1424.7 594.8 1424.7 595.7 1424.7 595.7 1424.0 596.5 1424.0 596.5 1417.3 597.4 1417.3 597.4 1392.9 598.2 1392.9 598.2 1388.4 599.0 1388.4 599.0 1412.9 599.9 1412.9 599.9 1404.0 600.7 1404.0 600.7 1424.0 601.6 1424.0 601.6 1419.5 602.4 1419.5 602.4 1424.0 603.2 1424.0 603.2 1419.5 604.1 1419.5 604.1 1424.0 604.9 1424.0 604.9 1408.4 605.8 1408.4 605.8 1395.1 606.6 1395.1 606.6 1404.0 607.4 1404.0 607.4 1410.6 608.3 1410.6 608.3 1406.2 609.1 1406.2 609.1 1419.5 609.9 1419.5 609.9 1415.1 610.8 1415.1 610.8 1415.1 611.6 1415.1 611.6 1424.7 612.5 1424.7 612.5 1421.8 613.3 1421.8 613.3 1421.8 614.1 1421.8 614.1 1424.0 615.0 1424.0 615.0 1417.3 615.8 1417.3 615.8 1419.5 616.7 1419.5 616.7 1412.9 617.5 1412.9 617.5 1412.9 618.3 1412.9 618.3 1408.4 619.2 1408.4 619.2 1424.0 620.0 1424.0 620.0 1415.1 620.9 1415.1 620.9 1421.8 621.7 1421.8 621.7 1424.7 622.5 1424.7 622.5 1424.7 623.4 1424.7 623.4 1419.5 624.2 1419.5 624.2 1424.7 625.1 1424.7 625.1 1421.8 625.9 1421.8 625.9 1424.7 626.7 1424.7 626.7 1417.3 627.6 1417.3 627.6 1412.9 628.4 1412.9 628.4 1399.5 629.2 1399.5 629.2 1410.6 630.1 1410.6 630.1 1410.6 630.9 1410.6 630.9 1424.0 631.8 1424.0 631.8 1421.8 632.6 1421.8 632.6 1417.3 633.4 1417.3 633.4 1424.7 634.3 1424.7 634.3 1417.3 635.1 1417.3 635.1 1410.6 636.0 1410.6 636.0 1419.5 636.8 1419.5 636.8 1421.8 637.6 1421.8 637.6 1410.6 638.5 1410.6 638.5 1404.0 639.3 1404.0 639.3 1410.6 640.2 1410.6 640.2 1424.7 641.0 1424.7 641.0 1412.9 641.8 1412.9 641.8 1408.4 642.7 1408.4 642.7 1410.6 643.5 1410.6 643.5 1412.9 644.3 1412.9 644.3 1424.0 645.2 1424.0 645.2 1424.0 646.0 1424.0 646.0 1424.7 646.9 1424.7 646.9 1424.0 647.7 1424.0 647.7 1415.1 648.5 1415.1 648.5 1424.7 649.4 1424.7 649.4 1424.7 650.2 1424.7 650.2 1412.9 651.1 1412.9 651.1 1421.8 651.9 1421.8 651.9 1412.9 652.7 1412.9 652.7 1421.8 653.6 1421.8 653.6 1424.7 654.4 1424.7 654.4 1415.1 655.3 1415.1 655.3 1408.4 656.1 1408.4 656.1 1412.9 656.9 1412.9 656.9 1417.3 657.8 1417.3 657.8 1410.6 658.6 1410.6 658.6 1424.7 659.5 1424.7 659.5 1424.7 660.3 1424.7 660.3 1412.9 661.1 1412.9 661.1 1412.9 662.0 1412.9 662.0 1408.4 662.8 1408.4 662.8 1424.7 663.6 1424.7 663.6 1419.5 664.5 1419.5 664.5 1417.3 665.3 1417.3 665.3 1419.5 666.2 1419.5 666.2 1421.8 667.0 1421.8 667.0 1406.2 667.8 1406.2 667.8 1406.2 668.7 1406.2 668.7 1417.3 669.5 1417.3 669.5 1424.7 670.4 1424.7 670.4 1424.7 671.2 1424.7 671.2 1424.7 672.0 1424.7 672.0 1424.7 672.9 1424.7 672.9 1424.7 673.7 1424.7 673.7 1419.5 674.6 1419.5 674.6 1415.1 675.4 1415.1 675.4 1424.7 676.2 1424.7 676.2 1424.7 677.1 1424.7 677.1 1412.9 677.9 1412.9 677.9 1424.0 678.7 1424.0 678.7 1424.7 679.6 1424.7 679.6 1417.3 680.4 1417.3 680.4 1424.7 681.3 1424.7 681.3 1424.7 682.1 1424.7 682.1 1419.5 682.9 1419.5 682.9 1421.8 683.8 1421.8 683.8 1412.9 684.6 1412.9 684.6 1419.5 685.5 1419.5 685.5 1412.9 686.3 1412.9 686.3 1419.5 687.1 1419.5 687.1 1419.5 688.0 1419.5 688.0 1417.3 688.8 1417.3 688.8 1408.4 689.7 1408.4 689.7 1412.9 690.5 1412.9 690.5 1412.9 691.3 1412.9 691.3 1401.8 692.2 1401.8 692.2 1412.9 693.0 1412.9 693.0 1417.3 693.8 1417.3 693.8 1424.7 694.7 1424.7 694.7 1424.7 695.5 1424.7 695.5 1424.7 696.4 1424.7 696.4 1415.1 697.2 1415.1 697.2 1417.3 698.0 1417.3 698.0 1412.9 698.9 1412.9 698.9 1401.8 699.7 1401.8 699.7 1408.4 700.6 1408.4 700.6 1410.6 701.4 1410.6 701.4 1419.5 702.2 1419.5 702.2 1419.5 703.1 1419.5 703.1 1404.0 703.9 1404.0 703.9 1412.9 704.8 1412.9 704.8 1417.3 705.6 1417.3 705.6 1424.7 706.4 1424.7 706.4 1412.9 707.3 1412.9 707.3 1404.0 708.1 1404.0 708.1 1408.4 709.0 1408.4 709.0 1410.6 709.8 1410.6 709.8 1421.8 710.6 1421.8 710.6 1424.7 711.5 1424.7 711.5 1424.7 712.3 1424.7 712.3 1424.7 713.1 1424.7 713.1 1424.7 714.0 1424.7 714.0 1419.5 714.8 1419.5 714.8 1417.3 715.7 1417.3 715.7 1419.5 716.5 1419.5 716.5 1417.3 717.3 1417.3 717.3 1408.4 718.2 1408.4 718.2 1417.3 719.0 1417.3 719.0 1417.3 719.9 1417.3 719.9 1410.6 720.7 1410.6 720.7 1424.0 721.5 1424.0 721.5 1417.3 722.4 1417.3 722.4 1404.0 723.2 1404.0 723.2 1404.0 724.1 1404.0 724.1 1406.2 724.9 1406.2 724.9 1395.1 725.7 1395.1 725.7 1408.4 726.6 1408.4 726.6 1408.4 727.4 1408.4 727.4 1410.6 728.2 1410.6 728.2 1424.0 729.1 1424.0 729.1 1412.9 729.9 1412.9 729.9 1417.3 730.8 1417.3 730.8 1415.1 731.6 1415.1 731.6 1397.3 732.4 1397.3 732.4 1401.8 733.3 1401.8 733.3 1421.8 734.1 1421.8 734.1 1421.8 735.0 1421.8 735.0 1415.1 735.8 1415.1 735.8 1410.6 736.6 1410.6 736.6 1421.8 737.5 1421.8 737.5 1421.8 738.3 1421.8 738.3 1419.5 739.2 1419.5 739.2 1421.8 740.0 1421.8 740.0 1417.3 740.8 1417.3 740.8 1406.2 741.7 1406.2 741.7 1412.9 742.5 1412.9 742.5 1408.4 743.4 1408.4 743.4 1415.1 744.2 1415.1 744.2 1410.6 745.0 1410.6 745.0 1417.3 745.9 1417.3 745.9 1417.3 746.7 1417.3 746.7 1417.3 747.5 1417.3 747.5 1417.3 748.4 1417.3 748.4 1406.2 749.2 1406.2 749.2 1410.6 750.1 1410.6 750.1 1401.8 750.9 1401.8 750.9 1406.2 751.7 1406.2 751.7 1419.5 752.6 1419.5 752.6 1424.0 753.4 1424.0" stroke="#00ffff" stroke-width="1.6" fill="none"/>
<path d="M339.0 1424.7 339.3 1424.7 339.7 1424.7 340.0 1424.6 340.4 1424.6 340.8 1424.5 341.1 1424.5 341.5 1424.4 341.9 1424.3 342.2 1424.3 342.6 1424.2 343.0 1424.1 343.3 1424.0 343.7 1424.0 344.0 1423.9 344.4 1423.8 344.8 1423.7 345.1 1423.6 345.5 1423.5 345.9 1423.4 346.2 1423.3 346.6 1423.2 347.0 1423.1 347.3 1423.0 347.7 1422.9 348.0 1422.8 348.4 1422.7 348.8 1422.6 349.1 1422.4 349.5 1422.3 349.9 1422.2 350.2 1422.1 350.6 1421.9 351.0 1421.8 351.3 1421.6 351.7 1421.5 352.0 1421.3 352.4 1421.2 352.8 1421.0 353.1 1420.9 353.5 1420.7 353.9 1420.5 354.2 1420.3 354.6 1420.2 355.0 1420.0 355.3 1419.8 355.7 1419.6 356.0 1419.4 356.4 1419.2 356.8 1419.0 357.1 1418.8 357.5 1418.6 357.9 1418.4 358.2 1418.1 358.6 1417.9 359.0 1417.7 359.3 1417.4 359.7 1417.2 360.1 1416.9 360.4 1416.7 360.8 1416.4 361.1 1416.1 361.5 1415.9 361.9 1415.6 362.2 1415.3 362.6 1415.0 363.0 1414.7 363.3 1414.4 363.7 1414.1 364.1 1413.8 364.4 1413.5 364.8 1413.2 365.1 1412.9 365.5 1412.5 365.9 1412.2 366.2 1411.8 366.6 1411.5 367.0 1411.1 367.3 1410.8 367.7 1410.4 368.1 1410.0 368.4 1409.6 368.8 1409.3 369.1 1408.9 369.5 1408.5 369.9 1408.0 370.2 1407.6 370.6 1407.2 371.0 1406.8 371.3 1406.3 371.7 1405.9 372.1 1405.4 372.4 1404.9 372.8 1404.4 373.1 1403.9 373.5 1403.4 373.9 1402.9 374.2 1402.4 374.6 1401.9 375.0 1401.3 375.3 1400.7 375.7 1400.1 376.1 1399.5 376.4 1398.9 376.8 1398.3 377.1 1397.6 377.5 1396.9 377.9 1396.2 378.2 1395.5 378.6 1394.8 379.0 1394.0 379.3 1393.2 379.7 1392.3 380.1 1391.4 380.4 1390.5 380.8 1389.5 381.2 1388.5 381.5 1387.5 381.9 1386.4 382.2 1385.3 382.6 1384.1 383.0 1382.8 383.3 1381.5 383.7 1380.1 384.1 1378.7 384.4 1377.2 384.8 1375.6 385.2 1373.9 385.5 1372.1 385.9 1370.3 386.2 1368.4 386.6 1366.3 387.0 1364.2 387.3 1362.0 387.7 1359.6 388.1 1357.2 388.4 1354.6 388.8 1351.9 389.2 1349.1 389.5 1346.1 389.9 1343.0 390.2 1339.8 390.6 1336.4 391.0 1332.9 391.3 1329.3 391.7 1325.5 392.1 1321.6 392.4 1317.5 392.8 1313.2 393.2 1308.9 393.5 1304.3 393.9 1299.6 394.2 1294.8 394.6 1289.8 395.0 1284.7 395.3 1279.4 395.7 1274.0 396.1 1268.4 396.4 1262.7 396.8 1256.9 397.2 1251.0 397.5 1245.0 397.9 1238.8 398.2 1232.6 398.6 1226.3 399.0 1219.9 399.3 1213.5 399.7 1207.0 400.1 1200.5 400.4 1193.9 400.8 1187.4 401.2 1180.8 401.5 1174.3 401.9 1167.8 402.2 1161.3 402.6 1154.9 403.0 1148.6 403.3 1142.4 403.7 1136.3 404.1 1130.3 404.4 1124.5 404.8 1118.9 405.2 1113.4 405.5 1108.1 405.9 1103.0 406.3 1098.2 406.6 1093.6 407.0 1089.3 407.3 1085.2 407.7 1081.4 408.1 1077.9 408.4 1074.7 408.8 1071.9 409.2 1069.3 409.5 1067.1 409.9 1065.2 410.3 1063.7 410.6 1062.6 411.0 1061.7 411.3 1061.3 411.7 1061.2 412.1 1061.5 412.4 1062.1 412.8 1063.1 413.2 1064.5 413.5 1066.2 413.9 1068.2 414.3 1070.6 414.6 1073.4 415.0 1076.4 415.3 1079.8 415.7 1083.4 416.1 1087.3 416.4 1091.6 416.8 1096.0 417.2 1100.8 417.5 1105.7 417.9 1110.9 418.3 1116.3 418.6 1121.9 419.0 1127.6 419.3 1133.5 419.7 1139.6 420.1 1145.7 420.4 1152.0 420.8 1158.4 421.2 1164.8 421.5 1171.3 421.9 1177.8 422.3 1184.3 422.6 1190.9 423.0 1197.5 423.3 1204.0 423.7 1210.5 424.1 1217.0 424.4 1223.4 424.8 1229.7 425.2 1236.0 425.5 1242.2 425.9 1248.2 426.3 1254.2 426.6 1260.1 427.0 1265.8 427.3 1271.4 427.7 1276.9 428.1 1282.2 428.4 1287.4 428.8 1292.5 429.2 1297.4 429.5 1302.2 429.9 1306.8 430.3 1311.2 430.6 1315.6 431.0 1319.7 431.4 1323.7 431.7 1327.6 432.1 1331.3 432.4 1334.9 432.8 1338.3 433.2 1341.6 433.5 1344.7 433.9 1347.7 434.3 1350.6 434.6 1353.3 435.0 1356.0 435.4 1358.5 435.7 1360.9 436.1 1363.2 436.4 1365.4 436.8 1367.4 437.2 1369.4 437.5 1371.3 437.9 1373.1 438.3 1374.8 438.6 1376.4 439.0 1378.0 439.4 1379.5 439.7 1380.9 440.1 1382.2 440.4 1383.5 440.8 1384.7 441.2 1385.9 441.5 1387.0 441.9 1388.1 442.3 1389.1 442.6 1390.1 443.0 1391.0 443.4 1391.9 443.7 1392.8 444.1 1393.6 444.4 1394.4 444.8 1395.2 445.2 1395.9 445.5 1396.6 445.9 1397.3 446.3 1398.0 446.6 1398.6 447.0 1399.3 447.4 1399.9 447.7 1400.5 448.1 1401.0 448.4 1401.6 448.8 1402.2 449.2 1402.7 449.5 1403.2 449.9 1403.7 450.3 1404.2 450.6 1404.7 451.0 1405.2 451.4 1405.6 451.7 1406.1 452.1 1406.6 452.5 1407.0 452.8 1407.4 453.2 1407.8 453.5 1408.3 453.9 1408.7 454.3 1409.1 454.6 1409.5 455.0 1409.9 455.4 1410.2 455.7 1410.6 456.1 1411.0 456.5 1411.3 456.8 1411.7 457.2 1412.0 457.5 1412.4 457.9 1412.7 458.3 1413.0 458.6 1413.4 459.0 1413.7 459.4 1414.0 459.7 1414.3 460.1 1414.6 460.5 1414.9 460.8 1415.2 461.2 1415.5 461.5 1415.8 461.9 1416.0 462.3 1416.3 462.6 1416.6 463.0 1416.8 463.4 1417.1 463.7 1417.3 464.1 1417.6 464.5 1417.8 464.8 1418.0 465.2 1418.3 465.5 1418.5 465.9 1418.7 466.3 1418.9 466.6 1419.1 467.0 1419.3 467.4 1419.5 467.7 1419.7 468.1 1419.9 468.5 1420.1 468.8 1420.3 469.2 1420.4 469.5 1420.6 469.9 1420.8 470.3 1421.0 470.6 1421.1 471.0 1421.3 471.4 1421.4 471.7 1421.6 472.1 1421.7 472.5 1421.9 472.8 1422.0 473.2 1422.1 473.5 1422.3 473.9 1422.4 474.3 1422.5 474.6 1422.6 475.0 1422.7 475.4 1422.9 475.7 1423.0 476.1 1423.1 476.5 1423.2 476.8 1423.3 477.2 1423.4 477.6 1423.5 477.9 1423.6 478.3 1423.7 478.6 1423.8 479.0 1423.8 479.4 1423.9 479.7 1424.0 480.1 1424.1 480.5 1424.2 480.8 1424.2 481.2 1424.3 481.6 1424.4 481.9 1424.4 482.3 1424.5 482.6 1424.6 483.0 1424.6 483.4 1424.7 483.7 1424.7 484.1 1424.7" stroke="#ff0000" stroke-width="2.6" fill="none"/>
<path d="M117.5 1424.7 118.7 1424.7 120.0 1424.7 121.3 1424.7 122.6 1424.7 123.8 1424.7 125.1 1424.7 126.4 1424.7 127.7 1424.7 128.9 1424.7 130.2 1424.7 131.5 1424.7 132.7 1424.7 134.0 1424.7 135.3 1424.7 136.6 1424.7 137.8 1424.7 139.1 1424.7 140.4 1424.7 141.7 1424.7 142.9 1424.7 144.2 1424.7 145.5 1424.7 146.8 1424.7 148.0 1424.7 149.3 1424.7 150.6 1424.7 151.9 1424.7 153.1 1424.7 154.4 1424.7 155.7 1424.7 157.0 1424.7 158.2 1424.7 159.5 1424.7 160.8 1424.7 162.1 1424.7 163.3 1424.7 164.6 1424.7 165.9 1424.7 167.2 1424.7 168.4 1424.7 169.7 1424.7 171.0 1424.7 172.3 1424.7 173.5 1424.7 174.8 1424.7 176.1 1424.7 177.4 1424.7 178.6 1424.7 179.9 1424.7 181.2 1424.7 182.5 1424.7 183.7 1424.7 185.0 1424.7 186.3 1424.7 187.6 1424.7 188.8 1424.7 190.1 1424.7 191.4 1424.7 192.6 1424.7 193.9 1424.7 195.2 1424.7 196.5 1424.7 197.7 1424.7 199.0 1424.7 200.3 1424.7 201.6 1424.7 202.8 1424.7 204.1 1424.7 205.4 1424.7 206.7 1424.7 207.9 1424.7 209.2 1424.7 210.5 1424.7 211.8 1424.7 213.0 1424.7 214.3 1424.7 215.6 1424.7 216.9 1424.7 218.1 1424.7 219.4 1424.7 220.7 1424.7 222.0 1424.7 223.2 1424.7 224.5 1424.7 225.8 1424.7 227.1 1424.7 228.3 1424.7 229.6 1424.7 230.9 1424.7 232.2 1424.7 233.4 1424.7 234.7 1424.7 236.0 1424.7 237.3 1424.7 238.5 1424.7 239.8 1424.7 241.1 1424.7 242.4 1424.7 243.6 1424.7 244.9 1424.7 246.2 1424.7 247.5 1424.7 248.7 1424.7 250.0 1424.7 251.3 1424.7 252.6 1424.7 253.8 1424.7 255.1 1424.7 256.4 1424.7 257.6 1424.7 258.9 1424.7 260.2 1424.7 261.5 1424.7 262.7 1424.7 264.0 1424.7 265.3 1424.7 266.6 1424.7 267.8 1424.7 269.1 1424.7 270.4 1424.7 271.7 1424.7 272.9 1424.7 274.2 1424.7 275.5 1424.7 276.8 1424.7 278.0 1424.7 279.3 1424.7 280.6 1424.7 281.9 1424.7 283.1 1424.7 284.4 1424.7 285.7 1424.7 287.0 1424.7 288.2 1424.7 289.5 1424.7 290.8 1424.7 292.1 1424.7 293.3 1424.7 294.6 1424.7 295.9 1424.7 297.2 1424.7 298.4 1424.7 299.7 1424.7 301.0 1424.7 302.3 1424.7 303.5 1424.7 304.8 1424.7 306.1 1424.7 307.4 1424.7 308.6 1424.7 309.9 1424.7 311.2 1424.7 312.5 1424.7 313.7 1424.7 315.0 1424.7 316.3 1424.7 317.5 1424.7 318.8 1424.7 320.1 1424.7 321.4 1424.7 322.6 1424.7 323.9 1424.7 325.2 1424.7 326.5 1424.7 327.7 1424.7 329.0 1424.7 330.3 1424.7 331.6 1424.7 332.8 1424.7 334.1 1424.7 335.4 1424.7 336.7 1424.7 337.9 1424.7 339.2 1424.7 340.5 1424.7 341.8 1424.7 343.0 1424.7 344.3 1424.7 345.6 1424.7 346.9 1424.7 348.1 1424.7 349.4 1424.7 350.7 1424.7 352.0 1424.7 353.2 1424.7 354.5 1424.7 355.8 1424.7 357.1 1424.7 358.3 1424.7 359.6 1424.7 360.9 1424.7 362.2 1424.7 363.4 1424.7 364.7 1424.7 366.0 1424.7 367.3 1424.7 368.5 1424.7 369.8 1424.7 371.1 1424.7 372.4 1424.7 373.6 1424.7 374.9 1424.7 376.2 1424.7 377.4 1424.4 378.7 1423.6 380.0 1422.5 381.3 1420.9 382.5 1418.8 383.8 1416.0 385.1 1412.4 386.4 1407.8 387.6 1402.0 388.9 1394.8 390.2 1386.0 391.5 1375.5 392.7 1363.1 394.0 1348.8 395.3 1332.6 396.6 1314.7 397.8 1295.2 399.1 1274.4 400.4 1252.9 401.7 1231.1 402.9 1209.7 404.2 1189.3 405.5 1170.7 406.8 1154.5 408.0 1141.4 409.3 1131.9 410.6 1126.3 411.9 1125.0 413.1 1128.0 414.4 1135.1 415.7 1146.1 417.0 1160.5 418.2 1177.7 419.5 1197.1 420.8 1218.0 422.1 1239.6 423.3 1261.4 424.6 1282.7 425.9 1303.0 427.2 1321.9 428.4 1339.2 429.7 1354.6 431.0 1368.2 432.3 1379.8 433.5 1389.6 434.8 1397.8 436.1 1404.4 437.3 1409.8 438.6 1414.0 439.9 1417.2 441.2 1419.7 442.4 1421.6 443.7 1422.9 445.0 1423.9 446.3 1424.7 447.5 1424.7 448.8 1424.7 450.1 1424.7 451.4 1424.7 452.6 1424.7 453.9 1424.7 455.2 1424.7 456.5 1424.7 457.7 1424.7 459.0 1424.7 460.3 1424.7 461.6 1424.7 462.8 1424.7 464.1 1424.7 465.4 1424.7 466.7 1424.7 467.9 1424.7 469.2 1424.7 470.5 1424.7 471.8 1424.7 473.0 1424.7 474.3 1424.7 475.6 1424.7 476.9 1424.7 478.1 1424.7 479.4 1424.7 480.7 1424.7 482.0 1424.7 483.2 1424.7 484.5 1424.7 485.8 1424.7 487.1 1424.7 488.3 1424.7 489.6 1424.7 490.9 1424.7 492.2 1424.7 493.4 1424.7 494.7 1424.7 496.0 1424.7 497.2 1424.7 498.5 1424.7 499.8 1424.7 501.1 1424.7 502.3 1424.7 503.6 1424.7 504.9 1424.7 506.2 1424.7 507.4 1424.7 508.7 1424.7 510.0 1424.7 511.3 1424.7 512.5 1424.7 513.8 1424.7 515.1 1424.7 516.4 1424.7 517.6 1424.7 518.9 1424.7 520.2 1424.7 521.5 1424.7 522.7 1424.7 524.0 1424.7 525.3 1424.7 526.6 1424.7 527.8 1424.7 529.1 1424.7 530.4 1424.7 531.7 1424.7 532.9 1424.7 534.2 1424.7 535.5 1424.7 536.8 1424.7 538.0 1424.7 539.3 1424.7 540.6 1424.7 541.9 1424.7 543.1 1424.7 544.4 1424.7 545.7 1424.7 547.0 1424.7 548.2 1424.7 549.5 1424.7 550.8 1424.7 552.1 1424.7 553.3 1424.7 554.6 1424.7 555.9 1424.7 557.1 1424.7 558.4 1424.7 559.7 1424.7 561.0 1424.7 562.2 1424.7 563.5 1424.7 564.8 1424.7 566.1 1424.7 567.3 1424.7 568.6 1424.7 569.9 1424.7 571.2 1424.7 572.4 1424.7 573.7 1424.7 575.0 1424.7 576.3 1424.7 577.5 1424.7 578.8 1424.7 580.1 1424.7 581.4 1424.7 582.6 1424.7 583.9 1424.7 585.2 1424.7 586.5 1424.7 587.7 1424.7 589.0 1424.7 590.3 1424.7 591.6 1424.7 592.8 1424.7 594.1 1424.7 595.4 1424.7 596.7 1424.7 597.9 1424.7 599.2 1424.7 600.5 1424.7 601.8 1424.7 603.0 1424.7 604.3 1424.7 605.6 1424.7 606.9 1424.7 608.1 1424.7 609.4 1424.7 610.7 1424.7 612.0 1424.7 613.2 1424.7 614.5 1424.7 615.8 1424.7 617.0 1424.7 618.3 1424.7 619.6 1424.7 620.9 1424.7 622.1 1424.7 623.4 1424.7 624.7 1424.7 626.0 1424.7 627.2 1424.7 628.5 1424.7 629.8 1424.7 631.1 1424.7 632.3 1424.7 633.6 1424.7 634.9 1424.7 636.2 1424.7 637.4 1424.7 638.7 1424.7 640.0 1424.7 641.3 1424.7 642.5 1424.7 643.8 1424.7 645.1 1424.7 646.4 1424.7 647.6 1424.7 648.9 1424.7 650.2 1424.7 651.5 1424.7 652.7 1424.7 654.0 1424.7 655.3 1424.7 656.6 1424.7 657.8 1424.7 659.1 1424.7 660.4 1424.7 661.7 1424.7 662.9 1424.7 664.2 1424.7 665.5 1424.7 666.8 1424.7 668.0 1424.7 669.3 1424.7 670.6 1424.7 671.9 1424.7 673.1 1424.7 674.4 1424.7 675.7 1424.7 676.9 1424.7 678.2 1424.7 679.5 1424.7 680.8 1424.7 682.0 1424.7 683.3 1424.7 684.6 1424.7 685.9 1424.7 687.1 1424.7 688.4 1424.7 689.7 1424.7 691.0 1424.7 692.2 1424.7 693.5 1424.7 694.8 1424.7 696.1 1424.7 697.3 1424.7 698.6 1424.7 699.9 1424.7 701.2 1424.7 702.4 1424.7 703.7 1424.7 705.0 1424.7 706.3 1424.7 707.5 1424.7 708.8 1424.7 710.1 1424.7 711.4 1424.7 712.6 1424.7 713.9 1424.7 715.2 1424.7 716.5 1424.7 717.7 1424.7 719.0 1424.7 720.3 1424.7 721.6 1424.7 722.8 1424.7 724.1 1424.7 725.4 1424.7 726.7 1424.7 727.9 1424.7 729.2 1424.7 730.5 1424.7 731.8 1424.7 733.0 1424.7 734.3 1424.7 735.6 1424.7 736.8 1424.7 738.1 1424.7 739.4 1424.7 740.7 1424.7 741.9 1424.7 743.2 1424.7 744.5 1424.7 745.8 1424.7 747.0 1424.7 748.3 1424.7 749.6 1424.7 750.9 1424.7 752.1 1424.7 753.4 1424.7" stroke="#00cc00" stroke-width="2.4" fill="none" stroke-dasharray="6 5"/>
</svg>
</svg>
<script>
(function(){var P=["#273da8", "#1751cb", "#1063dc", "#1271d9", "#1480d6", "#0e8ed1", "#099dcc", "#0da7c3", "#1eafb3", "#2eb7a4", "#52ba91", "#74bd80", "#96be71", "#b4bd65", "#d1bb59", "#e3c04a", "#f5c63a", "#fdd32a", "#fbe81c", "#f9fb0e"];var H="kiiiaakejfjklkaajkljhhkghhkkkfkejcijiaaaikjhkllkfkikkkkhihaaicmkjamjiueakaaaahfjjkkjkjukllkjklkiaajaaajjmjikkkjjkekaaakkngjhkikjdhaaafjhjkkikkjkjkjcihaakakkjkiiikkklklkljmkjainjkkelaaajijkkkkaajljalkajkjknjllklkkaajjlijajgnlhekoljklkllikkglnikkllljljaakjiajhigjijmjkjklkjkjhkaaajiikjjaallhkaiiojijjikjkkahjjjkijkghiikaaakjaaklekkijjkkmjjjfaklaakkkkjjkulkjkfaeajjjjekijdllljjkjklaakijiciidhjjkjkllahahlniiaaailjiijkkgjjlkklkjjanlekkklkaaajklaajlkjkaekkjkkjiaajljkjlnjikjihaajjiiijiaajljkjklkkkfjlkkaalllllkaaajjkjjkakjihaakjjjllkjhiaaahihkkjmaajjjjjijfaaaaklllaakkaakjkehkjhkkhfiikjjukijkjikilklijjkkkknlaamajikjikfaaakjkkmgjjjljjmjlkaakiihaaaihkignjaaijjkijkhkkiajhjklkknkklkklkkjilaaacaakjkkmljjkjknjijilkhknjjjklikijkkklladjiijmjhbjhaajjjaaihkklkkkjlklklalaajlkkkhjjihjjkaaajghjkkkjjfljakkjfkkllkaaamaabiaaaljdmkkkleklkfaaagiejkimjkjkkjnjhknjiikkjkmkkkkijkgijliaagkndhjjkjlkkjkjkjmjlgklaaaaaijaaajijiidaaijkaajfaihiikjaakllnkjllaaaakjaaijllkkklkkkkiadagilljlkaakjkjhaaajhfkikhjijaaaakkiiklikkfajeaaklkkjliaalllljkkkkkkjaahaakkjhjfkkhijkaaifihcakfkkjkllkjkjfjilkijkjkllklkjjaaaaaaigihijkdijjhjkkklaaijkjgjjlkjkkljlkkkkihkehkiakkkkdkkkaalhjkkllkkkijkjjhljgleikjjigjkkkjjifiijijkklnflllklkkkjjaajkkjlklkkgifiikliaaaiikdaaknjjgjljaaamkljjijjjkikkcklljgjkkkkkjklljaaaallglkkjjjjjkkkhkjlgaaaijhajihkkiaaggikcjkikaajaaaagllllkkaaukljljlaajjkjaajjjklhjiikjljjiklikjijkkjkkjjkjgkjihjhgdjlkklkkijbaajkijkkjjjjkjkdklahjkkgjikkkdikidjgkieijjjkjjkjaakkflkkgkhjjkihijkaakkkkklkjkiickjjeaaalkdkjihjiikggjjjkjjgkhjaajaaklklhkkkklljklkjmkkfljjjaainejakjjhkaaakkklkjlkkiijjbaihikjkjjhhjjaejilkkkmaaakchfkkiijeijijnjijkmaakkaagjaakfhijkgaaaahkhhgaakjjkklaaaaklaahjmjjkngjjkkikjahaaiijijjiikijkeigikhhjhkkaaklkklkjlmfljmkjjkikmljilkkkkjkljkkijjifkjfkjimlljhkajhaaajigaujejeikjaaakjkaagkkaakljjkjkkiljkjaiaaahhhkijkjaaakljaaggkjaakjaaihiakjenijjgjhaalkhalglkkkklaaiaiiiljliiijkmjaghkkkaaekinkaakgkgjjlkjihijkklkklklaiaklijkjhkhkhkljkkjjdikjijjjjaajjjhaahiijgakhaakcikkklkkmjijgihihjaakiklkaajkckaakkjgaafijjijhaaahhjigkijijkkjaaaaaajkaakjoikllkigkkkifnejhhijkhaaaajiaiaalkkkjjilkkkkkjijhikaaandkljehjamgkjlkelkkllaakjkkaaajjhjjikkjkfkjgkkjkkafkiijjkkaajkkaajjijijmmmakkkjilkjlkkjijihghdgijkjaaaaalaajkjkjkihfkijdmhlfihilghclkaaaljkiilehakhaajaalljllaijjkmhhjdaaaajjkhkjikkhhjjjikhjkkauakjihjhkkaaaaaajlkjmgilgijieeikffiahakhjjkjigkkjgkkkaaahjijijkdkjkajjjjfimkkkjgkkkkkljkjjhifgkkhickdjjkljjknkmaafkjaaadjhjkkkiaagijukkjjhjkjaakijjkjjadaajjkuhjijijkkjkklmkihjjcakiljijjmdimkjaanllkllllkjkhjnnjiaaijjljllkljaaamnkifjkijijikjakijjhikjignkjiaaaejjikugkkkiklikkhaajkjaajjhijkjadaggiagakjjmjjljjkjkkjijiikakkiaggajhjaafkkigmkkjkkjjkjghkkihjjjkkkjlljkikdkihfijhdjkjkkkikjlclkdhaaajkmkkjlllaagljckjjfkjiajjjaghigjkilllaaaaakajhkiljkaaalkjkkeklnlkjaaajiijfkjjkjaaaijjkaaaajejiiiijgiinukjjhikjaajejjmjijjkijjijaaljkhllkkkljgaaaalkigaalaiaakaaaaiauakjillllklaajjjkkdgaaaakikjhaajkiajaaijhlhmlkiaajkjkdafhjkjlkkljaaajgjhaajkjliiihjijmjkjkjnkkajkfhjnikhjihjlkimcjaaaaugjfijjkijikkliujehjjkjlnjkijilklkmlllllekikjkkikafakkkkhkiklaakgkjkjnjkjkaajkikijkikijhjjjajhkkifaakhflaaajkekkkjigjjlkjllaaakhefikiefakaajfllkkllhiegjeijkeikjgijnkaajjhdfijjilkikkkkjillaaaaejhlikjaajndajiniijijljijjjjihaadikjjiniikmjgaaafhjkaaaaaagghhiaajhkaajikaallikaaikdjjjfjkkkgajlfllklkkjkkjhiiakekkkkkeljljjiaaakkkagajkikkkkjmiaakkjaakokijjkkihcdgkijkjaajicikjfjejkkmckkljighdifikignfijjkikjlknnjgkklkkkjlfmjjikjijijaaaaaaajkjkkkkkedhjidkajlkjjkkjfjnlhjghkkiikkikkjhjiaajjaaakfiikkkijiihhjjjkkkajjaaaaaaalajkiihiljkkjjkihjjjjkkkaagjjlllfaallkjafkhfndjijjlilijkikjkkjenjhjkklllikkakkiaaaaaaaajkkkjkdnhjghjkkaaaakjlkjljdkflkkkgjkfiiajiijijkaakkkiiknkjkmljaakkklkilalalkkmgkmgkijjaijjaljjjaamaiijjjikjkkkiijaaaaajhgiajjijjhaajhjikfijiajhaaaaikikjaaaahhkgkjljijjeahhkaamkdkkklljkljekgkjjifjaajkejkkklaalkkhikkijjhefdjajaadjijkkjkkfjkkdhakjejkjkiaaefaakifkkahaajjiikijddjklgfjkknaajlkkljjfjagjhcaahhiaijghkknlklllmlkljjjlljdlihjfgdojhgaaaaaaaaaeaakiijijkjaajijaikllkkjkjjiifijikhjjhjmaaakkkjaajhjijhjhijijiahunijejjiakjhahgikjjacgkoiaaaaaakjkjjjkjjkjjikaekkjkaaikighnaaafjgjaajkkikklijkklkjllilhjkkaaakgfbiijkklkkgkjjjaigjkjikkjknkkkklkkkkjljjhkihiiilffhiifdikiiijlkllljkkjklkjaaaaiiihkijhaakaajjjhhgfldaaahajghaiiaajnjjikjkkhjjjaaaajghkjhaaaajiilihkefjkaaaaaiikhgdimaaakjajimjaaakiijejaakkkljkljlljkkkjdkklaaaaaakjjjkhicjijigfmaaajgahjjmikjjjklkkklklkgkfjkjdkaaljahijgijhkikkkkijajkkjkikjjagunaaaaajuijekjkdabehikmjjaaklkllllakkjkjifikijjkhehiifkifkjkjikkjjjkjjjljcafgkgijekkjigkmkjkkjjjijejeehifhaijijiaiijjjihihejjhkjhdjeaadnjhhjdjjjmjdeijjklkkljlkknjkkjjkjllkjjaakjjdhijikjjiaaaagjafkaaaaajgkjlhuaakkkkjkkljilinijkkkkkkgmjbkjihkjhjjaakikijhkjjjhikjkkjjjihiamkaaajkjkaakllkaallkkkjjaiaalkjjijkkjknijmjfukdinkkkgjkjjadidiinjhijfaaaaghjjimaiaagkkjaajihfjejiijiaajjjiaaaaaaakjaajjkkjknkaajheuaaafiijiiaajjljllaakgkjkkjjjcjikikhlimidaaafikjfkhiafiikkhcknkkklkklaaaaijkijhkjikahalajjkjijhikhjikijuilifhkgaajaaaaajkjaaaaakkaahaaknkljkkaaajlaakgjkjjjjjjijijaknggkaaaheghkkaaajnjggikkjjhljaajjkdkklaaaakhkkjoakahjjidjjkllaahkkmhjiiaaaaajjkjhdjhiaakhjckkijgigbijjkkaaaaaaakkkgjjkikjimkijkjfaafjigkigjjjiciikjahdaakiklkjillgaahjflkjiifkdndjkjijaaikailjkdmlikjjkdaaaaikgkiljkliaejaaaakbjifjiljiaajknkknjklkkkiljjgjgaagnkjaaaajhhkkjkimaijkikijkkgikkjjhjhkhhjnhlkaaidkkgikjdkajjkgkkjiniekjaaaighjkfujhkjjjkhjglhjjhijhidjikkjlkkjlljkkkjlkjkljhhhijjkfjiaajjkjeijkkdjaafaaejkdjnkljjaalikjkjjcjifkkijjiaalkidgiagaaaaekljjkkjfiijgikjglfiihhjaaaijejhnkmaaallkkjcklijklljiaamkjijiihekkikfaaafjhgaaaakiaajehkikaakjkkkaaaaaaaaaaaklkkojkhfiikkkjlikjikkiikkhhjhjikaakikjjcmkljjijigjijjhhlkjkjhkjkklaalkkjaaihjjhkdkjjijfglijjkljjgihnijiiaajgihailkaajikjjljjkaafaanmlcjjnhjkidijjihjjjkiijkhhjkhhjnhmghaahjlkijkjkkaaaljlklaakmjkkkkijkaakkkkgmjkaakjikigakkjijekihkkkgkkaahjkaljjjeikaaajjjkaajllklkihhiijaaaajdjjihjkjhijaaajfbjjkjkikkjeikjikikkljjaikkikjkekaalhaijjjfaiciijjjkjaaaaakkjiljjjaaafikkfkijkkkkkkjkajjijkiafhkkiijjaankciigaaaaaagkkagkiaaakjdffjjhaiigfajjjkdjmjifjikklklaakjjkjjaaehklkjfaajjfaikjiljijkaalaijjihijkkkjkklhkghjkkkjfkjgjklillaakaakilljihfkkknjeiifhihaahiiahkjjkajkjkkjjkjekjkkjnldkjiljaaljaaiklkigaaikhhajkilkaajklaakdkjdiijijhkjaakkkkkkhkikkkkiiaaagkjkkkkjaakjjgjaaiuijjiijgkkijikhcikijjjikhfikkjijiilkjfklkaakjaakhkkjkkjiikaagiikijkkkkkiiiaahkjagijhiiiifmfmigljaajdkjfjdkeiaaalfjljkkijkfjjkjijkkkjilmekjgigiijifhjkkkkaalnkkjkfjikaaajfjjjiaaaajkkkaaakgaaaaiaajhijiikkikllkjikajaikihgimjihjakkkjkjkkiikgihijaaaaakkkkkaadfggjjjlgkjhkkjjhijjaaaajchejmjlkkkkkjkijjejjjjlkjjiaaikjklkijaajkkkaaaaaaaakjciahijikaaaaikjaekghkhikikiijaaijhailaakkjkakjkkklkkkkaakkkijaajjkhaaeljaaljljkkjljkgjjnjjkhjhfkjjkaajaajkkkkkjikjjigklhgkjjhkjfaakkjjjjkkikjggihkkkjlaaakjkaakaaakkijjkkjjkaglkiiknhjjkjaijlklkjjkaijikjijekjikmkijuhikjkhjlajkjlkkjekkkkkhhihjjmaaijkkjjjkkjgkhbekiahfcnkkkjfjiekikihhigiiikhhjnnjjnjlllcaakkijkjjaamgckjjleijgaajjkkjcljaaakkkljkhhkjjikabjijjgijfhkaailijbkjkjjkkkjkaajkkhkaakkljkkkkaajaaaihiikklakkaaahikjkkaiiijjnkkkjlgjigjkkjijjjkaaaaaaaifaaafjiiaajjaaafjjkigkiikijmkjgillkidgikgaaakaljjkjilkjjkkjaaknjaaijahggehjkiknikcaaakmikhigkgijiiikkaaahmilllgjjjnkjjgaaijihkihjjhjjjhlklekjjkhaaakjikhakajjhjaaamdajhkkjkfjljidhijjjilmakigmaaakaajihkklgkjklgkkhkilgkkjlklkjjjiaaakjjhkejljkkhjnkjajkjjhlhjjkjaaaaekghjjkeidjghghaaakjjajaajkihjkjikljgaajjjkjjkjjkikjaaaajaahikkchjgaaaeijejjkkjaaaajaaakjjjkaaklliklkmjjjjdaijjhkikjjhhhekjjimikkljjljaakiijknjjkjhhgkhjaaijaakigkjiijhjkhjjjikilllaimklakaakkjgkjjaikjjjjkkjmjkjkkjkjjkiehjijikklljkkkljkkijaaajaahlkljjjamajhhkijhhjijaaiijkdlkfaanjiukdjjihijkjlklaaaajnkkaaaaaakaakaakiaahigmiaajiigijjjikijjiaaaaahjdikiljjjlkaaaaaakkeiljlcahjjidgjjjijikaafkkjjiinaihjijkhnjijjijaajgniaajjkjikaaakhkikjkllkaajllljgkfiklkjjjikkjaahkjaaaaklkllhlhkkkijkjjjjkkkhkkkjkkkkaacjkaallkhiejiaaahkuaakehfkijjjijiijiajhhjjgaakjjjjljkkjklkaajilkkkjjjimeidkjjajjkaahmjhgjjaajjijiikaaiiaahhkikahlgiikglaajkkkmijhiaakkiaalkkjklkjljkljjjjjkjljkikjjkjikiljaaijgaijaajikjaaaakklaakjkhkjilijjjmkjjkkijjikjkhjiaahjiifkjihijkkaaajhfekjkkjkkkjiikifihkllgkkjalagjiijjiaafhkjkaajhgahejfkjihieikjkjgjaamaaaaajjhicijaaakimijikgihhhaajjigkiuhhjkkijjhhfegeihjdjiijiakkjjkjkjiikilkkkljaakifkklljkilkkkkikjjaaajikljjijckjjjaaaiahijjjkjjkjfilkjkljjffjljkiaaaaaaakmkkkjjmhhjhggjjjjkkijmkkmjkjjkkjaaaajaaaaaaaaaamhaaaklkkijjjaauajjhjjikkjijiijjhaaajihaagjaaaailkaaajjijecaakadicaajifjckejiaajfgjhkeaaaahkkdlljkhijihkdiaijjkaaaaaijkkjkjillkjkijifiikaakkilkjkjnjkiggiiijkkhfjkjhdkjljikjkinhaaigikijkjiaaajllkmaaiijljkjjjkjjjnljjkghkkkikhikkjjckkjlikjhikjjijjfjjlkjeokdfiijjkgoikhkgjjiaaaaaiiikjijmudkjmikhiaajfaikighfhjjfhikjkljaajklkaaaijmjjajjjkkjimkjmkjjkhkiijjjjiamkljiljeeihjkjigaaikjkkjiikjijkkihlkjkkkaaijniiiicljhjiaaaifjjkfiniihekklhaajiifkaaliikijljkkjkljlkdkjkhaaajkkjjkjkkaajciaajaakjikklkkkkkaaaaigifjiiijkkigikkiigkjkkigaaakaaaaaaffaaajfajkhgkikknaaajgkjangcjjiamkiiakjjklajaajkkjijjjhjiknjidjmkjakiklhaajkjjaaaaiijhaaaafjgjkajiajjhamjkjglmkkikjjkjjiilkkjijkkajaaajjjaihnaaahkakokffljjfkhkikaaljkikfljklkllljjkjkjkjilkkkjlidaaajikkkjicaihkeljjkaajkkkkkaaakkegifjkjjjfhlijkkikkaagiaakkgjjkfiaaaaaahngjjjijkclhkgijiaafhajjjhjmmijagkliugijaaaaaiikffaaafkkiikjhjihkkkkjjjjaaahnjijffhkjnjkkjjkfikkaaaniklmkkjikkaalkkiiikjjaaajfikaaaalkkhgfkklmlkkkkkhkjkeknmklljkkkjaaaaalkkjjikkikikjjkjiiikaijjjjkillekklkaaigljikjjhhkihdhdkjjhikjnkaaajjaaalkjiggaaaiaafjfggjijikkiijkjaaaaaadhhggaaekhfjukillljkkjjkmgaajjghjkuikaajiagkjikhjjjjjkkjijjjlejijkiiikjjjjjkdjaiikkliklaajfkijjlkklaakjiiikmiegkijlkljkaafaalkikkkjlaaaljjkaahkkaaljklaaahjjljgilaaaaaijjjjbuaajjmkaaakkkjkjikkkkjhhaakdaakjaaihjiaaajkjikjjimkimniaaaaihgikjfijjjgkjjjjjaiijhaaaaigkhaaakaakkjkkdgkhkjkkufiljkjaaamjlkaakkekiaauaknmakkjujkeiaakjiaahujjjkljkcafnlklomlkkaakkfjjkjfjiiliaaajlkglemaaaejilkklkklkjjkjjaginklaajlklfglaallejijkkjalaakaaaiijjhkmaaajjujklkjjkjkkjiinhhfijjjjkjfaajekjljilfigkaaaaajiaadaaakikaajeiaaakhfkkiilcjgjeikaaafihglkualkikkkkkjjkhjgkkkkmjjkagalihekaaikjkaahakaaminiljjiiajkaahfafiaaahjaalnilaaaaajkiiaaighhiinjjkkhjjkklkikjihhklkkkjlkknkjhkjkkmkkkklkclljgkijkhigeiaaaaaaaaaaaajhkijaaaklkkkkikjjkjemjihmalakcaigijlikklbkkjkjkjlaakkljaadjhhiikilafghjkkkjlkikajihjjjjkjaaajkkkkljjkkjjkiaaahadjkgkkkkjkjjifjniiikjfjcjkhfklhknhkkkjkiilkikiijijjkfcjkaljaagjjjklijaallikkkkahkikkkhkljklkkkkijmkkkkjjejiikjknkklkklkllkkklkliijijjkmjkklkjaaikhhaakhdkkljaaigkaadkkaahigahjjjljjijjiijkkikkjekjjjjjjkaakkjjkihkijkifkgklkjigkaiojigjhjaaajaaaekkkkjklkdaaaikjeiijjkigkbaiihjjljkadigiahokkkhkkkjemkkkkhiaalikaaukjihhjkgjhhlhkiljkjjjjjaiikikkkjjjjkkgkjukjkiaeihkkkaijkkjljfkkjkkkmkjjiljaajnjkjamkkjkdijjjihjnkkjjjkkialikjjkjkijkcijgiaalijikjjnklikgigkjkjjlklkijkaaaaalhjaaajimnjkjjkkjjijkkikhkkjjckikknklllkkckfhiauaijljhkkhmijkmhjkjifggajkjiaajkjikkjlkahkjkjklkkujkjialaajkkhfikhmjjljkfaakjkkjhikkaaagjklkhgimkjkkjmfjkkgkkkjjjkkkklkkjaaaaijkkhkjjjjkjajidmkkaaaakkkkkljlkkcjkjglaafkiheiikihhiijejjiilkkkjaikehiniikkljkkjljijjjkejikkkkkkkklkaaijjjkajkkikaaakhaaklaafafkkjkkjkkknjjkjgkkkkkaaaaahaaiimikljkkjklhkjkkklaaaaijkjjjjjkkjghghlikgkkkijhmkkiaaijdlkfkkjhjkjkkjkmnieckkikknimjllkkjmlllmjilkjkkjkkkkgkjjjjkkkjkejlildgjlkklljaaakkkkgejiaaaijaaffahhgilklkjkaakjhiffcgjkkkklljknkkkikkjhkaajkkkknljhkjaaajkjikiihjaaaijikdgkkefglekkkkjkaaakjeadjkjjaigihijfgkjjcjafcjljjkkjhkdlijiiekjkiijhjhkgkkgljekkdijnafjkkjkkjjkikkjjkkkjjjclklljkjikjgkjjklfakkkiiaajkgkjuekhjljjaaaaagljkjklkkjkjjkjkkjjjkgmjijhjjgkiajjjijjjkjkigaaaaaiejaaijlkklkknddmdaaahmjaaaklllkkaaijmjdackmjkkjlhjdkkjijjiikkaaikkjlllllhaaaaajkmjlkmdakhkkahkikkjaaakmlkhkkikjjaaejjaagigjhknhiiklijkkkkjjabglifeijkkjjlllkljlekojkkkjlkhiiikkjhkllnjkhaaaakkjkjklkllaaaaljkahiklkjdijkgklkkmkiilhjjaaajaaijkiiiaaaakalkkcjekkjhinjkkkkkjlkaallaalakljliklkkljaiiigljiljhihijjjaiklkljjighhlkkklaaigklaaikjjkklkjaaaaaaikjginjijhkkkjmklllkaajighjkijhfjhggjhgaaaikjkmjjkkijkjkhakklklllkkkkkkkklkjljjkmikjkjllkkiijjikmkhjklihfljljhaakkkjkljaaaaaaaaaaaaakjkkkaaakjkjjigjgkkhfkkfaafjkjklfkjikijikdjkljjjaamlfakiaaaiaaajnaachfcjjinakkkjkaalljjgjjjkjijjkaaaamjkiejiklajijhaaaklckkkukiifhcaaakjkkkjijaaaajkgaaihhiijhjcjmkhjuaaalklekjjkjhklklknkmlkljkkklllljkkdlklkjkjjkmkkkkkkjikijjaaajjkjkkgaaaaaaaklklljkjjkkjnjlkkkkjkkkdkhjiiiiamaaiiiiikkjajaakjkaaaechkkjjkljkkjlaakjjiiknabaiaaajlaajkkkijakkggkhkjkhikkjhknlikkkjaamjhkkdjkjkjlkljjjjkjjijkifjihmjiihakhjkkjikjggjfhhkajjfijejjjiikkiaaakjkaejljkkkkllkjkklkjclkjljkkjkmikjlijkkkjkgjaajkjjkkikjleajnaalkllkljjmjjiijmjkmjjijlkcijkknijgjaajihhckgaaakfjijjjlkjjkfaaajhkjlgajjkaaaaalhgkkjjijaklnkhjjejkjjkkdkkkjaaakkjkkkkkkukhkjjjjikuakgjikkjgijjkfjlaaiikajkjkjkdlliiukghkfkjlidhjgaaaainjifjaaahijkjheaakgjkkjkklkkjkkjkkmkkiklkkkcjkklckejkkkkaagaaaimkijjkkkkjkkhjialjljijjkjkkjlkhjkfjjlnikjkkjjkjhkaakiaajkkijckkjkaaajaifagiiiilhjjjnjhkkaaakjaahjhjijhkihkkjheaaaljkjkjlkkjkhkjicknkikuaakajkkkkjkilhliujaiihijihljjaailmahljjkjkjjjgijdkhhijjghifjjhjkkjikkjkgglhlkjklkgkklkinckkllkklkkkjjekjjklnkkkijijmjjakjaaajjikkkmjkjkkiijadaiaajkkhmkkagahjkgaakkkghjjiaaiffjkjijhlaaajjkkkjjkjjignhhbhijjkljjkjjjjaaaiijjgiikiaafijemajjkjkikjaaeajjjkjkjjklaajaaijjmkhlekjhjekkkgaaahjhijikikaaaaaakhjjkkgijiiaakehigmklkkaaajjkkjiijnkkkkjicjlkjklkkkkllljklelllkkjjljjklkkkkaaajkikfagkgkaikjjkjlkkihjjhjjifkjkllijkkkkkkjjkjikkikkkjjkkhljjikjjkjjhjhgliekkifhkckkkikljlhkjjkmfakikiaaaujjjgkagkljkaaaaaaahahijjkjljjkkkaaaafkjkkikkkadajkhhjkkijihikjadalaagikjkidjkkikjjkfjiaaakimiaaajjkhjgkejjhgahikkjkgkjjklklklmglmllfkkldlmjkjkjkkkkjghjkkjljkjjikjiijllihkjgkkkjikkkijjkkijjkjkjikaaaaaahjhiaaajhkkkkgjlhhiihijhjicdmijfhkhkjaajkkligakieimijkgdiflkjkjhegkaaafkjaaalaahjkiijjkiiaikaajkklkljfaaakjmkhejjfijihjikfaajkkiikfidkhikjjafjijkjkejkkgkejkgjjjjjkikklklkklelkllklkllklllklglkkkkkkkjkiikjjgjjikkllkkkjkkkbaajjjjkjigidaaiaaaaakjhihaaaakiaahgkaaejkkkkijhgjjiiceeaaaaiejihgjihhikdfijjjikijjijkfjkgaijnagaajkikfkhjjhljfkaaajkkiljaaaiijjkhkaahjkklmjigdkkjjihkaajjhhjhiaajjlamhjhkggjkjkakkjaaajkilaahdjkkljkkjhjjklkjjmjkklklllllllllllllkljkkkkjkkkkkkdkkggekjjckillkjaajiaaaejniaaijkgidaajkjgkikjifejmjjkjjiijhjjknkmaaaihkkjhljmfljjaaaaajjjlkjjkgliikjkamiicgjkiejifkkkjijjcikkakoklklkjkjkeljijkadjjkknlkkaglcjnjjjaajknjkjkkaahjhekhkjaaiaikaafakfmkgkhjajhjkkjiakkkjiljjhhkkljjlkklklkllllkllllnllklljikijkjjkkjjjkmjlnnkkjkkkjlkjhkjjaaijhaajjjikgokfihjaiaikijkjkejikajkkkaaaaaejkehkhjigihifjkifijlhaaajkufjllaajjkdkjijiljkjhkaaihijhfkjklljlkkjjhjaallikkkjaaaaaafajkkjkljkhkhjkkjaaaaaajaiaaahaaajkkkilklhkkhkhajkaakgjailahgbkkjkklkkkklllllkklkllllllllllkllkkkjkklkijjkkkklhcgakjjkujkjkkjkkjjfaaaaakdjjijkgaaakihkknuhljjfikkhkkjlililkkacffhghkjjjghgjggmikijekghaajkkkkikklhhjjjkkkeahhaakjkaijkkjjkljjjkaaklkjkijljjkjjlcfkbkldjmkjkllkaakacnhmkhijkaikjcjkkniknlkaaakhkabdakkklliilnjkkkfkklklkkllklklkklkllllkklknlkkjkkkkjkjkeikjlldlklkkuhhjijjaaihkjkkgaigjahiklaaahaaiaajjiiilinikhfakakagjljkaaaaadijjkjkiidhaaajhkgjkjgkjiaamaaaaaijakaagiejjkkhkhgihgaklkmjkklkkdaaafaakaalfnjjjkaaakekkijiikkjkkkaaanjikijjiaaaaakkklkkjkkkikijhjklkkckeklikfhklmlllllljllllllllllckllulglllkkljkjkkkjljkkkkllkkkkjhjikjjhigilaakkgijfjidlhkjkjjekuijgejhkjkkkjijmikkklkljlaahgggimkihjhjjhnkjjfamkaakaajkkaaajaajckljjkjkkfjjiajlikjkjhkjlkkjaakkkjklkllhihljkjkjnkiklkjkjkkijkjacakfaaaahhilljjikjklklkjjkjijnikjkkkkkmlgkkjjjejlklkllkklllllklllllkleellkldjljgjjjlikllglkkkhlekjekjjigjkkkcaiggfgaagijjekaacjkklhkjiaaaiaiijkjkkklkigijljjkjikakjaaakhijkjaaaigikkjkmbkjjkjiihkaakkjgkkaakkjkljokjlaahjiijlklkjikkkjlkjifhjajkejgkkjejihklkkmkljojjihijjaajkfkklkkkllkkkaejkklkjlllkkjkkkjkkllkmllkllkllklllllklkklkklkkkllkjlkkkkkkkkklikjkiikjjgjjljkifakhkhjjkkaeiifjjijklkjjaajkjkkgjaafekekllklkkkjjkkaahmaaigkhjakhhikfikjkijnkalkjjingjkkhjikkjkdjkkjhgkukjaakjkigkaaakjkaallnljjjiijhujjaaajlaaafaalkkgkjkkiiikkujjkkaakkjfajjjkijjjiniijknjjkjkjkjjlclkkllllllllllklllkgkkllkkkkjkjjijmkjkkjlkjlkdaiijjjjiakikkkaakjjajihhhiaauajknmifkhikjijjjjgjaajmkiilkkjklkhfaikjiihgkhaakkjiiigajkkejaakkaaaijcnkkkkjkkkkkjkaeajjhejhkkikjkjkgkjlklkaalkjihhgjghiamaaahfkkkhgkhighjmjihiacakkkllklggkllkkjaaaajkkikjjikkkkkkkkkklkklklllklklllklllkklllgklkkkkknjjkknkkkjjjkijjikkjinjjjikkijljkhajihiggijajgjhaajaagkigkhlhnkilikjaakkkkiihkkgknkkiiiijaahiiikkkljlijkkljijkjjikjkjjjijaakkkaaafhjjaaakkkkkglaflllaakkillfikiiiguaaaaakljjkjikkekjhkaaakjkkljgflklkikjlkjihijkhjkijkkkjlkkokllklfllllklllllflllllllklllkkklkkjljkkjkkjkkjjkjjhjlhjhfmiijikjjhikaaecfahjakhegniljkjjikhkjjjaahaalkjkkkjkkkkflilijjjjiiihkiflfkidkllklklkaahllkjjklkaaijkkkkkhjkejiljllakihkjhjjkahaealkaaaahnfjjiajkgjkkkkkikladaaacgkjjjkkkllnkklkkkjjijhhjkjjljljjlklkkkenkkgkkkklkklkkmllllllllullllklllklkkklknkkkkkijjjkikjjkakkkjhkihgdiaijhkhaaaainjkiikikjfkhkhanfjfaaaaidknjjhjaaulaakjaaajeinmjaacdiikkkekkaakkeajjlhkkkjfjkjkijjkkjifjkkjmkijjkliijmjhlkklkkidciiajjijigkhjdkhlillkjfijjkjiikkkkkjlklcakkkklilkjijakjhjkjjikjmedlllllllkkkllllllllulmlmllllllkkdkklkkkkkkjkkjiikjjkjllkmjiljkjikigjljifejjikkkjjikjhkjkkhjgekihjikkjijcljjiklklljkjjaaaajkkijkijjijaaaklnlkkikaafaakkjlkkjkkaajigkkkiikjikklkikjkkklkikllikekijhaaaliljiikkkkijjjjkaajjjkjkjhklhjkkfikllkjaaaaaajjikiiikiklkmklkllkllklkklflllllmmllllmlmmllllellkkklklkkekjkkkklllkjkkjjlkkgjkkkaahjkihhaakaekjjgjekkeklhkjjjkekkaaajljkkkkkaakklkkfiihiihiakkkfkljllkaalklklljjjjkkkkkjgjkjjkikjjiaajilllkkjjijaaalkkkkkjknkjjkjhiaaailliklkjidkkjjijhlkdljjlkkllkahgkjkiaekjlnkklikjkijjjkkkfkklkkkllllllllmmlmmfcmmmmmmlllllkkkkjkkkckkihiukklkkjjkklkkjkkakjkfikahijjhjhaehijkkkcljfjkjkgkjkjikjjkdlkcklkkjjjlaagldjgkkklkklklkikklgkkkjiaaakdkjlljknkkjilkjihjgiljjhkehcjjidjkcaaaaiaagijljhjijmkkklkjkkjiknfkjkjhdkikkljkjjjlklllekkjjjfbajkijljkkeklkkklkllllklllllllllmlmmmmmmmmmmmllllllkkljjjkkkkkkkklnlkflkklkagaiuiijhkhgghhfjajkijjdjhnjlkkekkgkkjjkjjkjkjiijkkkiklkjigaaafamjaaaaaaaakjkkkkjjjjaaaikjklkjlaalhllfjjkkkjkjikjlikjdjkkejjikjlkijjgjkghijikjkikkkaaaajkifdgjjhkjkijldjmklklkemhmlkkkkljkjkkkkjkfkllllllklmlllllldlmmcmmmmmmmmmmmmmmlllkkllkkkkklklkkklkkkjkkkjikckfakilkkkkjiiaafkjgkjlmikjkijaajjhkjikkhhakkaaajlklkjaajkkihekjkaalljlkklkilaajjnkgjlkkjklikklkjjilkjajjkaakikjjiklaaaijjijlhjjijmjjjmmkiijiaakaaahjkjkjkjkaakkkkfljfndkigfklklkckkjikiikjkjkkkkkllllllklllllllmlmmmmmmmmmmmmmmmmmmlkllllklkkkjkjkknljlllkjllijkjlklgjkkjkjjhjeajkgjjljaaakjljkkaaaikaekkkkknkkaajkjjfgdgckgjidaakkjlaalmaaajejjgjhjaadakkllkkkjaalkkgkmljkhkklkkijjijkgjaaauakckjkifaaajihhehkgjkaaaikijkknknkijjjjjhakllikjjgbjjkjmiikjkjllkgkklkllllllllmdllllmmmmmmmmmmnmmfmmmmlmmlldlkkllkkkkklefkkiikknlljlkihkkkjliujkjaagalkklkkljiaaljjmaaaajjkkljdklkkjkjijkhjiiaaakjkukkkkjkkiljijjikkjjkaajkkmklkaaaklkieajkagjkkkkjklglilhjikhighfjhaakgjnleaajkkajjkiiijjhkiiaajjiaakojjkklhjgjjjgjijkhckjklkjklkkgllllllllllllmmlmlmmmmmmmmnnmnmmmmmmmlllllkjlkkkklklklmjljkkkllkmijlkjkklhkjiaaaakieikkikjakkkikklkjijjjkfkljakijjkkkfjjaaakafnkglllkcljkgjhkkhenfjjahifjaaijkjjlaajjikiklaajgklkukoaakkjjkjlkigeaakjmkijckhkaaalkkhghjkiaaaaaagijhhjmkklkkjlijkiikkkkekljmllkkklllmmllmlllmmmlmmmmmmmmmnnnmnmmmmmemmmmmgllkllklklnnklkkkjhnkklkkkkllklkhiiijjjjljllkkjikkjaajhjijjjjaajchihilkjkkcaaaiikjkaabkimkjmjaaajijknkjgihjckcdjkaaaalkkljjkjkclnaahkikikjkkkkkjkaakkhjmighjhjkmjjkkhjihkjjinmjjigiiimjijijkkhaaekkkkklgihikklkjkklklllllllmlllllmfmmmmmmmmmmmnnnnnnnmmmmmmlmlllllllklkkkkllnlllmlkdlkkikjllukkkjkkkfijijjkafaakjkiejljaaalaaaujiikkdjaakjkaaajkiikklnkkjknkflkjaaaikaagaigjdjialjlijjkkkkdlkklihknjijjkkuklkllljkkiaaaamkjkieaijkjkkkjjjikejkjjjiiakkjiijiijgjjjlkjjijkkkkinckklekkkllllllulmmmmmmmmmmmmmmmnmmnnnnnnmmmmmmmmmulllllllklkkglkkkklkkkkikllljikikkkgjlkejcackjjjjjjaaajikljiljaahhjhkjkkaajkiaaahmljlklikljkmgkkjjlaiaaakjjkhjffijkklljaaaajkhkkjkjijigkkkhafllkhaallaajjiijjkiahkaaakkkcikaaikkefkiakjjijfifjjaajjkjikjkjkkjkklkkkllllkllllllllllmmmmmmmmmmmmmnnnnnnnmmmmmmmmmmmlllklllkllldlllkleljlljkkloljkkihkkjnaahllijnijjhjkigljkkkjkkhjijikhjlkjjaaakmaakmjkkknlkadajjkiiikibajjgaaaiiafikaakkjjklknkkjjaakjjkcaagdhllllaaaalikkjigkkaanhjjkkjcjkkkljjlkaakjjaajagiieknkjjjjkjkikjljkkkkklkllllllllmelmmlmlmmmmmmmmmmnnnnnnnnmnmmmmmmmlmmllllllllllllmkllkdlllkjkkjkkkkijjjjkaaagkjaaajjnhiklikdlkejaaajjjjijjijjkjkjjjjijkkinjkaahlaajjnfkkhfhjigijijebjkgkikkkjklkaaakklamaakjkaealkkelfllkaaljkijifikjiikhjkkkjikgjjdggiljhijiecidkjjjjekkjkjjkjklkklkkllllgllmmmmmlfmmmmmmmmmmmmmnnnnnnnnnnmmmmmmmmmllllkllllllmllklllllklkknkklijieiekkkkjaikkkfaaaaikhkkjjljaaakjfjaaiklnjmkkjkihnlknkijkkaajjijjjjaakaakkjicfjgjhgknjkkkkklllkkagkkjjhkahlaakllkaaadugjllkjijifkjeigalaajkjjhljiiljijikjgjaajhkilkkkjkkjjjkkjkkkkllkkllklllldmmmlmmmmmmmmmmmnnnnnnnnnnnnnmmmmmmmmmlllllllllllllldlkllllklkkkkklmcikjkhikkklahjikjjijjlldjaaljhijjjamaaaijaajjjaaikiibaanfmjiihhhaaahaajgjkjkjfiiaanjmaagjnmllaaefklklkjklknklaaaalklkkkaajjjejjujijkijkiekljkaahkjigjijkadghkkkjalkkjhhikllklljkkklluklklllllmmmmmmmmnmmmnmmmnnnnnnnnnnnnnmmmmmmmmmmllfcllullmllllllllkklkkkljmjhjikgijhiikkkjkhmjkkkkkjkaaalajkahkikkiiiljjjhkaaajjjjljiikaghdaaaaiklllkkaaaajijhejjhkifkllkaakjljgklnlfjjjjkkjijkkkiaaaklgghakkgjkjikkknjkfgklkjjikkglkgjjigageijkjjkjlkllkkklekkklkllllmlmdmmmmmmmmnnmmmnnnnnnnnnnnnnnnnnmmmmmmmmlllllmelllllllllkllkkknkkjjkkjiijkkkkjkkkgjiggaakkklllkjkjjihgikjiiaakaaajjkkjkjkjijjihmaailljkjkkknjkjeaajjjikjfjfalkkiaaljkkjkkklhijjklikljaaakljkledkljmmjijjikljaakaajjlllnkjikjiljigjjkjjkjljkjlllkjkklklkllkllllmmmmmmmmmmmnnmnnnnnnnnnnnnnnnnnnnmnmummmmmmllmllmmlmlllllllllllkkkkkkljkjkkklmllkijikhkaaaaakkkjkkijjjjhjeulkjlkhjijjgiefjagijlkdkljaaeijjikjjjaaaijkjgjfikiijnkkkjkalllkacakkjjklkilljaaaajaaajakljkkaajhaaahjhgklkklkhlkkkbiifnkkkdiihijjjkjllkkkjejklllllllmlmmmfmmmmmnmmnnnnnnnnnnnnnnnnnnnnnnnmmmmmmmmmlmlllllllllfllllllleklkkkjkkjkkjlkklljjiijjfklkljgaljhkkjnknkahakmjlfkijghhiikjiaaaajjkgkikjjaaaaaaaakhiajkkkkjiaajkkjjkjahakkklkjilijkkiljgjjaaklkkkiklkjlikjjkjiiikkjjkkkkegehkjklnllajhjjjajikkjklllljlkllllllllmmmmmmmnmmnnnnnnnnnnnnnnnonnnnnnnnnnnnnmmmmmmmlglmlmlmlllllllllkklklkkllnlkklklkkkkkkhjijhkaaahjkjkkmaajjjjlnkjjmfgjaajjkkkkijjkkihklkhhjdjihkihkkibkjhkafgkjaaekfiabkmkkkllhaaljlikhgikjaaaklkkjjljkljkaajjjidkaadajlkkllmkkjkkkjkjmiliejjkjjkklnllkkkkklllllllmmmmmmnnmnmnnnnnnnnnnnnnoooonnnnnnnnnnmnnmmmmmmmmlllmllllllllllllklckljlmlkkjkkkkkkkjahkihjjllabalkjjjkjkaaiklgkjgihihhjkjllfkjikijaajfgikgajjaakjjljkaagikkkklijkkaalikfjkkllhjlkkfjgkjjkjijiklklkjkkkjjjiaaaaaajjkllkklkjkcjmklnekjfkjjjjjjklllkldklklkklllllmmmmmmnnnnnnnnnnnnnnnnnooooooonnnnnnnnnnnnmmmmmmmmmlmllllllflkllknnmlklklllldllklljlikjjikjjllkklkkjfjikklgkkljkjhijahiaamkimihkkkialukkkjmjkijhikhmjjklmlkkikklkkkkklkkaajjlelmgamjekkikkmkjaaliiikkkgjkkjikkjcjljkmlmlllikgkkjgijjjmdikiifcknjkllllgklkklllllmmmmmnnnnnnnnnnnnnnnnnooooooooooonnnnnnnnnnnmmmmmmmmllllllllmllllkllkdlkgmelklklllkkkkjnljhikjjlkjjjkhlbjjllaacdhjlkjgjjgilkjkkjkkjiaaaalkkkjdkijjkkjklkkkakaamkklhjkkknlkikkkkkahkaaakkijkkakaaaajjdkjhkijaaakhkkcklhhiifjkkjkljknklkhjjjjkikjoknekmlllkgllllmllmmmmmnnnnnnnnnnnnnoooooooooooooooonnnnnnnnnnnmmmmmlmlllmllmlmllllkllfllkmlllmllmllkkkkiiiagikkkkkkikaaiikhifjhjjfjfaikifkieadljjiljhkaaaaaaaljakjjjkhkkgnljkaaajlkaaklikinklllkkkkaaakkjjjkkkhjkkaajjjkgkijaaiijcjkkjldjikkjjkijjijjlkkjlkkkkkknkkllllllgllmmllmmmmnnnnnnnnnnnnnnoooooooooooooooooonnnnnnnnnmmmmmmmmlllmmmmllllllllllllllllmlllkkkkjikkaaaaenlikkjhkkinjmkhljhmkkjikikkjjaakaaakjkaakiikkjkjjehjfiaaaadjcaijjnkkaakfjljjlaakkkkkkihmikihjhimkjkjkaajijaaagkllhjikaaafkllkkkjjkkkjjjiikjijjjjkkklklllklllllllmmfmmmmmnnnnnnnnnnnoooooooooooooooooooooonnnnnnnnmnmmmmmmmlmmmmmlgllllllllllmllkllonlklkijihkfjimjjkjkkkjjjgjjjjkjkjlnigiigkgjjkhkjkjekahkfjfaaakgjhaaiiaaikljaakkaaaaajkmaaikkjllgkjkjjjaajijgijklaakjijjaakkdjjljjflkkklkhijjkjikmijkkkgkkkkjkkklkkklkclllllmlmmmmmmnmnnnnnnnnnnnoooooooooooooooooooooonnnnnnnnnmmmmmmlmmmlmlllmmlmllllllllllkklllllkkjcaakjgadlikgaijljijnikjkkkjaagakkaijfkkkheeiaaaeiiikjjjhjinjjkkmmiklljchjkikaaajjukjkfkkaaaaijkjaakkjijlkabikljkjjjkkkkjkheklkljkjjiagikkjkkkekkljjkkkkkkklllllmlucllmlmmmmmnmnnnnnnnnnnooooooooooopppppoooooooooonnnnnnnnmmmmmmmmmmmmlmllllllllkglllllklllkjkijaaaajjkligkklkkkijjaaikkgknlaaaajkkjjjhmkjghkhkhjjiaaaaaiiiikjkaaaahkaajkkkknjhmjgkkkljaajkiaauiaaaaikjeljjkdkkkjjhhkijljkkjkaajjlkkiijkllkkkklkklkkkjljkkllllllmmlmmmmmmmmmmmnnnnnnnnoooooooooopppppppppooooooooonnnnnnnnnmmnmmmmmmmmmmfmmlllllflhmluluelnlkkkjkijjjkklkkklkiljujjaaakkiijkjiaakiaajkhihjjijijhjijhgaaaaijhdmijkkjkkggjekaaaaaaakhkkkaaklhjjkjlenkjjfkhjkkkkkkjkkjljkjkjikkifikjikljjikkjlllkkkkklkkkkllkkllllllllmmmmlmmmmmnnnnnnnnooooooooppppppppppppppooooooooonnnnnnnnmmmmmmmmmmmmmmllmllllllmlgllkkkflikljehfjkghkklllkjkljgklkdkjjmkkjliiikfjkhfhjjaackjcijdjihhiaaaaajljlkkkcaaaijkilikijkjajamkiijjjkkjijkkjhkiaaljjkjlillkaaajjjjjihjkkkaakkjihkkkkjjkhllklllkklllllmmmmmmmmmmmmmmnnnnnnooooooooppppppppppppppppppoooooooonnnnnnnnnnmmmmmmmmmmlmmllllllmlllllmkljlkkljjajhjkkeiljkkjkkjkjikkkjjjlkkgajmuaaikaaaaaijililaaaaaaifjhjjkaaaikljjcjkjjkhkljjjjklhhghilaaaajkkickeigkkkkklkjjjkkgehlkgaaiagjkkkjjklkklkkkklklkkkkklllllllmmmmmmmmmmmmmmmnnnnnoooooooopppppppppppppppppppppooooooonnnnnnnnnnnmmmmmmmmmmmmllllmmlmmlllklckdlkjjlkklkjjjklklkkhjkaakjlckkiljjilidjijkkikifjkjaajijhjkihijkihjkjkaajiiaigkijiihljijdehaaaaajkkfkkijkkjkkmkiaaaaaaaldkklkkkjkjjikljljkkjkkkkkkjkkkkukkklkllmlmmmmmmmmmmmmmmnnnnnnnoooooopppppppppppppppppppppppppoooooonnnnnnnnnnmmmmmmmmmmmmllllkllllmllkllklkkjkijghjkkkkjkjjjiklkjlkkkkjlaaajkaajkcaaaaahgjjjaakiijgfaakeejkjkjjljhihihgjhkkhkkjjkgaaaiejhnjiklkkjknkhkkkijljhlkkkkkkkkkcgiiaknaiiljkkkkkkklkjkkjlkllklllllfmmmmmmmmmmmmnnnnnoooooooppppppppppqqqqqqpppppppppppoooooonnnnnnnnnmmmmmmmmmmcmmlllllllllllklkkklkjjlkjjkijkljkkklulklialkkjkjkjjkkjaaajjnkjhijkjkakiijkjjjikjddjhijkejfiijjjikkjkkllaaaahgjfikkhkikkkjkaajnaakmaalkjllljjkkjkjgkkgknkkkkkkkkkjkkkklkllkllldlllmlmmmmmmmmmmmnnnnnnoooooopppppppqqqqqqqqqqqqqpppppppppoooooonnnnnnnnnnmmmmmmmmmllllllllllllkkkklkklkkkcijiikknjkjjljkknkkjlllkkjikkkejaagjkkkkjaaajlkhjdfjkkhjhfkiifkjkjjeljjjaaajljllljkaahaeheegakkjlaaaijljaaliaaaeakjjjfgdjjjjacafjjjhnjkkjjkjkjjlllllkfllllmmmmmummmmmmmnnnnnnoooooppppppqqqqqqqqqqqqqqqqqqpppppppooooooonnnnnnnnmmnmmmmmmmmmmllllllklkekkkkjkljkkkkkiikklhkkkiklaiaagklkeahkfkikjkkikkklkkjadlkkkkhjilhifanhlkkjjjaahkfcmjkklkkkkljiiigajkaaejkkkkkklkllmakklkfmkkkijikikjijhijijjkcknkjkikkkkkklkklkkllllmmmmmmmmmmnnnnnnnnooooopppppqqqqqqqqqqqqqqqqqqqqqqppppppoooooonnnnnnnnnunmmmmmmmlllllllllklllukkklfjkkjkkijjjjlkihkhlkiijkkkediamhjkjjjjlgdkkdhjalliaakdkgjigfjkfjjijkakkjkhkkjlkjlliaaljkkijhikkkabaajjkjjkjjlhkhegkkkkhikggijjhejjikkidjkkkkkkklglkldllkflllllmmmmmmmmnmnnnnnnnooooopppppqqqqqqqqqqqqqqqqqqqqqqqqqpppppooooooonnnnnnnnnnmmmmmmmmmlmmllllllklljkljkkjijjjkkkjlkjjkkggkagnckkiikaaaaaajkkkdlkkkaucklikjjjjjkihjiljjkjaagekkikjjkkkekkkfaajkahiaaaaihknljkaaakhjgjaljlkjjikihkijkjinkkgjjkikkkklkkkkklklllklcllmmlmmmmmmmnnnnnnnnooooopppppqqqqqqqqqqqqqqqqqqqqqqqqqqqqppppooooooonnnnnnnnnnmnmmmmmmlllllllklkkkkcjkkjjjjjijjjljjkjjkkiaackjjkkjkkjjkkjaaedalmkkgkkjklkjjiljfjkghkjjjkmgjkkhjaakaackgkaaimiimjaikjkjikajkjkgmjkaaajjkjaadkjhighiiihhiiiikjjkkkkkkkkkkllkllllllgmmmmmmmmmmnnnnnnnoooooppppqqqqqqqqqqrrrrrrrrrrqqqqqqqqqqqppppoooooonnnnnnnnunnmnmmmmmmlmllllllkkkjlkjlkkljkkjjjkjklkkkgiijkkkmkkkiaaalkkljklkkmlklkaaaajjkaaaalamaijjkkhkijagljijjkujkjjjidjkaajfihkfgjjjkkjlhjiijgjkhhiaaijjijnkijjjkijkukjikjklkkkjkkkklllmlmmmmmmmmmmmnnnnnnnoooooppppqqqqqqqqqrrrrrrrrrrrrrrrqqqqqqqqqppppooooooonnnnnnnnnmmmmmmmmmmllllllkkljjkkjkkkjkkkkdkjkjjjnijjgilaabhkfkkljlkjklkklkkklkaaljjiiahjkgjekkhhhkjaaiaaaaaalllkfiihhkijiaaanjdlijaaailjjjlimkhjjhihgihjjkhngigagijnkikkjjkkklkjkklllklllmmmmmmmmmmmmnnnnnnooooopppqqqqqqqqrrrrrrrrrrrrrrrrrrrqqqqqqqqppppooooooonnnnnnnnnnnnmmmmmmllllklkklkljkkdjhjkmllllkkllmjkjibjkljhalklijkflaakaclkkkjklljejljmjmiijikjkkckjjijaanklkkaaaikihkmikjjilikhhkjkijjijkjngkhhijklijjhjkjhhijkkjijkjkkkkkikkllkkgkllllllllmmmmmmnmnnnnnnnoooooppppqqqqqqqrrrrrrrrrrrrrrrrrrrrrrqqqqqqpppppoooooonnnnnnnnnnnnnmmmmmmllllllfllkdklkjkkjjklljljjfmkkllkjllkkkkjklkmaaaklmkkljlkmmkillkkiaaajijkkhgkjdlhaajikiihlkjkaajiigjijmkkkaakkkikaaahadjgjhhngajgikhijkkjfijifijnljjkjkkklckllgllllmmmmmmmmnnnnnnnnnnnooooppppqqqqqqqrrrrrrrrrrrrrrrrrrrrrrrrqqqqqqpppppoooooonnnnnnnnnnnnnnmmmmmlmllllllkklkkkkkkjllkkkjljkkdklklllkkllijjjjllkkklkdllaaaalkjjjijkkjjjijjljkjkgkhaaiklkejgjkmkulhkmihljkjkijkikjkjjjkcjkkjejkghijhaniikjjjijjkkjnoljkkklllkkklllllmmmmmmmmnnnnnnnnnoooooppppqqqqqqqrrrrrrrrrsssssssrrrrrrrrrrqqqqqqpppppooooonnnnnnnnnnnnmnmmmmmmlllllklllkljklllkkklnkmklkjjhjllakiilkkljijkjlkllkkcjljkljklkjkkjmjjgjekifjkaaianajeklkkinllknkaaajjnaaaajklkjkaankkkkjklgiijngkkjijgiijkikjjkkkkkllkkkkllflllmmmmmmmmnnnnnnnnnnnooooooppppqqqqqqrrrrrrrrsssssssssssrrrrrrrrrqqqqqqpppppooooonnnnnnnnnnnnnmmmmmmmlmllllllkkklkkliklljlllkumlljijkljijidajkkjjlklkllklkjkjljaajjnjnhukaahaakkljkkjkkkaaalljkkkkjkijkkiklkekmlkjgjikkkkmfjkgjkgiibkjiiiijijknkkjkklllllllllllmmlmmmmmmmnnnnnnnnnnoooooooppppqqqqqqrrrrrrrsssssssssssssssrrrrrrrqqqqqqpppppooooonnnnnnnnnnnnnmmmmmfmummlllllcklkljikkkkjkdjlkjlkkkkmihlifhkagkkkkllkkklkiknjkihjaaajikijijjjjkfjkjaaiikjkfakllkkklnkjkkkljkjjjaajilijkukcjkkhijafjegjkjjajkjkjjkkjklllkgekklklldlmmmmmmmnnnnnnnnnnoooooopppppqqqqqqrrrrrrsssssssssssssssssrrrrrrrqqqqqqppppoooooonnnnnnnnnnnnmmmmmmmmmlllglkmllkjllkjkkdkllljllklkklmllkkifkckaaalmhhllhahjlkjjjhkigaaakgjnjljkkkjjkikhmiekklljjfnkdklkkjllkjjaaaelaajljikkkkijhuiihgjjkkjjkjjckklklklllllllllllmmmmmmnmnnnnnnnnooooooooppppqqqqqqrrrrrrrssssssssssssssssssrrrrrrrqqqqqpppppoooooonnnnnnnnnnnnnmmmmmmmmlllllllllkkknjfjijjkkkkklmklkillkkjlfjkfaakkkklkglkljlkkaaajkkjihkkaakljkjhkjaalgkkljllkluaeaaajmjaalkmljjjjkjkkllmjkiikhjdekjgjikkjlhlkkjlllllmllllllllmmmmmmnnnnnnnnnnoooooooooppppqqqqqqrrrrrrssssssssssssssssssssrrrrrrqqqqqpppppoooooonnnnnnnnnnnnmmmmmmmlmlmlllllllllkkkkkjikklkkdlkilklkllikklkkkfljlkjkkljkikjakjhijaaajhjkiiklhjjjjihigliikjiljlkjjjnklaaaanjkjjlaajkklkiikachkkjkgkkjkkidhkkflkllllllllmlllllmmmmmmmnmnnnnnnnnoooooooopppppqqqqqqrrrrrsssssssssssssssssssssrrrrrrqqqqqqppppoooooonnnnnnnnnnnnnmnmmmmlmmlllmlllllkjkjikikkkjjikjknmkklghakjcjjkkjkmjfaakkkujjkkiikehhaajkkkkldkiaajjljkkkkkklkkljjjjkijkkikkkkkaaagcknjjamjjkkkjkkjjjiikjjnkllkmllllllllllllllllmmmmmmnnnnnnnnnoooooooopppppqqqqqrrrrrrssssssssstttssssssssssrrrrrrqqqqqpppppoooooonnnnnnnnnnnnnnmmmmmmllmlllllllkkjkkikkkkjlkhlljkjlflkkkkklllkiljkajllklkkjhaaaaikjkjjjikjljkjjhflljknjlkkkaaajjklkkaajikcaaaaijikilhiaaaajijjkgjkjkkkjkkkllllllllllmlmlllmlcllmmmmmmnnnnnnnnoooooooppppppqqqqqrrrrrrssssssssttttttssssssssrrrrrrqqqqqppppppoooooonnnnnnnnnnnnnnmmmmllllllmllkklljkkjmklkklkgeiiiigkadaaijjkjkkjkkkkjkkiklkhfijjkakakjilkejjkmkjlikkjljlkkkkllkkkaajaaijcjjcejdjhugikjifjjkhcgikkjjkjkjlklemlllllmmlelmlllllmmmmmmmmnnnnnnnnnooooooopppppqqqqqqrrrrrsssssssstttttttssssssssrrrrrrqqqqqppppppoooooonnnnnnnnnnnnnnmmmmmmlllllllllllkkkkjklkkkifkjkkiknkkffnaaajjjknfkkllaaaliijejjhiaaahkkgmjjhjnijjklkkjkkkkjilkaaaiijgdikaahhjideakijjijjkhfealhjijikmkkjklllllllllllllmlmlllmmmmmmmmmnnnnnnnooooooopppppqqqqqqrrrrrssssssssttttttttsssssssrrrrrrqqqqqppppppooooooonnonnnnnnnnnnmmmmmmllllllllllglllkkukkihjjknkiikkjjjkjjjkjiaajkkkkjjkdkhiiaaamkjihlkgjjhikjjhknkaaaaalkjaakihjjkgfdikiijhiihjaaajakaajjjifojihighkkkkllllklllmlllllllllllmlmmmmmmmmnnnnnnnooooooopppppqqqqqqrrrrrssssssssttttttttsssssssrrrrrrqqqqqppppppooooooonnnnnnnnnnnnnnnmmmlllllllllkllllkkkjjkhclkkgjjcjkijjjhaaljljijjkjnkkkaaamijgkdalaaiakjkhkkjkikaaaaakaljklkkkijcgkhjaaaaaaajiaacijiikikikajjmnkkijklkkfllllllellllclmldllmlmmmmmmmmnmmnnnnnooooooooppppqqqqqqrrrrrssssssssttttttttsssssssrrrrrrqqqqqqpppppoooooooonnnnnnnnnnmnmmmmmmlllkllllllllklklkjjjnnkkjgkkajjkaaighkjjkikijkjkijjlhdkikjjhhaaaaakkkidkjjjkklkkjjllaaikaaaakfjijifiijhhjaaaikjgjkgadjjjjjifajjikfllmlemlelmllllllllllmmmmmmmmmmnnnnnnnnoooooooppppqqqqqqrrrrrsssssssssttttttssssssssrrrrrrqqqqqppppppooooooooonnnnnnnnnnnnmmmmmlllllllllklldkklkkkkkjkjkihjikkkhaaadujiaajjjkkfkghkamkikjikjkjkjekjjfgnhhegllaaaakkkjjgkjicjjjifikjaamhiejfijiakjhjigjhjkjkjikijlkllkklglllglllllllllmmmmmmmmmmmnnnnnnnoooooooppppqqqqqqrrrrrrsssssssssttttsssssssssrrrrrrqqqqqppppppooooooononnnnnnnnnmmmmmmmmllllllkkllkkkkkljkhjjiiajggjijkhiaahljikjkjijkljjjdaajjjiaaakkkjhncnkaaekhamllkllkkaaakkjjjaajkikkjjhajhiikikhggjkhkkfhhgkijkfjkjnllmjlkklkllklllllllllmmmmmmmmmmnnnnnnnooooooopppppqqqqqrrrrrrsssssssssssssssssssssrrrrrrqqqqqqpppppoooooooonnnnnnunnnnnnnnmmmmlllgekmfleleklkkkijiihfkijijjkgjkikfaaaalaakkgkejkkhjkikifiljkaijjajgkhkkikkahhjjjjlkgkjaaajimkaaakkjkcadjikaaaaaaakhgjiikljcjkjjlldlllkklllllllllllllllmmmmmmmmmnnnnnnnnoooooooppppqqqqqqrrrrrrssssssssssssssssssssrrrrrrqqqqqqpppppooooooonnnnnnnnnnnmnmmmmmmmlmllllkklllkjkkljkikkjikjahdkkghhdigfkijkkkjkkljkkkklilekjldijijkkijikkklkklkklikkkkleaalkjkilijnieaahjjjihuiijlkjkjjjjekjkjkjikkljkkllkkklllllllllllllmlmmmmmmmmnmnnnnnnnooooooppppqqqqqqrrrrrrsssssssssssssssssssrrrrrrqqqqqqpppppooooooonnnnnnnnnnnnmmmmmmmmmlllgllklllllklllkjkjkkhkhigjkknkjigjigkjkjkkaaaaaijlkfikgifjeaafjhkkhkkjjfjjljkkljlkklkjkaaajkkjkikkljkjnlkjijknaaliaamddajkkkkjkkkklmkklllllkkllllllllmlmmmmmmmmmnnnnnnnnnooooopppppqqqqqqrrrrrrsssssssssssssssssrrrrrrrqqqqqqpppppoooooonnnnnnnnnnmnmmmmmmmmmgmllllkldllklklkjjjkdjhedikkljkfkkjkjgijkimkklkkljeakijkjjjjnaaiajikkkkkljkkkkaaklimlikkkkgjgkklmkkjmkjkjijaajkmkjijaaadjkmjjjgkjjklkkklkkfkklllellkllllllmmmmmmmmmmnnnnnnnnooooooppppqqqqqqrrrrrrrsssssssssssssssrrrrrrrqqqqqqpppppooooonnnnnnnnnnnmnmmmmmmmmmmlmdlllllkllkllllkkijjiijjjikjkkkdlijhgahjjjjjlkklkgikljdcjknaahijiaaakkjkkkiiaijkkkkhdagfkjkkhklllklkkkkijijkcgikiljkkkjkngaeihfjjklkkkljlkllllklllllllllllmmmmmmmmmnnnnnnnnnooooopppppqqqqqqrrrrrrrsssssssssssssrrrrrrrqqqqqqqpppppooooonnnnnnnnnnnnmmmnmmmmmmmllllllllkkklllkklkkjkkkjgajklkkejjfijhhlhjkkkaaaaaaaajkaaujjkjjielkljjkjlkjikjjmkkmkjkklkkkdjlkkllaakkkjiijaakghfkijjkkjghhijkkekjiklllkjkklkkkllldllkklllglmlmmmmmmnnnnnnnnnoooooopppppqqqqqqrrrrrrrrrssssssssrrrrrrrrrqqqqqqpppppooooonnnnnnnnnnnnmmmmmmmmmmmllmllmllfklkklkllkkiikjiijlijglkfjaaaahjhiijljjjlklkaaaimijjijkjjlkjkkkjkkdkkkkjkaaaaaaflkojkaaaaakiidhkjkjicijaajkkljlgnkljijikimjjjmjjlkkkkkllllkkklllllelclmmmmmmmmnnnnnnnnnooooooppppqqqqqqrrrrrrrrrrrrrrrrrrrrrrrrrqqqqqqqppppooooonnnnnnnnnnnnnmmmmmmmmlmllllllllllgkklklllkhjkjkjjlkkjknkkkjjkhjkaajghjjgkjjkjklnilihjjikjgjkkjiilkkkkikjkjklkaallllkkklklkkkkkjkijkjhkikhijanakaaibkijigikkklkjkkkkklllllulllklkllkllllllmmmmmmnnnnnnnnnooooooppppqqqqqqrrrrrrrrrrrrrrrrrrrrrrrqqqqqqqppppoooooonnnnnnnnnnnmmmmmmmmmmmlllllllklllkkklklkljkjjkkjljnkllklkiajnkaajiijjjahdjjkgjjkjmjjijjjjlkjjkhkjkkjiaaijijjaaiakimkkfkllkimkleigigkcinikkkjkdkjiiejjijihfkjkklkklkklkknllkklllklklllllllmmmmmmmnnnnnnnnnooooooppppqqqqqqqrrrrrrrrrrrrrrrrrrrqqqqqqqqpppppoooooonnnnnnmnmmmmmmmmmmmmmmllkllllllllkllkklklklijkjojkkklnkkkkmkkjjaahiijdjiuimhjkaaknikkikjjjihkkijaaafjmaaaiiikngkklaigkjejakkkaejaghjaakkhkijfjhaajkichjjjljkjjijhkjmklklllklkkkkklkllllllmmmmmmnmnnnnnnnnnooooopppppqqqqqqqrrrrrrrrrrrrrrrrrqqqqqqqqppppooooooonnnnnnmnnnmmmmmmmmmmllmllmllllllkclklijkkjdkfhahilkkkkllklkkkkkkjmklejijkkinilkjiaahajkdiidjkaaagkjjjiaakkkgjjkilaflakflkjlkkkjiaaalkjigijgadkekdaaaaljkekmlkdllkkjkkdkllllklkklllkllllllcmmlmmmmmmnnnnnnnnnoooooppppqqqqqqqqqqrrrrrrrrrrrrqqqqqqqqqpppppoooooonnnnnnnmnnmmmmmmmmmmmmmmllllgklllllkklkljkkhnjjldiljjdkljkkjjkkljikmkaanjfjiilkkjmijiljkijkjghieigflkkemikeeikkaaalkmmlljjllkjdjikijjaaimikkjkkjikjkkejijjikkkkkkkljlkkllllllkklllkllllllllllmmmmnmmnnnnnnnnnoooooopppppqqqqqqqqqqqqqqqqqqqqqqqqqqqqppppooooooonnnnnnnnnmmmmmmmmmmmmmlmlllkkkklkkklklnlmjkikjnkllkkkjkkdiekaajaaillljijhjiiijikjejfkkkkjukjlckkenciimgkjmjegknkkfkklklgkklaaaaakjfujkjikihaalaakkiliijkjjkjkkdilnkkklmlkkllnllkkklkllklllllmlmmmmmmmmmnnnnnnnnoooooopppppqqqqqqqqqqqqqqqqqqqqqqqqqqppppoooooooonnnnnnnnmmmmmmmmfmmmmllllllkklljlfckkkkkjmjljkijlbkkeaaaaaiikhjjikaaikkjigkfjjkjkckkkjkkjkiijjiaagiiaaakihiehigijklckkkllkkkaaakijjjjkaaalkikkfkgjkkgkkjkljkjkjkkflkkklkklllnklljkkklkllllllmmmmmmmmmnmnnnnnnnnnoooooopppppqqqqqqqqqqqqqqqqqqqqqqqpppppooooooononnnnnnmmmmmmmmmmmlmmlllmllkkkkkkllkllmkjiamkkiaijjikidljjjjjlhjlikkkhhkiigaikikdkkjjikiaalkaaaighhaaaakjkaabfiaajaaakaaaafilkjkjkjaaaaaaiclkkckikjlhagkkkkjkiekcjghkllkmlkkkkkllllkkglkllllmlmmmmmmmmmmmmnmnnnnnnoooooopppppqqqqqqqqqqqqqqqqqqqqqpppppoooooonnnnnnnnnnnmmmmmmmmmmlllclllllkkkkkkkjlljjljjkkklkklkljkfjkaakijjaaajjkkjjijiaahkjjjaaakjjiekijjaakijjggikdhklkkkmajjjhkijjkkkcajuekjkkkgaklkklffkjkmjijjlljlkjlkkaakejjjjkhjklllkkllkkklklllllmlmmmmmmmmmmmnmnnnnnnnnnoooooppppppqqqqqqqqqqqqqqqqpppppppoooooonnnnnnnnnnmmmmmmmmmllmlllllkllkkjklkmklllklkjkkjjkklklkckkkfkkjajkjhkjkkkdgkkljjjigkjlkaakjhjkiaaaakfkfjjjihjnikjkjajcjfkjjikikkkkkkjkhkkjlklklkkkjkkhjmakkaakfdikjjiknjkkjjjkllllkklkllkklllllmmmmmmmmmmmmmmmmnnnnnnnnnoooooopppppppppppppppppppppppppppooooooonnnnnnnnnnnmmmmmmmmmlmlllllllkkkhkjkkkkliekjjhkkikllfkllkkkhiigejijkahgkjjelhaajjknkkljjjjciikkkkaaaaaghjnkjaallgikgjfjihggehkkilkkaakkaaaalkkllnlkjiaajjlkkikjkkkkkkjjclkklkklkknkmkkkklllkllklmmmmmmmmmmmmmmmnnnnnnnnnnnooooopppppppppppppppppppppppppoooooonnnnnnnnnnnmmmmmmmmmllllllklkkkkkkijiikjkklkhkjjhjjikjiakjbaaaahkkjiaaaaajkihjgjaaakkkhkijiaaknhaaaajaaaikmkkmkjkjhiaajaaaakaaakkkejkjlaaailkmaeklkkkjhkkhkjjkiklaaaaijjhikkjkkkkkjkjoklklnkklkllllmmmmmmmmmmmmmmmmmnnnnnnnnooooooopppppppppppppppppppppoooooooonnnnnnnnnnmmmmmmmmmmlmlllllklljkkkkkjkkkkdjjjukhjlmjmkjkljlaajaakkkijjaakjfjkgjkaajjjkkjiijkjkjkjjaaalhjjllglknimjlihhgjkigjhljaaaaalklaaajkkkkdaliaaaaaikjhjkklkkkkijjikjkkjljlkjmkmikjllkllklklkllmlmmmmmmmmmmmmmnnnnnnnnnnnoooooopppppppppppppppppppooooooonnnnnnnnnnmnnmmmmmlmlmlmlllkkkkkojijjkkkkkkjjmjjjfklkkkkijakjjkjjigaakjjjijlielkgjhdifljkjaaakijmaahaalikjecjllnjfaajcaaahkhmiagjehkjkjlkeaajaaajaajgkjjkjjjjjkkjijkkkkkkkgajkhijikjikklkjfjlidklkllgllllmdmmmmfmmmmmmmmmnnnnnnnnooooooopppppppppppppppoooooooonnnnnnnnmnnmmmmmmmlmllmmmllkldkkllkkkkjkijljlhjjgnjjdklkkjklkhkkkjilhjiggikliaajgikhjijgkgjgaakjinkaakhjhkkkmllklliijjjjhaagkknfkjjjaakkkkkjljkllkjkjkabjikmikmljlkkakakkkhkijjklkcjkejklkikikjijklkkkklllmmllmmmmmmmmmmmmmnmnnnnnnoooooooooppppppppppooooooooonnnnnnnnnnnmmmmmmmmmmlglllllkkkkflllkljjkijfkjaefgjkjiihikafajaachaakjdfjjjcecgjijkdfiiaajfgkijjoijjlkjkkikaakgjkkiljaakfaaaijekfaaihhhjlmfjigklikjnllkieniikkkdjjcmjikkihkllkijmkkjjkljjkkjijkkjmlkkkllllllllllllmmmmmmmmmmmnmnnnnnnoooooooooooopoooooooooooooonnnnnnnnnnmmmmmmmllmmmgmllllllkllkklkkkkljkijjkkeaaijkljaakfjkfikjjkkjjjjikgjiaiijihiaajkjkaajlkikjkuahikkaakkkkjlhjaaakeakifjjhkifjkjjmkkljkajlkkkjmliljkkdkjijkjnjkijdkkjjhiklijkkjjjkkjikkjjekkjkjklkllllllllllmlmmmmmmmmmmmnnnnnnnoooooooooooooooooooooooonnnnnnnnnnnmmmmmmmmllmmmlmlllclllkkkkklmkklljkjhjkejjmfajlklkaaaijkbkjijaakiajijkkuikkaakifujijaaakjaakjkkkkolkkilaakjlkkijjjkjaajlkakaaekjlklklklklkkdkjjkkhkjijjjkkjjefjhfkklkfklkklabjkjfkjagkjkllkllklllllllmllmllmmmmmmmmmmmmmnnnnnnoooooooooooooooooooooonnnnnnnnnnmmmmmmmlmmmmlmmmmlflllkkklmllkdkkkljjlhjiiegfilkaaaakmijlaahaaaakkgijkjjigiiikkaagaaaakjaajaaijkjkaakljkklkkkkljjklhkkajaaaajkaaiaahknllkkgaejljklkcikkehikhjijjlllklkjkjkjlllkjiaiijiijjjeijkukllllllllllllllmlmmmmmmmmmnnnnnnnnoooooooooooooooooooonnnnnnnnmnmmmmmmgmllmmllmlmlllllelkkfjlklljkjkkkkckhekjgjkahijbkjaajlkjijjjkkaaiggjiaakjkkklijjkkijcjaaaakkkljlkljgkkkjjkkoiikkaaaliaaigjjkjkjekklljlkgkaalikeajjlkiaaakjjjmmklmfjklleijljiijjfjjiijokkjllnkklmlllllclllllmlmmmmmmmmmmnnnnnnooooooooooooooooooonnnnnnnnmmmmmmmmmmmmlllllemlllllkkilkfklkkdkjmkkkkljkjliaiafgiaajkkjkigkjkkggklkiejjjkaaliaaakhkaeakjfnknkkjehkklljnkklkkjkjkklaaidajfhhhaaakejlljklkjkekkjkjkkjklujjkiijikekjklaajkhafifajglfafjikihjojkklllllmlgllllllllllmlmmmmmmmmmmnnnnnnnooooooooooooooononnnnnnnmmmmmmmmmlmldllllllllluijjkjlklkeklkklklkkkkihhikkknjklkkkkaahkkdaaaakjjjjjjimeaaalkjkkiijjjkhlkhhkekkkjikaaaaakaahkkkkjjejhkliijjkcjhjiglllnkjkkinkmmjljjjijajiiihiiaaaakkjjkaakknkkknjjhgkjkjjkkjlllkllllmllllllllmmelmllmmmmmmnnnnnnnnoooooooooooonnnnnnnnnnmmmmmmmlllmmmmlmlllllllkkljjkklllllkkkjiakiijmjkkaajkjkkkjhigaakjjjjijjekikjiijlikkikaajaaakhjjaaffhaaaakaaagjjkjjkkjjaaakkikkjlihhaajgmklijklkmjfcajkkjlkiimihkakjcjiclenkjjaafdbfakljhkiijgiikkfklklllllllllllllllllllllmmlmmmmmnnnnnnnnnooooooooooonnnnnnnnnmmmmmmllmmmmmmlllllmllklkkkljkkjiokkjklldjljkkmaagkhhkgljcjjjklikaahjhiaahjijkjiinhklaaaaaakdaaaaijiiakiijokkjkjknllaahaajaajjgaaaaaeiijaijlkjkkkaamljkikkijkjhhijkaaaakkkjjaalgailkkklkjkhjjjkjllllllkkkllllllklllklkkllllllmmmmmmnnnnnnnnnnoooooooonnnnnnnnnnnnmmmmmmmmmllmmmlllllllllkkkjgjkijklkkkkkjjlklkaaaakjkjkdjkmikjaaakgkfalaakjkaijlhaaajkhhkjjkhjiakjjhkjaahaaaaajikijkjjikjjjjkgkhaajgihkiijkkkkaahjlaamjjlikijhjmakjlkkkmkaaaaihilfakkaaakjkhijkkkkllklflllllllllllkkkkklkllllllmmmmmmnnnnnnnnnnnoooonnnnnnnnnnnnmmmmmmmmllmlllmmmlclmmllkjkckkkkkkkkkkijjkjnkjaajmialljkaglkjbjiaajimnjjaaaaajiikjnlllgijiklhdijjjijdiiihjkljlikkiljklkjfjljaajjfijhkhigjkjdkhaaijjkkekkjckjhjiaaljlejjahjjjjgjkikkljjjkjlkjjlikkkjknkkkklllllmlllkllkklllllgcdlmmmmmnnnnnnnnnnnnonnnnnnnnnnnmmmmmmmmmmlllmmlllllllllmllkkkjjckkkkljllkkkjljkkggakijjikjkmkaajgihjjjkiaakjkjaakmaaaaljkmkkjkgfekuaaicaaknjdidikkheaajkjkjkjkkkikfkaaakkdikijijkkkkjjekjaaaaghlhhjikklijaaajkkikjjljkjkjgjkkjllklkkkkkllllllllllllmkkkjkklkllklllmlmmmmnnnnnnnnnnnnnnnnnnnnnnnnmmmmmmmmllmlmllmmlmkllllkllkjnhilnklkljjgihcfhjjkieikaackaamnkjjkiegjmlhkikaaaeiljlkjjklijkkjghjkklijkkhlufkkaekjnhalgjgaaakikjhiafjijjihhhnkkjkkhkjlaaakkaaaikjijijkikjgojagaikkjkjikkjmkkklilkklkkilnlkkklklllklllllkjkkkllllllmmmmmmmmmmmnnnnnnnnnnnnnnnnnmmmmmmmmmmmmclllllllglklllmlllklljkjlkljjjjehjhiikiaijkkjficaaakjmkjkjhkjaahijgkjgehkikgklafakknijkkimljjklgihhkjijjhfdekjjjkjkkjgkijeakijiijaajaagkkjkdhjikiuiaaaagajjjknhkadaaaajjjkjikhkgaijiijukkockklkkjklkklllllcklkklkkkllkllllmmmmmmmmmmmnnnnnnnnnnnnnnmmmmmmmmmmlmlllllllllllkllklllkjkhjjekljjlkmlkjkklkkjjjikkjihhkkljkkjfnigjgiikjkjikakijiglkklkjkhjjjjjjikkkclaajaaaaaajjaaaaihkjjkijnkajaaijkiekaakkkfkkikjaakkgjhjhkikgkklaaajijjkaakkijjijkjjkjdjklkkjkljkkkkkkkklkkljllkkkkkkklllllllmmmmmmmmmmnnnnnnnnnnnnnmmmmmmmmmlmlmlllllllkllllkklkklllkjjkilklkljkmlkklkggjkilaaaijjaaikjiaaaakkigmjiiiijjaaaaklgiijjjjkcgkkijkjgjhjkjgaaaakeifjfkjlkjikjjkjcjkhiijkjjjaalakjjmjkihkgkhnlhjikilklkklkklllkaaakgkjfiiicajhkljlojkkkjkkikkllmllfkkklkkkjllllllmdmmmmmmmmmmmmmnnnnnnnnnnmmmmmlmgmlllllllkkkkllkkkkklkklkkkkdljkhakhkkjafajljjjhaijaaijjijkogghjjiadjhjajkjjjjijjkjlllaajjjjingkjlkuiigfljjljjkaajjkkkaaaaakljkjabcgjjjlkcjjnaaaalkjkdkhljjjjfhjhjfjikkikljjjhhlkciujaaakfkgauklhkkkkggjkjikgmjkkjkkklkjkklkllllmlmmmmmmmmmmmmnnnnnnnnmmmmmmmmlllllllllllkklkkjlkllljkkkkjklgkkjjlkkjjkkefkkiaaaehlaaaafikkikhijaabnigihhhihlaaaaaljkjjkhjjjklkkaajjkigjjjjaajkkihkjiiikkjjjkiljjgiigjkhjikkkjkjjkkaahkiihaaajhkijgaajjjjlgklhaikjhaakaaihkgaihejljknokkjjdjllllldlkjkkkkklkmllllllmlmmmmmmmmmmnmnnnnnmmmmmmmmllllllklllkllklkljdljlkkjkjkkggijklikjkdjkmkkjkjijaakaaaijiklkljgjikikaaaifjaaahgaagjlldikjhjjjjaaljaajjjikikkhikljijjfbkiifhjjgnihnkdkjijjahjkkkikkkikkaaakiajhiiikgkjkjijjkiaaaljmjjijkekjikaaakkikljklijljkgkkllmlklkkjljlkllllmlmmmmmmmmmmmmmmnnmnmmmmmmmmllmllllllkllekkkjklkklllljnkjjljjldkikjghikjklkmkkjjjgijamkjglkkkjiikiiaahjigaajeiaaaakkjhiaagkkkljkkkkakjladjiaaiihialkhdejjaakkkijlkilijjilaaukaakkkkkklkkjikikkaaakkjjjjjijkjjaackijjkdjjejdmkekjijikklknljkkkklklklklkkljllklkllllmmmmlmmmmmmmmmmmmmmmmmmmlmmmllglllllkjlkkkkjkkkjjklkclkmikkjkjkkaalklklljjjaahjkkjhjjkjklhaaajhjjhjgnkagkjjeljaajkkljiaaiikikjjkikaaajjiukjikiimaadnheniikdiflkilikhjjljjjmjllaaaikhaaajjgiuajjjgkkjijhjkkkdaeajkjkikiiknkielakijahfiiijkjlkkjkljkjjjijklllllllllmlmllumummmmmmmmmmmmmmmmlmllkllllllkkklekkkkkcjkklkklkkijkkkikjiukjikkkklijkaakjjkkkdgaaaakjgjeeikjjjikjuikgchjjlihkkjjjkcklajaailkkjjikfkjhghhjjhdikhiaakkikkjkmaijjjjaaijjkijjijkkijkhiaaaghaaaaahkkijjnjikjlikkjjegiiahgkgahjkjkicjkkmklkklkjikjjdkklllllllllllmlmmmmmmmmmmmmmmmmlmmllclllllmllklllkjkkkkkljkkkkgkhihgkhikkjkkjjklljkkfkfijjlaahkjjiaakifikhakljaaihjkaaaalilfkjkkjkkijkaajihjaaaaaakfckkaijkkkghihjaaaakjkkikikaijjkkkjjijjjlkjlifjkdihnikigkkjfijdjklkikkkikllkjkaafjkmkiaaajkjjhlmliijjlkkkkjjjkjkjkllllllllmllmlmmmmmmmmlmmlllmllllllllllllllkkkklkjlgjekiljkkkljkeaikaaadijkjhklljmaajmjjjkkfjfjjaaakibjjfhkigegkfjhkkailhkijjkijkjjkilkehjjjfaiigjnhjkifhhaafkkkaaahljdaaakjjjkjijiijkjkgfaakujjljhkjjjakiaaailljljjaaklkhkkklgkaaakaadhmjjklkikkkkjkkjijkkjkkkklllllkllllllmmlmhmmmmlmmmmlmllllllllllmlkllkglkllijkjjiehkjkkjgeahjnciiiuljaaakgjhgijiklkkiijhhkjjaajljlkkkidjikkikfjjkjaajkijkjhkiikfaajjiigidfgklijkhifjnijkkjjdigkijkaaaaajhjiiikjigaaakaaaeijjfbgaaaeiejkkkabdlkkkaaekjlljkgaakkjigjjhhnkkiijkilnnkkjjkjkedkllklklllllllllgmmmmmmllmlllllllellllllmllllklkkkkdjkkkekkjjjkmjjlkjkkmgijkjgijkjkahckiijjjjgjegkajkagakiljhkjkjhljkgkkkijhjfkgihkjaajkijkjbaihkfceikaahjhkjabdjjukmnifaajaafaaiikaljijknjijkihaagigjjkaajiiibkkjmkhhjhifmkkknjaaaljkikjiaaabkjjkhkjaakkkjijjjjjllllklklkllllllmmmmmmlllllklllllmlllkklllllllkkjkkkjjkkikkfijbkaabijjjkkhikgjkjaajijhhjaakjkeaaakijjjklkknhjgaagekjkaahjlhnaaakjjjaaaimjjjkeiaaahjnjkjhhhejkkaacgdijijjhikjialjlgkigjkhjjaaaajaaecjjjhiaaaaaafkkkkjihkgkijkkkaajkaakfggjkgjikjjjhmfjklkkjijhnjkckkllllklllkklllmmmmmlllllllklllllllldlklllllkkkkkkgkjkiifjkkklkijfkjmmkkijggaakhhiaajjjijjjjjhhjhkjgkkihlhklkehhkjjjaajeedhjjhkkhukjjjjihaaaaifhkijmjkfimaakaaajihaaiijaakljhhajjhkkkaahjkikjigihgffjgkajijijjglijjkjkkjljlljjikkjkjhaaaljhokkjjhfklmjkkjkjkkjkjjiklllkklkllllllmllmmmmlglllllllgfllllklkklljlfkkkikjikimklikkjkkkjnjkjjckjijhkegkbkkkjkhgikjkhijaaaaagkkijaaiadjjikaaakaaaaahjikcjgjklaakfiiahaikjkgilkjijkheijaaafhaajjijkjjigijijjikkljjgikkidijkkiaajhkkjjjjjljjmaahjljkjjkkikjijnaaaakjmgjijlmklijkkjjighfkkkkklllklklkllllllllmlemlggmlllkllllllklkkjkjjkkkjkifajnamjkkljaaljjklklmnkadlhjjaaikhjaaaaijmgjkenjkkikmkiaaaaaaaikjichdgjgifgkejjjhjnknkaaahgejgkijjjgkjhiieiaiihaadagimahiijjjkjujkjlaaikljjljdgjljdaajiikkmkaakjkjkklkuaajjljjjaaaaaajjhmjfkkkkkjjlkkuhjjjkjkkkkgjkellllfllllllmlllllllllllllklllllkgkljjmjjjhgjfjjkklnjkljjafkkikigdjikinaaaihaaajjjjkjiikkllgajklkkaaaighjjaaijjjlijljiaaajheikiaiajkikaajimaljjjjkaaaaaagjkjjaljjgngiigjaaajijfklaajjjkkhjikfejkdaalijjjkkkkjkikikjjkkjaajlbkjjkjjjkamkjhjkjjlhgkgibakkkkjjkkjllklkklllflllllmlllmllmlmllllllklkkllkkkjijkijaajikjkckaaaiagheeklkklkgkiijfjgdihjkkikkaagkkkjgdkkikkkaajkkikjkjjijknfaaaulhkkijaaajkkjkihkgkjhnikjkjlaagjhhjjmkhhjkhejjjhjkgjjjjaiiakkikijjkhkmjldjkjlaealljkkjhkkkkjjlkkjjkkjjkdkkkjhkijkkaagdkjkkhjjkkjkmfkkjkkkkklllkklllllllmllmllllllllklkkkkjlkjjijhjnkgjjjijkkjlllkfjgaajkjgaaajajiikkjjhijgkkkaaiiklkjlljikmkjgjaaikkihklkjujkkkdkhkkhikijjkmjaajneckjbhemjjaeaakjmajjjjaaajjjkkijaaaalnkkaakgieaakajkaaihljjaaaaklikkjjiaalkjklkiljkcaaaaaaajjkkkljijkjlijkijkijjjjjlnjjllllllllllllmlllllllllllllllllklkjljijigfjjjhjiijkkkkjkmklkjhaajkkkklkhiaafimkjaakjkklkkjlhdikiikkliaaaaaifhikklaajlnaajjhkcjdjkjaeaiinihfiijihgkkjaaamfaaaaaaifikkejkkjiikjkkkljklkjlljjgijjilkaaaijiiikkjfkjkjkkklhlaajkkjgljjijijeaikijhkjkjjkjhgkfkjgjjjegkklkfklkllllkllmlllllllllmlklllkkkklkkkjeigjjjgejohijjklkjkkikkkljkikkikkljgjkiknikkjkkaaaaklefhkkklhakkaajljkkkjkaackkjjkiikgefikakjjjghihbjkmiijihkdlkjkjjkkjjjfagalnlljjiijfkjaaaelkeiaakgiimkjnjhljjgkhkjkaakkaaijjkkjnjkkaaakkkjjkiaaaaaikjkkilukgjjikjkkijjlkikkllklllkllllllllllllllnllklkkkjkkikhgigiiifiigjkaaajkjklekjjkkkkjkikiijjkhkjkjjkjijkaallkjaaaaajkjkaakhgkkkkkkllklnhkhkkfkkjigilaaaaaajjagbiikjjjflkllikkhijfaaakiiiaijkaakkllllikkkghjjjkgeidgjklhdaakjlakaahjjllikkjkjaaaaaaijijaagiihaahjijjkhhijkjkiijjkjkklkjkjlkkkllklllklllkllkllllklkkjjhkiiiiajkgaejafjiiikkjlkljdkjkkjkjikaaljljjkiegkjkkkijlkjaaajiiikkjmkilkkjkjkikklijkjjhjjnilaakjjijijfgkiihaaaaackjkljkkjhfejlaakkjjikdkaaaankkljijnjficjikjjjjjgjjkijkhaakkjjkcjaaagjejkfaakdkikjkkkbkiiaakikjjgkjjidajikijmkkkkokkkkkolklkkkklklllkkkklllkkjlkjjjgagkjjjajjijkkllicijiklkkkljkkjkkghjijjjiekhiikmaakkikkjkjhkkkljlkjdjjkkeklkjkkjjhjaajjjjkkllajkjkkiijhfjfiemjmjkkljjkgilaamjeiaakafgjjkkaaaaaakikaaaakmakkjlhikijljlkkjkjklkkcjhldllikhaalkkcjjikkjfgkkjjjhjhkghhjhajjiijjkjkkjhjkkkgllulllkckkkkllllkkkkjhhhijgcgjmaajaealkikikkkljinjjkklekemkjaaihkfhkgiflknkjjgkjnjkkjkjjjkkfcjjjkcamljklhjjkaamjiljkjkkjijiiijfjiaacaahikaaakkkjkkikijaajkljihikikjaallgdikjkjkaaljjjjjjaakanjkmkaaajjkjlkkkkaaaajkkjkkaaajiaaiijjjijjcjkiaajjjjjhjljjjijikkkklkllkljnklkjkkkllklklkkkhcajhhjhlijkjkamukkkljijjkjnjkejjagjkjkjuikaajifjjkhjjjkkkkkllaaakkkljebkjjkkkkaadjkgjkehkaakaaaljikaahakaaaaiijjnmijjkkkikeijjjlijiannaaakjhkkhijjljldhjadakjkjhheaahkikjkaauklnlkjjljkhjkkuaakjdajkikagaajkijmmaikjjkjhjkjahghjjjjlkkjlmklllkklkkkejkflkkkkfkigjkkejjhdheaajjhkkjkahagjikfkjkkaaaakmjlkikijjhhhikhkjkkaaaikagklhlkkkhjkelmelkaagkkaaajjlkjiilkkaafhjjijihaajkkgikkjlkkaaaaaaanhjaaklaajagaakjldkkijjjhhihjaahjlkikekglklgkaaaalkehkkjjjkjljjjghljkhjiadijjikhijljihaajjjhjhikjjkkjkjkkljkkjkjlllkkijkkllkkljlkiahigjjjkjiknkjkkkijkaaaaikkdaajgakkgkaaaaakijdjiicjljjillfkkaajkjikgjclkkkjklkkmkkkkggjjjjmdcaakjkkkaacaghghacjkniaiklklijjkekaakikkkjjjggkjmkkkhjiaaaajijkhhhlljijjjkknhkjkjjjkkljljijlillcfkkmdijkjjjkaahkikaaajijmknkljkijfkkkikkkjklkkjkkkkjkkkkkkjkklkjkijjkjiilaaeakjkjhkjikkjkkkcjanjjkkkjjhiaaaaefgaijnlgkmakjlkjkllljijlkkkjiaajmkkjjkjkjaajkkacjjkaaagjklkfaaagigjhjikkkjkkkkkjjkjaaaajhgkfajjkkaakhknjnkkgjkiijjkihlkjijnkmkijjjklkkkkglkljjikjjlaaahkmjijkaafkjmiaaaaakkiikjlgfaiikjjjklkgkkkjkkkhjkkkjlejkllkklkkjkjkikjkkmkkkkkkoikkklhljkjkjjijjjijihajkjikaakjgjkjaaikllkkkjkkkllkkikkjkaaaahjkklaaajidjadhihakhaahkjnkaaiaiilfklkkmklkaakkihikgkijjkkikjkhaakkjjjgjkigjaaajjgiijkijlkaakijjkkgjaaaljkkkkjkaglfjjdaaahgjjjihjjkjkjlkhnfjgihkjhklnlijkjkllkkkkjjikkfkkkkklkjlkjjkjlmkkjkmlljkadakliiljkiidklgkjjjlfjjjjjjkjijkijjjjkjklkjkilkeaaaaahdhkjjjijkkimhiijjjjjjijgjjdjnidjligimiiajcjaakkkkjlkljkkjkiiaacjkjkkaakdikjikijjikjgjkiijgaljhjliaaajjjkkilkjkjkkkjkkkdjknhjhekjjaajkaackikmnkkhhkjijeikjaafkmklkjekikllklkjiikkhkkllkjukkkjkkkkkklkkkfglkjkljmjkjkjflfkhiiknahkjckidjkkjkkijuaaakjkkkjajakaakjjlkkjkkikijjjijeaaajeiijhkjkjhjjkkaaakjjjghlllkaakkjlkgkljhjhijijikhjkjjjckgiaajlkkjjiiijhhihhjjjfhjjkkjlmkkikaakkkljklnjmkagjadhjkjkkkjkkkjkkkkkilfjjijjiiiinkgfikdiklmllkjnkjiiiaemjkkjjkkaakijkkjlkkkukkkljiljjjjjkkkjjjikijhhfigigjkkdjkaaaakkjkkkkjaalkjkijfjkjkjkljhgjfgiikiaifjjhjihnkijjklmlljhchgallkuklkjhlldjkjjjjaaekkkjjljdljikkjkljklulkkjiidaajgiaehikkjjjjjjljkikklkkaaiaajjkjjhkjknklkkkkaakkllkkkkaaajgajjifgjiejlkkjlkkkmikkkkcjkkgkjjkllkkkknjljkkkklllkkklklgjaaiiiihkkhkijkaaakkjjfkkfhjhiaanlnkkkjiklkkijaaaijaaamaaaifgiijigjkikikjkdhgjkijjkkjjaaakkihlkijjijgjkjiujkgaalklkinjhkljeaaajjiaajjgiaidjfjhhikjhkmklkjnlkjkjhidaihikkkjjchkjlkjkhkhkjdlklcaljlkjehhhjkkjjkjjjlkihjjklkkkmihjkkgggkkkikjjlkkhljljlklfkkiahjlikjhjaajiijjjjaaaaikjfkjjjaaaajaaaaaaamkaakfifkkjgaakjkkjjihmjjijhkkjaaijkgnjkjjjljmjkjejjjgajjjkkjkhjjjjjlaaiijkklkkkiaamjihjjkjkaklhhihijjghjaaaajaaaaakjjjihjgiknjijghjijgjlajijjaaadlkagkaaakjaahniiikheihjnjkijkklkeijklkjhiaakkuikkkjkkkkljjjfaajdkmidlkkkjjofaaiaaaaahekjjjkfckmkjaahcjjhjkkklklkjjjkkhkaaikdjikkjaajlhkhijekjkkihkfjkhkifkjgilkjjjjkgaakkejihghjekjniaijjkkkjjjkaaallkkkgimkaagjhjjjkakajkjklhiikkaajgeigkkkjjjeajjgkhjkiiijaajkkinkkjkahahjijjjkkmjaaaagjjjkafjkijijjkjjjkhakjilkmkjkjgkkgiaalkklllkllijkijkakcfkkkjijjijhaajkhkhhdkgijjhjjikjkkjjkaakkfjkkkjliihgkjiiajihkajkkljkjikgaiaaaajikijjkiljhikjgjihkjlijikgjhjkjmkikgaaaaukkjkklifgjiijgdkigjjijgijihjkighkkigiiaaaaaafjjhjjiknjaajhjijjkkkjijhjhjiikgiijkacaaakijgehcllkkkjikjjkkhkjlijkjokaaaikjlllllkkllkkiikijifikjljkiikkkaakiaanihfajijjljkkejgkkkihhigaahlkiifaggahaaijkjjkkkfkjhjijkikhghjkhighijjkjkjhjhceklaaleijjkaaaakjlkgajillkkjjjgeiehaaaajnaaaihhiiimanfijfiijjjkjiggjgklhikdkjijkfjckjhjaadhhhhkjnhkidjkjcjahakkhkijknjkjjkjhigjmjiaakjkjkjijgfkckklkkjjkjkijjjjjiojaaaaakkaakkjijaiikjjijaaikjnlbkklaaajhjjkjkmlaaiikjkgjkjijkjkkkjjijjjiaaaahjjijigkkfkaaaaahhijaaajaaaaflkilkkjikjiaajkikkidjkjkjiaaaaaakjgaaaaikcfjaajfjiikhkaciaaijjkkkjkaaaaadjjjjkkijaajjjjjaaaajiaamhnaacjklkklkjijjmjkaaklkjklaajgjkgjkkkjkculllljkilhifjkkjjjaajkjikfljkjafaajjjalglljkjkkkllkjmkaaakillkljijjaaaajjjlkkkljijjigljhajjhaaaaahjkiijjiakkkladaahiekajjkkjjakfjkkhgjaaaaajjiaajiiihjaaajjgfigikifgjijjjijaaaaaahaakljjljjikjhkkgjkighdkhjaajjjaajikjjkemikjlkkjkkkjjkjkkjfjkjkkijkjehkhkfakckkmfjjjijikjaaaigaaajihikhjhjkaaajijlkiajjjiilaaakkleljgjijikjkkjklkkhjjklijgikjkijagaaaajiiijjkkijgjihijiiihljlkllkfakjkjkidijiikahjhkljjagaaaahihhaajiikjjigjhahkcjjghhejhjghhggkkdaaajkkkkikljhjjiijkojkhgjknjlkjaakedhkcmjijjhjklkkjjjkmjjjkkaagaakhaahiijklkljkkjjjjkjihekijamaajkjkjiieihijkiikiiciaaaalkkffhhllkagilaaaakaakjjhkkljkjlffijjeaageijhjjhkjkjkgjhijjaaaaidkaaakljaaijhhijjkaaafgikkijaaajeghkdejijiikhjaajaaaafhfuaaaaaaaaakdfagkjjjkikjjfbkjhdmikaahaaciikjikkkkjjihhejikkknjkkkkkkkjjaaaaaalhaaalaaaaikjjkkmkknkkaaojkahjaaaajjjjaahfjaaijkigihjkiikjklghllkfacjaakjkjijjjkjjkkkkljlaeajmihjjiaaaaaiaahkikjjjkjjlijkaamjllkhlkjjljjaakiaaalkkkjijjcjkkaajjjjjiaaijjjiahkjkdaaijjfigkgkijiajkfjkjlkiikjaajdijjkiggjihekiglkkjkkijjkkikihikkfhgjjifjkkjjjkikjaklljjkkjfjkjkkilijkhkjfiaaajmjjgiljkggaanjjukkgjjdiajjhhkkkjkmkaacakekjiijjjjkfkljuikijkkaaijkghjjkjkbhmjhkkmklkljjjehjhiinngikjkaaajijkkgkhhaaaaaaaaakeidijaajjijhkilkjiiikiiijhaiiijhjfkgiiaaaaailjihjkkhkjkaakjaejiijjfkjjhkkjkkmkijjkklgkklkckolkijkaaaiikjjlkkjgjjkkjhikkkjjkjkklnfaakhikgkjaajjjaajjjjkijigjkkaaljkljkjlkljkkaaalkiakjklikiijjjjkijikiaakajjjjjjnniaaalkjkkklaakihkaaaaklklhgnjkmjjgkknjkjaaaaaaaaaafkkjmhjajjlkmidaajjkjcihjhiihaajccjhinjfkjjkiikjjjjaajikiijjgkgjiiejljlkimjjkkahjaaajkkknaaajjkkljkkklkiikkhjihjikjaaklijkkehgadhijefakiijikhiklfhkjiikcjkjeulkkmlejjkhhklkkjkkinhkahefcjjjjjkllkkjkkjjahiaaafaaamdklkkaaamkjjiikkilkkkkjihfimiijhhjjaaaaijijklkdjfdkafedjjikkjkjckkijkjiigfiigjkihkgiijkkkikjaaaajjaachkfkjkmfkjaajklhldhgjkaakljjljklljljkaaajekikikbajkjlkjighhjinlkaakkkgaajjejaaaakhaakjjjlkkklkiijkijkflaaaaajlaabakkkhkjjjjigijmilkljikjkjjkkjnhkjjkjkaaalkjeljaikkjaagkkkkjjaakiihjfgaakaakijjkikjhlnjjkljjikkkkkjelllkgamkkkljnkaagkkjikijhkjljkfkkhllkkjkkfhikdiaajjkiljklkkljaaaagjljkihkkkgjaahjakkgkngmkljaandhilaajjjhkjlllufiijjjaaajajfjjjkhjhkkileaaijjaajmaahllkkjfcjkijjjjkkjaaajhaaakijjkkadlklhkkkkjkjjjkijkklaaailkkkijikjhijjkjjjkbiijhkijikaagjjjjgkaakaamikkkhiaaamkklkjkhagghaakjdhaalkjkjkkkikjkkjlkfjlkkagkkibjjgcjkjijukkjjimklgkkknkkkkkkkkkljkkikkjfjjilkfaakmjnaahiiginjgkhkijjgigmhijajjhhaaaaakjekkjjgjjjlkjklaaaagjaaahgjkjjjjdkaaaaaeiijjckkjlkjkljkaaijgkkkjkkjkkkkjikdaaiajkjjjjjkgjjgjdjiamlkkkehjikijjkahijkkkaaaekjljijlkklklkljlljjmjikjkjkhhkjkiihkkkdaikjaahhiljgchjjjiaajhjkjkuljhaajjhafkjaalkgakkkjjjikljkhnhjiaaalnaaaijaaajjijikakjdagifgaaaafkkjdljkaaaakkkfkjekkjjjaaflkaakgjjjcaajhfjakjkjjkkkaajilijkaaglikkjkkaaikklkkiijdjaaajkjkjgiiikkgkhihjjkkgaakaajkjljkkkehikaaaaailkaaakaafklkkkjklkaaamaikkiaakllaaalklljgaajijoikhjaakjklhkjjkljkkkjkkkklkknkkjflaakjkaajjijmjikkaaahiakkahjkikijdddiiniaaakjjlhidkijjjcdkkkkklijkfnjgkljgkgaaiiaiikcfghiaaaaakkfjikgkkkkkijdaaakaajijckikkkgljijjaaajahfaaaaajhjjkiauaaaajiakjgaajiikljlkkjfbjljfiljjlkklkjfjijkiiijjjjaakaaiaaaaajkukklkjjfjkkjikkaajijkkjjiaakjaualmlaakljkhilijijlkkkjkjjjkijikjiiejlikjaajkiiifaakghdajiglakjmaakhkjkhhjkkdaajmijgkilaaaaajhkgijimkjhikkijiaakkfhjkkkknkkhkiilkkjkhiiifjhiiiamhjchjgajiijjikiiahhkljjjkfidkfiijjkiaaajkkmkafkjjjkijjiljkkjhkaajlaaaaajjkjljlilaajijjkjkjaakjjkaaahjkkjinjkeagalkkklkkklaajkjjjkkldkhhnjkkjjbaaajikaajkjajkijihmihfifjjjinhaaikjafijkkgjaaaamkaaaihaehalkjigkkkaahgegjijkjlaaljkhkellaaaajaajkkkjkjiikhjjiiaaeijkkhaihhjikaakjjfjkaamijikjaaaaaaiifkjkiikkgkfkkikblkkmkkkigejkkiaaafkhaakaajlkkikkjihklikiijakjjklkjjjjjjkkklkkeljfkllkkkaakhjnjlkdllkkkgjlhjiljkjkikjilidgijhaalkjkgaaaaaaaaaajkgjjiljjfajkjkhkjkjjgklhjfijiiikjjdkaaaahliikljlkmjkgikhijkjjlhkjjnjfkjaaajcgkiaglfjiihaaaaifighikhjaagjfaajkaijjgjijhgjkjjhlfkikfjljjkdhhgiaaajikkijljkaiahaakjikjdkihlkkkhjigkeiklikaaafjkkaaakmjikkkkkklfklkkkualkllkkmijhjjkkllkkjkkaaakjaajjgciuhkaajjihgjfijkgaafkkhimjkjjikkhalijikiiejffikilkjkimdaaeklkjhkkkkjaaikkijllaaafjiliiefglkmgnkikakhjjifbinkjjijfiaaakiiaalaajkljkhjmlkekjeaaajjmjlkkaaaakjjjkkijijikkkjkikilkgjkkkjjaaekcjgijjkjijfaaikkkklikkkkikaaakjkikkkklljjikkejhghjkkjknjkjjidjamenhidjaaaijaaakjjjikekghaajigaagajiiimijnijkiuaajaennjkjaaakkaigjnkjkllkljjjkkgjjjkkkkjhamaijlkfgkjkhklhjfkigiaakdhkiiaafihkmekjaajijfjihdikjlkkkkdiliklkljdcglklaaljjjkmgjkaakklaaaaakaaaaakjjghkfehiijjjdlllnnjkkaaaaakkllkjmjklkikjklhjjhkkihjigadkklkkkliegjjhjajlijjkgjikiljjhjljkjajjjjjjiemiaaakicjeajiifjaakekkjbhhgklikjkleckjglaaaakknjkmlklkjjjjjhaamlaaaaaadjjakjjcjaahkjhikjgikkjiijiaaalaghhaalijgljljljjjkkjkjjkjkaacgagkaakkkkjloijjikdkkjalajkkaaaakijjkkidkjlllkkjjkjhnaajjigaaaankkfaamegkijkkaallkmkkkkljkjjijigckkkaagkklkjlkkjlijkkkdilkikgkjaaihghikihfnaaaakaaaafikjjafaiiuakkkjjkejjgkikiijkllhjighiijkjjkkjkljjhidjlklkjkhjkgjjakhknjkefhjkikhfijhjkiklkkkgkkakiiikjklkfkjljkkicijlkjjukllkjjkeijkikjiaihgjkjkadkjkjkaaajmkhkjjhgajkaaakkjkjigkmjkaajamkkkgaiakllaaaijjffgggilnfkkkkaakkjnakkkjjoaaakkijkgjjjgjijdkiemkajeiijkjjciaaaakjjjjhlkikjjjiknkikjiujjkjjjkkfkhkhjjfkhkkkkjjkjlillnkjjjjckkkkkjejjmjhjihiikfklaaaaaajhghjnaaakijjkhkhaakjkjaaakilkjaahjmjjaajkjiagehiikkkkklkiiejlkhaaaligljkaaakklkaaaikkkjkjjkafajikhlmljaaaagjijhiijellkkaaaaajkjklkkjjhhfdigaaahkiheafkiihidcaagmaaalkaajjjljljkhkjikgjjhghjkbfjukkjkejaajjaaaaaigafakjgakkklkkkaakkjjjlkkjhkaajigjkjikiaaailjkfkiifjjkklkchlmjkckkkkjfjjjkjkaalhfjgjlkfdkfhijkaaaililnllgdijjfaaijjkjjjiliaaalkjjjkgklkaaaaajjmlaalkljlikaaaaakhlkklkjjmhfaaakkkiiikijhjfmidgkjjiikgljajfijkhjdjuifkaajijikjaaaaakijijinikaaaaaikklkkkjjhlkijanfkjmamaakhgaaaamaakmjkdjkkaajjnjiiaaamgjkkkkkckkifihiaajlkjkklmkjkaaaaakknkikjjiinlkjjjjikijaajjaakkkaaakkkkkjdnjjijkekaaahjjjgaaaakjkkkaaaakdkkfeiklkkdajjhiiilgjjkilkmkklaafaaikkgjjijfgiaaaiikjgjjjjjikbhaaaidajjakhjaakikjljjaaaaaakjkcfkjkjmkljlkjjhkjlmnjjkhjkkkjjllkljaaljjkljknaajijljjlaajiaagiaajkjaakceajjjklknkjljjkkjjnkikikkjkknkmljkkjjhihkjjeikgjhjkhkjkjaacjkghhkkkghjlaamihkukkhkgjkkljlaaalljljlkjkjgjkfijijmjkjlmlieijkaajjljjkijdjaaaakhihiikmjikfkgkkjgiaajliikkfjaaaaaakkejjijjjmkjkjlklfgjklkikkaakkjhjjkaakkkjaiakklklikjkkkklfhakknjkfkjlilaaljjkijkijghfjejkkkaaijkjkjjijaaaafgchkgkljijjjkjlkaiaujhhiegnijkkkjkkilikjfjlgajkjiihbiighkjabaaaakllkklailaalkklcaafaaaiaaakkjikjkimkjkkkjijjjklkikkkaaajjigjhijkjeikjoigkijjijjhiaaakukklkjjngkaanjkkflllljklljdkkjkaakijkkjmkijkjjaajmaallkkkmllkjaalnlkklkikkjjjkkjfmaagajhaakkkjkkmkjaaaakacljkaaaaakkkkkkilkhjibjeijjlikkkjkkjimikaajjjelgaaaabaijaaaaaaaaaklkkkkgkkjllkllgjkjgkaimaaakfjknjllkikkkkaaakjjjkkigjiaajkkhjkjkijikgkfjhjhiiliaakjjiajiaaljkkkjiikkaanmlkjmjkjljjjajjmjjkkiiaaaahjjjjjjkujhjkjkkljkilkjkaaajlukkkukigckknjkjjhlhigkkmkjjjijjaakaaijlidjkjjikjkjelijgaaaaaajkjilijjkjkjlkkjkkkikifhikjglkhkjkikkaaamaaaajgjkkkkjklhkhjkjjuaakikukaakjiljijijkjgjaakjjeikkjhaaaaaagfhjiheejdkkknklfkiiikjjgliiaiajaaaajklaglhgjihikcklaakijiihjkjjaaakjkljkjkijjkkllljlkjjikjkjkkjilaaahjdiimihjjkiknkkkjkjiklikkdjkjaaakkkkkjkkiikgaaacjhjuhijjidikjkigkekmkkkgaajlknijjkjkikgaaafukkklkjkikllklikkjjkhajjjaaaafajjljlinkkaaajhkaajjaajikaakkjjkhaajhkjaaajkejkfjaaanlaakjijkilujkkjjdlkkaaiahihaaeiknihaajaaaaaajikknkhkjaahlkkkmljkaaaalleigkakklkjkhiligkjkkigjjkhlkjmkjkaaaajjkaaaajjladkaakkghijaaakiaaaagkjiljlkkkagljkfnjjgiijjhijjkhkkelljaaakllkkjkljkljllekjjjaakljkkkikkjkkjkjmjlkijjiijaaaaaaajjjigljjhjhikkijkijjujjhkdhgkiaagkkhjkukjkklkllhgkaaaahjgkkaaaaahjaaajgikikklanaagahkkclkkjkkkajaeaaiklkkkkjjkfkjnaallkjlaaaakhjkjmafajijjlikkjkkkjgjkkjaajkigjjigiafhaakkkjhfhlklfaalhjkijfiihinmgjkljaaaaeagkejlkhklljknicaaakkgjkkkkfkkkkjlkkiifdfaijiakihjiijhjjdaackklaaiakikkhihjjikhagjfijgjkjmljjkjkkufiagfhiffhikkkaaajjiihddaaaakjlkniikgjkkkjjaaahkkkikhlekkkkjfkkkjaakkkknkjkjaaajikgkkalljllkejkklkuakkjkjjgjkhkaigijgihfijjijkkkkmaakkkjjkejjjjihlaaakikiggkkkkjjlgkjlaaaaaaaaaaaaadkjjigmakjlikjhjekkjjjhdnjhjjjiiihiafjjkjifjikleijaaigfahaejaaihiklaaaaiijljjkkclgjejehjiiffkjkduiaaaklkjkjjkjhigjikjkmkjljgaaajjaaaakjjiklklkaagkhkkjkkkkaaajkkjlklkmlklkujlkkkjjkaflkkjigeiaaaaaaaklgkjlljklmiklkdkdijcjjjjhekkjhkmijicaagmkljiijkjiikiaaajjijijkjeakjikkijjffahikhgihkikjjgjkhkifihfdgjkjihjihnlkgiikjkjimbgiikkgjijjhicjiiijjakaaajjfjjijgjiklkijjklujkaaaahiikjjklgkgajfjjjgukmllkkjhkaakkkkjjjjjkkjhljaaalaalkllljukkljkjkkjkjaaalgaajaeaajjhhjjfjiokjailiiaakljijiiaajifjjhhiilhicjjkkkgaaikjjjbaaaajaacgeaiijikkkhjjijaaaajijjjhaajihkhahicjjikfijiaalngiaahijaakfiadjieiijfjkiikkaakkhgajeehijjljkijmjaaaaaajlkjikkkjjkkaaaaakjkhklelkdlijaaadjkaakkhkjklkkjjhjkjngjkjjkkiiafaaajgaaelkjjlkkkikjkgkijiihaajkikikkkikkkkljaeaaaaejhfbjinjkghaaaaaajjjkkkkhkjkljkjjaaaifiijgehkkkjaakagijjkagiaaackjkkikhhikgdjjkjjnkiaaakkjfdngijajiaaeimaagijkjkkkkjihaaajlaaanjjjkiljaajamiiaakljkiihigiljjjljaahhkekkkjjjkkkkhjkjljkkjfjlmjaajijeklkkklkkkjjjjjeljjkikjkjkagkijkiaahkgaafiijljeaaakknjilkkjkjjjidijnjjkkhaajkgaaajlhliijjaagajjkijjgkjaaaajiliaejiggjjhfaajaakajiiaakickimhihaaalkkkikkiakadghggfjjkikjjkkaaagkjjbgikjkhkhljkhjkkiijjifklgjjikmickhjiihkijjaaiijikmukkukjjijjckiijikaakjaaheaaaaamjjjikjlkikhjkkkllljkeaaijlnkljkjiljhkkjkkljkljjkaajkhkkaajgkjiikakfjjkgaakhijkjkjiiifjkhijkhjnkkkjljkjdikhfhiijikgaajiidihfjkfjfjnaaajkijaakjaaakijlaagaaiajaaagjkjjikijaajkkklfjhjjijjkljkmijkjjfijjijiaajniflkjmajkmijaajlkkkkkaajjaaaajaakikjkkjkkjmcikkkfgjjkklkjlkkkldklkkllkkkhijmamllkllkljkiaaaaakkjkukgkiikjaaahclhjjjkgikkcjiaaadiikhikhijjkkijijaaaljcglijjiijjkkikajhjjhgikaiifjalikkjkjgjkjhjkkgjljkkkalkhjkkiijmaagkaakaakjkhljiiaakjmkjjjllikijjjkkkjihkjdjjjnfaaihjjjjkkaaaajjkaaaaakhkkljaaakllmjjklaaaaajijejikaajellaaalaiklkklkjlkkhfllklkglljkjjijljkkkkmljiaaakkaakjdkaaaaiklkjkkkifkhkgmaaadikkkjkaahikjkalakegkkjdkaajhjaliajiemiaagagkaadaaakjhfgilijljkkaajjjdeajjjjajkfilhkaaaaaaikikeiiiilaalkkcjjajaaaijjlmjikjikkkkaakaamkjjkkkjjikdjaakjedigiehhjjijkkgiaaadjfaaiaalllfkljlmmkkljjjlkjaaglmkllkckkkhaajkekklmlkkaajkjkjkkjklkjlljlkllkkjikjdnlijkaaahjijjjufknjaaklkkkkkkjkjibeijiggfjaajiiaahgcijjijkjkkkkkaaaaiikjlkijihjaiaikkjjkkikiaeaaijkkijaaaikglakakkkfkijijjjiljkkiikjiijjaaakjjjijaalklkklujiigjjijjjkllmjkjikjlkfggakkikmjlkjkkjaaakklllnkkeallkglljkmmikjjjkkilkkjkkklhlkkkhgjlllkjklnklkjknjihhjjaajaagkljjjhehaaaaklklljllkklkaajikhjkhkjaahijnkjjjlkiefijkjaajkllkkjgkijhiaajjkjkljkkijkkjhkkjkgkj";
var c=document.getElementById('hm'),x=c.getContext('2d'),im=x.createImageData(256,238),d=im.data;
var rgb=P.map(function(h){return [parseInt(h.substr(1,2),16),parseInt(h.substr(3,2),16),parseInt(h.substr(5,2),16)]});
rgb.push([255,255,255]);
for(var i=0;i<H.length;i++){var k=rgb[H.charCodeAt(i)-97];d[4*i]=k[0];d[4*i+1]=k[1];d[4*i+2]=k[2];d[4*i+3]=255;}
x.putImageData(im,0,0);})();
</script>
</body></html>
